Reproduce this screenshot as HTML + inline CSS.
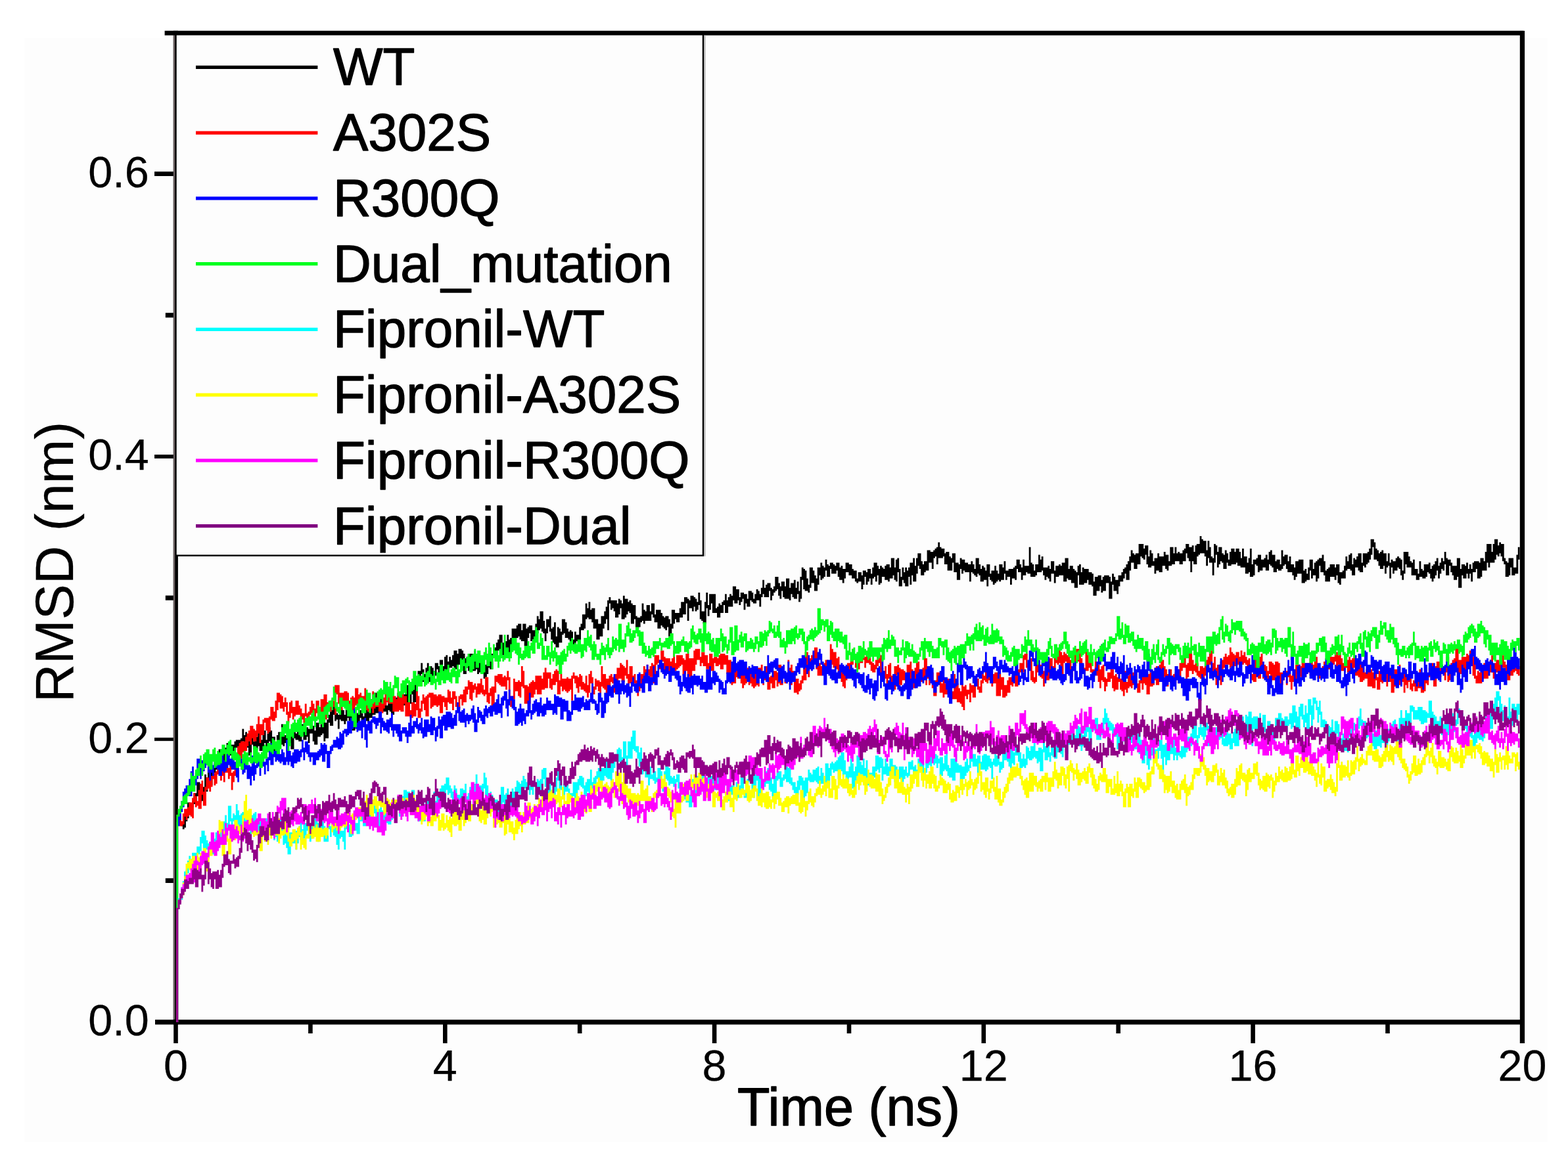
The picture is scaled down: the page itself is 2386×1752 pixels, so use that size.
<!DOCTYPE html>
<html lang="en"><head><meta charset="utf-8"><title>RMSD vs Time</title>
<style>
html,body{margin:0;padding:0;background:#fff;}
body{width:2386px;height:1752px;overflow:hidden;}
svg{display:block;}
text{font-family:"Liberation Sans","DejaVu Sans",sans-serif;fill:#000;stroke:#000;stroke-width:1.3px;stroke-linejoin:round;}
.tick text{font-size:66.5px;stroke-width:0.25px;}
text.ttl{font-size:81px;}
text.leg{font-size:80px;stroke-width:1.3px;}
.crv{fill:none;stroke-linejoin:miter;stroke-miterlimit:6;stroke-linecap:butt;}
</style></head>
<body>
<svg width="2386" height="1752" viewBox="0 0 2386 1752" role="img" aria-label="RMSD versus time line chart">
<rect x="0" y="0" width="2386" height="1752" fill="#ffffff"/>
<rect x="37" y="58" width="2318" height="1680" fill="#fdfdfd"/>
<rect x="271" y="54" width="2042" height="1498" fill="#fdfdfd"/>
<g fill="#000">
<rect x="263.8" y="46.8" width="7.1" height="1512.7"/>
<rect x="250.6" y="46.8" width="2067.7" height="7.0"/>
<rect x="236" y="1552.1" width="2084" height="7.4"/>
<rect x="235" y="1122.8" width="31" height="5.0"/>
<rect x="235" y="692.0" width="31" height="5.8"/>
<rect x="235" y="261.2" width="31" height="6.8"/>
<rect x="251.8" y="1336.8" width="14" height="7.2"/>
<rect x="251.8" y="906.5" width="14" height="7.2"/>
<rect x="251.8" y="476.2" width="14" height="7.2"/>
<rect x="264.2" y="1555" width="6.6" height="33"/>
<rect x="674.0" y="1555" width="6.6" height="33"/>
<rect x="1083.8" y="1555" width="6.6" height="33"/>
<rect x="1493.5" y="1555" width="6.6" height="33"/>
<rect x="1903.3" y="1555" width="6.6" height="33"/>
<rect x="469.1" y="1555" width="6.6" height="18"/>
<rect x="878.9" y="1555" width="6.6" height="18"/>
<rect x="1288.7" y="1555" width="6.6" height="18"/>
<rect x="1698.4" y="1555" width="6.6" height="18"/>
<rect x="2108.2" y="1555" width="6.6" height="18"/>
</g>
<g class="crv" stroke-width="2.8">
<path stroke="#000000" d="M269.7 1556.1V1251.1M272.0 1247.9V1255.0M274.4 1247.9V1255.0M276.8 1250.3V1257.4M279.2 1250.3V1262.2M281.5 1243.1V1259.8M283.9 1238.3V1250.3M286.3 1221.6V1245.5M288.7 1221.6V1238.3M291.1 1224.0V1240.7M293.5 1219.2V1228.8M295.8 1207.3V1224.0M298.2 1207.3V1221.6M300.6 1190.6V1212.1M303.0 1190.6V1207.3M305.4 1200.2V1221.6M307.8 1202.5V1219.2M310.2 1197.8V1219.2M312.5 1178.7V1202.5M314.9 1183.5V1204.9M317.3 1162.0V1188.2M319.7 1162.0V1195.4M322.1 1173.9V1195.4M324.5 1171.5V1183.5M326.9 1162.0V1176.3M329.2 1162.0V1171.5M331.6 1154.8V1169.1M334.0 1140.5V1166.8M336.4 1140.5V1162.0M338.8 1140.5V1162.0M341.2 1138.1V1159.6M343.5 1138.1V1157.2M345.9 1131.0V1145.3M348.3 1133.4V1152.4M350.7 1133.4V1150.1M353.1 1133.4V1150.1M355.5 1133.4V1147.7M357.9 1128.6V1140.5M360.2 1126.2V1138.1M362.6 1126.2V1152.4M365.0 1126.2V1147.7M367.4 1123.8V1147.7M369.8 1109.5V1128.6M372.2 1119.0V1131.0M374.6 1114.3V1135.7M376.9 1123.8V1138.1M379.3 1123.8V1150.1M381.7 1123.8V1147.7M384.1 1121.4V1133.4M386.5 1128.6V1140.5M388.9 1123.8V1142.9M391.2 1121.4V1140.5M393.6 1109.5V1135.7M396.0 1111.9V1142.9M398.4 1126.2V1142.9M400.8 1111.9V1140.5M403.2 1111.9V1131.0M405.6 1126.2V1138.1M407.9 1116.6V1133.4M410.3 1107.1V1128.6M412.7 1111.9V1133.4M415.1 1121.4V1133.4M417.5 1121.4V1142.9M419.9 1135.7V1145.3M422.3 1119.0V1145.3M424.6 1114.3V1145.3M427.0 1114.3V1133.4M429.4 1102.3V1133.4M431.8 1109.5V1135.7M434.2 1119.0V1131.0M436.6 1119.0V1133.4M438.9 1114.3V1131.0M441.3 1114.3V1131.0M443.7 1114.3V1140.5M446.1 1114.3V1140.5M448.5 1114.3V1123.8M450.9 1116.6V1126.2M453.3 1109.5V1126.2M455.6 1116.6V1128.6M458.0 1102.3V1128.6M460.4 1102.3V1119.0M462.8 1102.3V1126.2M465.2 1114.3V1126.2M467.6 1107.1V1121.4M470.0 1109.5V1131.0M472.3 1109.5V1116.6M474.7 1097.6V1116.6M477.1 1104.7V1128.6M479.5 1111.9V1133.4M481.9 1099.9V1133.4M484.3 1099.9V1121.4M486.6 1107.1V1121.4M489.0 1102.3V1119.0M491.4 1099.9V1116.6M493.8 1099.9V1128.6M496.2 1099.9V1123.8M498.6 1095.2V1123.8M501.0 1088.0V1099.9M503.3 1083.2V1104.7M505.7 1078.5V1104.7M508.1 1076.1V1088.0M510.5 1076.1V1097.6M512.9 1085.6V1095.2M515.3 1088.0V1109.5M517.7 1080.9V1095.2M520.0 1078.5V1097.6M522.4 1080.9V1097.6M524.8 1088.0V1102.3M527.2 1073.7V1097.6M529.6 1076.1V1092.8M532.0 1076.1V1097.6M534.3 1085.6V1099.9M536.7 1085.6V1111.9M539.1 1095.2V1111.9M541.5 1078.5V1099.9M543.9 1085.6V1099.9M546.3 1080.9V1099.9M548.7 1080.9V1092.8M551.0 1085.6V1104.7M553.4 1090.4V1107.1M555.8 1076.1V1097.6M558.2 1071.3V1097.6M560.6 1083.2V1099.9M563.0 1066.5V1092.8M565.4 1064.2V1092.8M567.7 1076.1V1088.0M570.1 1054.6V1088.0M572.5 1054.6V1085.6M574.9 1064.2V1085.6M577.3 1064.2V1085.6M579.7 1054.6V1080.9M582.0 1057.0V1078.5M584.4 1064.2V1083.2M586.8 1068.9V1083.2M589.2 1073.7V1088.0M591.6 1052.2V1080.9M594.0 1064.2V1083.2M596.4 1064.2V1088.0M598.7 1059.4V1088.0M601.1 1066.5V1073.7M603.5 1061.8V1080.9M605.9 1054.6V1073.7M608.3 1054.6V1080.9M610.7 1052.2V1064.2M613.1 1052.2V1073.7M615.4 1057.0V1073.7M617.8 1045.1V1066.5M620.2 1042.7V1073.7M622.6 1042.7V1071.3M625.0 1037.9V1071.3M627.4 1042.7V1057.0M629.7 1049.8V1068.9M632.1 1040.3V1068.9M634.5 1030.8V1054.6M636.9 1021.2V1035.5M639.3 1021.2V1040.3M641.7 1009.3V1026.0M644.1 1018.8V1037.9M646.4 1026.0V1035.5M648.8 1016.4V1035.5M651.2 1009.3V1040.3M653.6 1014.1V1037.9M656.0 1014.1V1030.8M658.4 1016.4V1030.8M660.8 1021.2V1035.5M663.1 1009.3V1028.4M665.5 1009.3V1018.8M667.9 1014.1V1035.5M670.3 1004.5V1030.8M672.7 1004.5V1028.4M675.1 1014.1V1030.8M677.4 999.7V1018.8M679.8 997.3V1023.6M682.2 1006.9V1030.8M684.6 999.7V1016.4M687.0 1004.5V1016.4M689.4 997.3V1014.1M691.8 990.2V1016.4M694.1 990.2V1018.8M696.5 995.0V1014.1M698.9 987.8V1011.7M701.3 987.8V1006.9M703.7 990.2V1004.5M706.1 995.0V1026.0M708.5 1002.1V1026.0M710.8 999.7V1016.4M713.2 995.0V1021.2M715.6 995.0V1021.2M718.0 995.0V1016.4M720.4 1004.5V1021.2M722.8 990.2V1021.2M725.1 1006.9V1018.8M727.5 1004.5V1026.0M729.9 999.7V1023.6M732.3 999.7V1023.6M734.7 999.7V1021.2M737.1 1011.7V1033.1M739.5 1011.7V1030.8M741.8 997.3V1026.0M744.2 990.2V1016.4M746.6 990.2V1018.8M749.0 995.0V1018.8M751.4 987.8V1002.1M753.8 985.4V999.7M756.2 978.3V999.7M758.5 973.5V990.2M760.9 966.3V990.2M763.3 966.3V997.3M765.7 978.3V997.3M768.1 987.8V999.7M770.5 975.9V999.7M772.8 966.3V992.6M775.2 973.5V999.7M777.6 971.1V983.0M780.0 956.8V983.0M782.4 956.8V983.0M784.8 956.8V983.0M787.2 952.0V971.1M789.5 949.6V968.7M791.9 949.6V973.5M794.3 959.2V975.9M796.7 949.6V975.9M799.1 949.6V983.0M801.5 956.8V983.0M803.9 954.4V971.1M806.2 952.0V963.9M808.6 952.0V975.9M811.0 959.2V973.5M813.4 959.2V978.3M815.8 949.6V963.9M818.2 937.7V963.9M820.5 942.5V959.2M822.9 930.5V956.8M825.3 930.5V961.6M827.7 944.9V963.9M830.1 956.8V975.9M832.5 942.5V963.9M834.9 942.5V954.4M837.2 937.7V961.6M839.6 956.8V973.5M842.0 954.4V978.3M844.4 947.2V980.6M846.8 968.7V985.4M849.2 954.4V985.4M851.6 956.8V978.3M853.9 961.6V978.3M856.3 942.5V966.3M858.7 942.5V963.9M861.1 947.2V971.1M863.5 956.8V971.1M865.9 961.6V973.5M868.2 959.2V975.9M870.6 961.6V985.4M873.0 973.5V990.2M875.4 961.6V990.2M877.8 966.3V975.9M880.2 966.3V985.4M882.6 954.4V985.4M884.9 949.6V959.2M887.3 935.3V959.2M889.7 935.3V956.8M892.1 918.6V942.5M894.5 925.8V940.1M896.9 916.2V942.5M899.3 928.2V942.5M901.6 925.8V947.2M904.0 925.8V956.8M906.4 942.5V956.8M908.8 942.5V973.5M911.2 949.6V973.5M913.6 949.6V968.7M915.9 937.7V968.7M918.3 937.7V956.8M920.7 930.5V949.6M923.1 923.4V942.5M925.5 913.8V959.2M927.9 909.1V918.6M930.3 913.8V928.2M932.6 913.8V925.8M935.0 913.8V930.5M937.4 913.8V940.1M939.8 918.6V940.1M942.2 911.5V935.3M944.6 913.8V925.8M947.0 918.6V942.5M949.3 906.7V942.5M951.7 911.5V940.1M954.1 911.5V935.3M956.5 916.2V930.5M958.9 913.8V932.9M961.3 918.6V949.6M963.6 921.0V949.6M966.0 921.0V942.5M968.4 937.7V956.8M970.8 940.1V956.8M973.2 940.1V954.4M975.6 937.7V947.2M978.0 918.6V944.9M980.3 928.2V949.6M982.7 930.5V944.9M985.1 921.0V944.9M987.5 921.0V944.9M989.9 930.5V944.9M992.3 918.6V935.3M994.7 918.6V940.1M997.0 935.3V947.2M999.4 928.2V947.2M1001.8 928.2V956.8M1004.2 928.2V956.8M1006.6 932.9V952.0M1009.0 937.7V954.4M1011.3 940.1V956.8M1013.7 937.7V959.2M1016.1 937.7V954.4M1018.5 942.5V968.7M1020.9 949.6V968.7M1023.3 928.2V956.8M1025.7 928.2V949.6M1028.0 932.9V942.5M1030.4 932.9V947.2M1032.8 932.9V947.2M1035.2 925.8V940.1M1037.6 916.2V940.1M1040.0 916.2V935.3M1042.4 909.1V935.3M1044.7 909.1V918.6M1047.1 911.5V944.9M1049.5 913.8V925.8M1051.9 906.7V925.8M1054.3 906.7V930.5M1056.7 909.1V923.4M1059.0 911.5V930.5M1061.4 916.2V928.2M1063.8 901.9V921.0M1066.2 913.8V942.5M1068.6 930.5V944.9M1071.0 930.5V949.6M1073.4 916.2V949.6M1075.7 901.9V925.8M1078.1 921.0V937.7M1080.5 904.3V928.2M1082.9 904.3V918.6M1085.3 904.3V932.9M1087.7 904.3V932.9M1090.1 925.8V932.9M1092.4 923.4V940.1M1094.8 918.6V940.1M1097.2 921.0V932.9M1099.6 916.2V932.9M1102.0 913.8V921.0M1104.4 904.3V932.9M1106.7 913.8V932.9M1109.1 909.1V923.4M1111.5 904.3V923.4M1113.9 906.7V923.4M1116.3 892.4V913.8M1118.7 892.4V918.6M1121.1 897.1V918.6M1123.4 897.1V913.8M1125.8 909.1V921.0M1128.2 901.9V916.2M1130.6 901.9V911.5M1133.0 904.3V928.2M1135.4 904.3V918.6M1137.8 911.5V923.4M1140.1 899.5V923.4M1142.5 899.5V913.8M1144.9 901.9V916.2M1147.3 911.5V918.6M1149.7 904.3V918.6M1152.1 897.1V913.8M1154.4 899.5V913.8M1156.8 904.3V923.4M1159.2 894.8V909.1M1161.6 882.8V904.3M1164.0 894.8V909.1M1166.4 890.0V909.1M1168.8 887.6V909.1M1171.1 887.6V899.5M1173.5 894.8V913.8M1175.9 897.1V906.7M1178.3 892.4V901.9M1180.7 878.0V899.5M1183.1 878.0V897.1M1185.5 887.6V906.7M1187.8 892.4V911.5M1190.2 885.2V899.5M1192.6 885.2V909.1M1195.0 892.4V911.5M1197.4 880.4V911.5M1199.8 880.4V911.5M1202.1 894.8V913.8M1204.5 887.6V904.3M1206.9 887.6V909.1M1209.3 882.8V911.5M1211.7 894.8V911.5M1214.1 885.2V904.3M1216.5 899.5V916.2M1218.8 878.0V911.5M1221.2 863.7V882.8M1223.6 866.1V897.1M1226.0 868.5V899.5M1228.4 880.4V899.5M1230.8 890.0V901.9M1233.2 863.7V894.8M1235.5 863.7V887.6M1237.9 868.5V887.6M1240.3 875.7V899.5M1242.7 880.4V899.5M1245.1 863.7V890.0M1247.5 863.7V875.7M1249.8 856.6V882.8M1252.2 861.3V880.4M1254.6 863.7V878.0M1257.0 851.8V868.5M1259.4 859.0V878.0M1261.8 861.3V878.0M1264.2 856.6V866.1M1266.5 856.6V873.3M1268.9 859.0V873.3M1271.3 861.3V873.3M1273.7 856.6V868.5M1276.1 856.6V878.0M1278.5 863.7V882.8M1280.9 861.3V882.8M1283.2 866.1V887.6M1285.6 866.1V880.4M1288.0 856.6V870.9M1290.4 856.6V870.9M1292.8 859.0V875.7M1295.2 859.0V875.7M1297.5 866.1V880.4M1299.9 868.5V880.4M1302.3 868.5V885.2M1304.7 880.4V887.6M1307.1 870.9V885.2M1309.5 870.9V885.2M1311.9 875.7V897.1M1314.2 868.5V890.0M1316.6 868.5V878.0M1319.0 870.9V890.0M1321.4 866.1V885.2M1323.8 866.1V880.4M1326.2 873.3V890.0M1328.6 863.7V880.4M1330.9 856.6V878.0M1333.3 856.6V885.2M1335.7 861.3V875.7M1338.1 866.1V890.0M1340.5 861.3V887.6M1342.9 863.7V878.0M1345.2 866.1V878.0M1347.6 861.3V882.8M1350.0 859.0V882.8M1352.4 859.0V885.2M1354.8 863.7V880.4M1357.2 849.4V880.4M1359.6 849.4V875.7M1361.9 863.7V882.8M1364.3 851.8V885.2M1366.7 849.4V870.9M1369.1 866.1V892.4M1371.5 878.0V892.4M1373.9 863.7V882.8M1376.3 870.9V887.6M1378.6 863.7V892.4M1381.0 868.5V892.4M1383.4 863.7V878.0M1385.8 856.6V890.0M1388.2 856.6V875.7M1390.6 849.4V885.2M1392.9 861.3V885.2M1395.3 849.4V873.3M1397.7 842.3V861.3M1400.1 842.3V866.1M1402.5 854.2V875.7M1404.9 859.0V875.7M1407.3 854.2V870.9M1409.6 854.2V868.5M1412.0 837.5V868.5M1414.4 837.5V856.6M1416.8 839.9V856.6M1419.2 839.9V866.1M1421.6 837.5V849.4M1424.0 835.1V847.0M1426.3 832.7V859.0M1428.7 825.6V849.4M1431.1 832.7V849.4M1433.5 835.1V849.4M1435.9 835.1V847.0M1438.3 842.3V859.0M1440.6 839.9V859.0M1443.0 839.9V868.5M1445.4 847.0V868.5M1447.8 849.4V868.5M1450.2 842.3V856.6M1452.6 842.3V870.9M1455.0 856.6V870.9M1457.3 856.6V882.8M1459.7 859.0V882.8M1462.1 849.4V866.1M1464.5 851.8V873.3M1466.9 851.8V868.5M1469.3 856.6V870.9M1471.7 856.6V870.9M1474.0 859.0V870.9M1476.4 859.0V885.2M1478.8 854.2V870.9M1481.2 859.0V873.3M1483.6 866.1V875.7M1486.0 849.4V878.0M1488.3 849.4V873.3M1490.7 859.0V875.7M1493.1 866.1V885.2M1495.5 861.3V885.2M1497.9 863.7V882.8M1500.3 868.5V882.8M1502.7 859.0V892.4M1505.0 859.0V878.0M1507.4 873.3V882.8M1509.8 868.5V885.2M1512.2 868.5V890.0M1514.6 861.3V887.6M1517.0 868.5V885.2M1519.4 873.3V882.8M1521.7 859.0V885.2M1524.1 859.0V882.8M1526.5 863.7V882.8M1528.9 854.2V873.3M1531.3 868.5V882.8M1533.7 868.5V878.0M1536.0 866.1V878.0M1538.4 866.1V890.0M1540.8 866.1V880.4M1543.2 863.7V880.4M1545.6 861.3V882.8M1548.0 851.8V866.1M1550.4 851.8V870.9M1552.7 859.0V870.9M1555.1 863.7V882.8M1557.5 851.8V875.7M1559.9 861.3V875.7M1562.3 861.3V870.9M1564.7 861.3V873.3M1567.1 832.7V873.3M1569.4 856.6V878.0M1571.8 859.0V878.0M1574.2 868.5V878.0M1576.6 859.0V875.7M1579.0 859.0V870.9M1581.4 844.6V870.9M1583.7 851.8V870.9M1586.1 847.0V868.5M1588.5 863.7V875.7M1590.9 863.7V882.8M1593.3 863.7V878.0M1595.7 861.3V880.4M1598.1 866.1V885.2M1600.4 854.2V873.3M1602.8 854.2V873.3M1605.2 868.5V887.6M1607.6 861.3V878.0M1610.0 861.3V878.0M1612.4 859.0V875.7M1614.8 861.3V875.7M1617.1 856.6V875.7M1619.5 856.6V885.2M1621.9 849.4V885.2M1624.3 849.4V880.4M1626.7 866.1V882.8M1629.1 861.3V882.8M1631.4 861.3V887.6M1633.8 866.1V887.6M1636.2 868.5V894.8M1638.6 870.9V894.8M1641.0 861.3V875.7M1643.4 859.0V890.0M1645.8 870.9V890.0M1648.1 863.7V890.0M1650.5 866.1V887.6M1652.9 866.1V887.6M1655.3 866.1V882.8M1657.7 870.9V890.0M1660.1 870.9V890.0M1662.5 873.3V892.4M1664.8 885.2V906.7M1667.2 878.0V906.7M1669.6 878.0V899.5M1672.0 875.7V899.5M1674.4 875.7V892.4M1676.8 882.8V901.9M1679.1 878.0V899.5M1681.5 875.7V899.5M1683.9 875.7V887.6M1686.3 875.7V887.6M1688.7 878.0V911.5M1691.1 885.2V911.5M1693.5 873.3V890.0M1695.8 878.0V899.5M1698.2 882.8V899.5M1700.6 882.8V904.3M1703.0 875.7V892.4M1705.4 875.7V885.2M1707.8 870.9V885.2M1710.2 866.1V880.4M1712.5 863.7V873.3M1714.9 859.0V882.8M1717.3 854.2V882.8M1719.7 847.0V868.5M1722.1 837.5V856.6M1724.5 842.3V856.6M1726.8 844.6V866.1M1729.2 842.3V866.1M1731.6 842.3V859.0M1734.0 827.9V859.0M1736.4 827.9V847.0M1738.8 827.9V849.4M1741.2 835.1V851.8M1743.5 830.3V844.6M1745.9 830.3V859.0M1748.3 847.0V863.7M1750.7 837.5V863.7M1753.1 842.3V861.3M1755.5 854.2V861.3M1757.9 849.4V873.3M1760.2 849.4V868.5M1762.6 842.3V868.5M1765.0 847.0V870.9M1767.4 847.0V870.9M1769.8 847.0V861.3M1772.2 839.9V861.3M1774.5 844.6V866.1M1776.9 844.6V868.5M1779.3 854.2V861.3M1781.7 832.7V861.3M1784.1 832.7V859.0M1786.5 842.3V859.0M1788.9 832.7V854.2M1791.2 842.3V854.2M1793.6 839.9V854.2M1796.0 842.3V859.0M1798.4 842.3V859.0M1800.8 837.5V854.2M1803.2 835.1V854.2M1805.6 827.9V842.3M1807.9 827.9V849.4M1810.3 832.7V854.2M1812.7 832.7V870.9M1815.1 830.3V854.2M1817.5 839.9V859.0M1819.9 830.3V859.0M1822.2 827.9V847.0M1824.6 827.9V844.6M1827.0 816.0V842.3M1829.4 820.8V842.3M1831.8 823.2V842.3M1834.2 823.2V847.0M1836.6 837.5V861.3M1838.9 823.2V849.4M1841.3 832.7V856.6M1843.7 847.0V856.6M1846.1 849.4V875.7M1848.5 827.9V856.6M1850.9 830.3V844.6M1853.3 839.9V863.7M1855.6 832.7V859.0M1858.0 832.7V854.2M1860.4 842.3V856.6M1862.8 844.6V866.1M1865.2 837.5V866.1M1867.6 842.3V856.6M1869.9 851.8V861.3M1872.3 839.9V861.3M1874.7 835.1V859.0M1877.1 835.1V859.0M1879.5 839.9V859.0M1881.9 835.1V856.6M1884.3 835.1V861.3M1886.6 839.9V861.3M1889.0 849.4V863.7M1891.4 835.1V863.7M1893.8 847.0V863.7M1896.2 847.0V873.3M1898.6 856.6V873.3M1901.0 849.4V870.9M1903.3 835.1V878.0M1905.7 859.0V878.0M1908.1 851.8V875.7M1910.5 851.8V859.0M1912.9 849.4V861.3M1915.3 844.6V870.9M1917.6 844.6V868.5M1920.0 851.8V868.5M1922.4 851.8V863.7M1924.8 849.4V863.7M1927.2 844.6V868.5M1929.6 851.8V868.5M1932.0 839.9V859.0M1934.3 837.5V861.3M1936.7 844.6V863.7M1939.1 844.6V870.9M1941.5 854.2V870.9M1943.9 851.8V866.1M1946.3 851.8V868.5M1948.7 859.0V868.5M1951.0 837.5V866.1M1953.4 847.0V861.3M1955.8 844.6V859.0M1958.2 844.6V866.1M1960.6 854.2V870.9M1963.0 847.0V870.9M1965.3 859.0V870.9M1967.7 859.0V875.7M1970.1 863.7V882.8M1972.5 854.2V878.0M1974.9 854.2V873.3M1977.3 851.8V873.3M1979.7 851.8V873.3M1982.0 851.8V887.6M1984.4 868.5V887.6M1986.8 866.1V885.2M1989.2 873.3V882.8M1991.6 863.7V882.8M1994.0 851.8V868.5M1996.4 851.8V880.4M1998.7 866.1V875.7M2001.1 856.6V875.7M2003.5 854.2V885.2M2005.9 851.8V880.4M2008.3 849.4V861.3M2010.7 849.4V870.9M2013.0 844.6V870.9M2015.4 854.2V875.7M2017.8 868.5V885.2M2020.2 866.1V885.2M2022.6 863.7V885.2M2025.0 859.0V878.0M2027.4 859.0V878.0M2029.7 859.0V878.0M2032.1 863.7V882.8M2034.5 859.0V875.7M2036.9 859.0V887.6M2039.3 870.9V890.0M2041.7 870.9V880.4M2044.1 868.5V880.4M2046.4 861.3V880.4M2048.8 847.0V868.5M2051.2 854.2V866.1M2053.6 844.6V866.1M2056.0 842.3V868.5M2058.4 859.0V875.7M2060.7 849.4V875.7M2063.1 851.8V863.7M2065.5 847.0V863.7M2067.9 842.3V868.5M2070.3 842.3V870.9M2072.7 856.6V870.9M2075.1 842.3V861.3M2077.4 842.3V863.7M2079.8 842.3V859.0M2082.2 839.9V856.6M2084.6 835.1V851.8M2087.0 820.8V844.6M2089.4 820.8V832.7M2091.8 825.6V851.8M2094.1 835.1V851.8M2096.5 837.5V854.2M2098.9 842.3V861.3M2101.3 839.9V866.1M2103.7 837.5V866.1M2106.1 842.3V861.3M2108.4 842.3V873.3M2110.8 854.2V863.7M2113.2 842.3V861.3M2115.6 856.6V880.4M2118.0 851.8V863.7M2120.4 854.2V873.3M2122.8 854.2V868.5M2125.1 849.4V868.5M2127.5 847.0V863.7M2129.9 849.4V866.1M2132.3 851.8V875.7M2134.7 868.5V882.8M2137.1 839.9V873.3M2139.5 839.9V859.0M2141.8 839.9V863.7M2144.2 847.0V863.7M2146.6 854.2V863.7M2149.0 856.6V875.7M2151.4 851.8V875.7M2153.8 866.1V875.7M2156.1 866.1V882.8M2158.5 873.3V882.8M2160.9 854.2V878.0M2163.3 866.1V878.0M2165.7 868.5V880.4M2168.1 859.0V880.4M2170.5 859.0V878.0M2172.8 859.0V870.9M2175.2 856.6V873.3M2177.6 866.1V880.4M2180.0 861.3V885.2M2182.4 859.0V880.4M2184.8 854.2V875.7M2187.2 849.4V868.5M2189.5 861.3V880.4M2191.9 856.6V873.3M2194.3 849.4V866.1M2196.7 854.2V868.5M2199.1 839.9V859.0M2201.5 849.4V875.7M2203.8 851.8V875.7M2206.2 851.8V861.3M2208.6 856.6V870.9M2211.0 861.3V875.7M2213.4 861.3V882.8M2215.8 861.3V882.8M2218.2 849.4V878.0M2220.5 849.4V894.8M2222.9 866.1V894.8M2225.3 859.0V875.7M2227.7 859.0V880.4M2230.1 861.3V880.4M2232.5 856.6V873.3M2234.9 866.1V880.4M2237.2 859.0V873.3M2239.6 866.1V885.2M2242.0 856.6V870.9M2244.4 854.2V870.9M2246.8 854.2V866.1M2249.2 854.2V880.4M2251.5 856.6V880.4M2253.9 849.4V878.0M2256.3 849.4V868.5M2258.7 854.2V868.5M2261.1 839.9V868.5M2263.5 827.9V856.6M2265.9 827.9V863.7M2268.2 827.9V856.6M2270.6 839.9V856.6M2273.0 827.9V856.6M2275.4 820.8V851.8M2277.8 820.8V844.6M2280.2 830.3V847.0M2282.6 825.6V842.3M2284.9 827.9V847.0M2287.3 827.9V854.2M2289.7 849.4V859.0M2292.1 854.2V878.0M2294.5 856.6V878.0M2296.9 849.4V875.7M2299.2 849.4V863.7M2301.6 849.4V875.7M2304.0 863.7V875.7M2306.4 863.7V873.3M2308.8 844.6V873.3M2311.2 832.7V851.8"/>
<path stroke="#ff0000" d="M269.7 1556.1V1251.1M272.0 1243.1V1255.0M274.4 1247.9V1257.4M276.8 1250.3V1257.4M279.2 1238.3V1255.0M281.5 1231.2V1243.1M283.9 1231.2V1247.9M286.3 1228.8V1243.1M288.7 1221.6V1240.7M291.1 1221.6V1243.1M293.5 1214.5V1245.5M295.8 1207.3V1221.6M298.2 1212.1V1228.8M300.6 1219.2V1226.4M303.0 1202.5V1231.2M305.4 1193.0V1231.2M307.8 1188.2V1209.7M310.2 1204.9V1226.4M312.5 1197.8V1226.4M314.9 1183.5V1202.5M317.3 1183.5V1200.2M319.7 1183.5V1204.9M322.1 1181.1V1197.8M324.5 1176.3V1185.8M326.9 1176.3V1195.4M329.2 1173.9V1193.0M331.6 1150.1V1178.7M334.0 1164.4V1181.1M336.4 1173.9V1188.2M338.8 1147.7V1181.1M341.2 1169.1V1190.6M343.5 1157.2V1176.3M345.9 1157.2V1176.3M348.3 1169.1V1185.8M350.7 1164.4V1181.1M353.1 1176.3V1202.5M355.5 1173.9V1190.6M357.9 1162.0V1181.1M360.2 1157.2V1178.7M362.6 1135.7V1166.8M365.0 1131.0V1152.4M367.4 1128.6V1154.8M369.8 1128.6V1145.3M372.2 1128.6V1150.1M374.6 1121.4V1142.9M376.9 1116.6V1135.7M379.3 1111.9V1128.6M381.7 1104.7V1133.4M384.1 1104.7V1123.8M386.5 1109.5V1128.6M388.9 1111.9V1128.6M391.2 1102.3V1121.4M393.6 1090.4V1116.6M396.0 1102.3V1131.0M398.4 1102.3V1119.0M400.8 1095.2V1119.0M403.2 1092.8V1099.9M405.6 1092.8V1111.9M407.9 1092.8V1116.6M410.3 1090.4V1114.3M412.7 1076.1V1095.2M415.1 1076.1V1097.6M417.5 1083.2V1097.6M419.9 1066.5V1092.8M422.3 1054.6V1080.9M424.6 1054.6V1068.9M427.0 1057.0V1078.5M429.4 1059.4V1078.5M431.8 1068.9V1083.2M434.2 1061.8V1076.1M436.6 1068.9V1088.0M438.9 1083.2V1099.9M441.3 1068.9V1092.8M443.7 1066.5V1085.6M446.1 1076.1V1095.2M448.5 1076.1V1090.4M450.9 1066.5V1088.0M453.3 1066.5V1088.0M455.6 1073.7V1088.0M458.0 1078.5V1099.9M460.4 1085.6V1095.2M462.8 1085.6V1099.9M465.2 1071.3V1090.4M467.6 1085.6V1099.9M470.0 1083.2V1097.6M472.3 1076.1V1088.0M474.7 1066.5V1085.6M477.1 1071.3V1083.2M479.5 1078.5V1095.2M481.9 1066.5V1085.6M484.3 1066.5V1090.4M486.6 1083.2V1095.2M489.0 1064.2V1088.0M491.4 1064.2V1085.6M493.8 1057.0V1083.2M496.2 1057.0V1095.2M498.6 1068.9V1092.8M501.0 1071.3V1083.2M503.3 1066.5V1083.2M505.7 1064.2V1078.5M508.1 1066.5V1076.1M510.5 1042.7V1088.0M512.9 1042.7V1057.0M515.3 1042.7V1071.3M517.7 1054.6V1073.7M520.0 1054.6V1080.9M522.4 1054.6V1073.7M524.8 1052.2V1073.7M527.2 1052.2V1071.3M529.6 1054.6V1073.7M532.0 1066.5V1083.2M534.3 1061.8V1073.7M536.7 1059.4V1080.9M539.1 1061.8V1080.9M541.5 1047.5V1073.7M543.9 1047.5V1073.7M546.3 1057.0V1071.3M548.7 1054.6V1076.1M551.0 1059.4V1078.5M553.4 1059.4V1071.3M555.8 1047.5V1080.9M558.2 1068.9V1080.9M560.6 1064.2V1083.2M563.0 1064.2V1078.5M565.4 1064.2V1078.5M567.7 1052.2V1085.6M570.1 1061.8V1078.5M572.5 1061.8V1076.1M574.9 1054.6V1076.1M577.3 1059.4V1083.2M579.7 1068.9V1083.2M582.0 1068.9V1085.6M584.4 1061.8V1078.5M586.8 1057.0V1073.7M589.2 1049.8V1068.9M591.6 1049.8V1071.3M594.0 1049.8V1071.3M596.4 1052.2V1071.3M598.7 1059.4V1083.2M601.1 1059.4V1083.2M603.5 1064.2V1083.2M605.9 1054.6V1083.2M608.3 1061.8V1080.9M610.7 1061.8V1083.2M613.1 1057.0V1083.2M615.4 1059.4V1071.3M617.8 1059.4V1090.4M620.2 1068.9V1090.4M622.6 1061.8V1090.4M625.0 1080.9V1092.8M627.4 1068.9V1092.8M629.7 1068.9V1090.4M632.1 1071.3V1090.4M634.5 1052.2V1080.9M636.9 1059.4V1092.8M639.3 1078.5V1092.8M641.7 1066.5V1083.2M644.1 1057.0V1071.3M646.4 1061.8V1080.9M648.8 1059.4V1090.4M651.2 1057.0V1090.4M653.6 1054.6V1061.8M656.0 1054.6V1078.5M658.4 1054.6V1076.1M660.8 1057.0V1073.7M663.1 1057.0V1073.7M665.5 1059.4V1076.1M667.9 1057.0V1073.7M670.3 1057.0V1085.6M672.7 1059.4V1085.6M675.1 1059.4V1068.9M677.4 1061.8V1076.1M679.8 1061.8V1080.9M682.2 1049.8V1068.9M684.6 1052.2V1071.3M687.0 1061.8V1071.3M689.4 1052.2V1080.9M691.8 1052.2V1064.2M694.1 1059.4V1076.1M696.5 1068.9V1080.9M698.9 1059.4V1078.5M701.3 1057.0V1064.2M703.7 1057.0V1073.7M706.1 1049.8V1068.9M708.5 1045.1V1068.9M710.8 1045.1V1057.0M713.2 1035.5V1049.8M715.6 1037.9V1064.2M718.0 1037.9V1066.5M720.4 1042.7V1054.6M722.8 1040.3V1049.8M725.1 1045.1V1061.8M727.5 1040.3V1057.0M729.9 1040.3V1057.0M732.3 1033.1V1054.6M734.7 1042.7V1057.0M737.1 1049.8V1059.4M739.5 1030.8V1057.0M741.8 1030.8V1068.9M744.2 1054.6V1071.3M746.6 1047.5V1059.4M749.0 1045.1V1076.1M751.4 1045.1V1076.1M753.8 1028.4V1054.6M756.2 1028.4V1037.9M758.5 1026.0V1040.3M760.9 1026.0V1042.7M763.3 1026.0V1045.1M765.7 1030.8V1045.1M768.1 1028.4V1045.1M770.5 1030.8V1049.8M772.8 1021.2V1035.5M775.2 1030.8V1064.2M777.6 1059.4V1076.1M780.0 1059.4V1076.1M782.4 1033.1V1064.2M784.8 1037.9V1052.2M787.2 1037.9V1052.2M789.5 1035.5V1059.4M791.9 1037.9V1061.8M794.3 1014.1V1045.1M796.7 1021.2V1047.5M799.1 1042.7V1071.3M801.5 1042.7V1071.3M803.9 1045.1V1071.3M806.2 1040.3V1071.3M808.6 1037.9V1061.8M811.0 1035.5V1061.8M813.4 1037.9V1057.0M815.8 1028.4V1049.8M818.2 1028.4V1057.0M820.5 1028.4V1057.0M822.9 1028.4V1057.0M825.3 1033.1V1049.8M827.7 1023.6V1049.8M830.1 1016.4V1047.5M832.5 1023.6V1047.5M834.9 1023.6V1033.1M837.2 1023.6V1047.5M839.6 1033.1V1049.8M842.0 1026.0V1042.7M844.4 1021.2V1042.7M846.8 1018.8V1037.9M849.2 1021.2V1057.0M851.6 1035.5V1057.0M853.9 1026.0V1045.1M856.3 1033.1V1052.2M858.7 1033.1V1049.8M861.1 1033.1V1052.2M863.5 1030.8V1054.6M865.9 1033.1V1052.2M868.2 1033.1V1049.8M870.6 1028.4V1066.5M873.0 1023.6V1033.1M875.4 1028.4V1040.3M877.8 1028.4V1047.5M880.2 1030.8V1054.6M882.6 1026.0V1045.1M884.9 1028.4V1049.8M887.3 1037.9V1049.8M889.7 1040.3V1052.2M892.1 1028.4V1054.6M894.5 1042.7V1061.8M896.9 1026.0V1054.6M899.3 1021.2V1040.3M901.6 1030.8V1057.0M904.0 1045.1V1057.0M906.4 1033.1V1049.8M908.8 1035.5V1045.1M911.2 1035.5V1052.2M913.6 1037.9V1059.4M915.9 1014.1V1045.1M918.3 1026.0V1047.5M920.7 1026.0V1049.8M923.1 1033.1V1064.2M925.5 1033.1V1054.6M927.9 1028.4V1047.5M930.3 1026.0V1037.9M932.6 1030.8V1040.3M935.0 1028.4V1054.6M937.4 1026.0V1037.9M939.8 1016.4V1040.3M942.2 1016.4V1033.1M944.6 1009.3V1033.1M947.0 1011.7V1037.9M949.3 1014.1V1037.9M951.7 1016.4V1028.4M954.1 1004.5V1033.1M956.5 1026.0V1045.1M958.9 1014.1V1040.3M961.3 1014.1V1045.1M963.6 1028.4V1045.1M966.0 1026.0V1040.3M968.4 1035.5V1047.5M970.8 1035.5V1059.4M973.2 1033.1V1052.2M975.6 1026.0V1047.5M978.0 1026.0V1052.2M980.3 1014.1V1037.9M982.7 1018.8V1037.9M985.1 1011.7V1023.6M987.5 1018.8V1028.4M989.9 1014.1V1030.8M992.3 1009.3V1030.8M994.7 1011.7V1040.3M997.0 997.3V1037.9M999.4 997.3V1011.7M1001.8 997.3V1009.3M1004.2 1004.5V1018.8M1006.6 990.2V1018.8M1009.0 990.2V1006.9M1011.3 999.7V1023.6M1013.7 1002.1V1023.6M1016.1 1002.1V1021.2M1018.5 1002.1V1028.4M1020.9 1006.9V1023.6M1023.3 1002.1V1026.0M1025.7 990.2V1018.8M1028.0 1009.3V1021.2M1030.4 997.3V1018.8M1032.8 997.3V1016.4M1035.2 997.3V1014.1M1037.6 997.3V1011.7M1040.0 1002.1V1028.4M1042.4 1004.5V1026.0M1044.7 995.0V1021.2M1047.1 995.0V1030.8M1049.5 1002.1V1030.8M1051.9 1002.1V1030.8M1054.3 1002.1V1021.2M1056.7 990.2V1021.2M1059.0 987.8V1011.7M1061.4 987.8V1004.5M1063.8 987.8V1004.5M1066.2 999.7V1014.1M1068.6 992.6V1009.3M1071.0 992.6V1014.1M1073.4 997.3V1014.1M1075.7 997.3V1018.8M1078.1 1009.3V1018.8M1080.5 995.0V1018.8M1082.9 995.0V1021.2M1085.3 1002.1V1021.2M1087.7 999.7V1009.3M1090.1 999.7V1014.1M1092.4 1002.1V1014.1M1094.8 997.3V1011.7M1097.2 995.0V1018.8M1099.6 995.0V1018.8M1102.0 995.0V1011.7M1104.4 997.3V1011.7M1106.7 997.3V1026.0M1109.1 1004.5V1030.8M1111.5 1004.5V1040.3M1113.9 1016.4V1042.7M1116.3 1016.4V1040.3M1118.7 1018.8V1040.3M1121.1 1011.7V1030.8M1123.4 1021.2V1033.1M1125.8 1021.2V1033.1M1128.2 1026.0V1040.3M1130.6 1026.0V1047.5M1133.0 1021.2V1042.7M1135.4 1021.2V1040.3M1137.8 1016.4V1037.9M1140.1 1030.8V1042.7M1142.5 1026.0V1040.3M1144.9 1026.0V1045.1M1147.3 1026.0V1047.5M1149.7 1026.0V1045.1M1152.1 1028.4V1042.7M1154.4 1016.4V1045.1M1156.8 1016.4V1026.0M1159.2 1011.7V1030.8M1161.6 1026.0V1042.7M1164.0 1021.2V1035.5M1166.4 1014.1V1028.4M1168.8 1014.1V1049.8M1171.1 1030.8V1049.8M1173.5 1028.4V1040.3M1175.9 1028.4V1047.5M1178.3 1021.2V1047.5M1180.7 1021.2V1035.5M1183.1 1023.6V1045.1M1185.5 1011.7V1040.3M1187.8 1011.7V1042.7M1190.2 1023.6V1042.7M1192.6 1014.1V1033.1M1195.0 1028.4V1040.3M1197.4 1028.4V1040.3M1199.8 1004.5V1033.1M1202.1 1016.4V1042.7M1204.5 1011.7V1042.7M1206.9 1021.2V1033.1M1209.3 1026.0V1054.6M1211.7 1033.1V1054.6M1214.1 1033.1V1057.0M1216.5 1040.3V1052.2M1218.8 1035.5V1049.8M1221.2 1028.4V1040.3M1223.6 1011.7V1035.5M1226.0 992.6V1035.5M1228.4 992.6V1023.6M1230.8 1002.1V1030.8M1233.2 1002.1V1016.4M1235.5 997.3V1016.4M1237.9 992.6V1009.3M1240.3 985.4V1009.3M1242.7 985.4V1018.8M1245.1 1011.7V1028.4M1247.5 1009.3V1028.4M1249.8 1014.1V1028.4M1252.2 1014.1V1026.0M1254.6 1009.3V1023.6M1257.0 1004.5V1026.0M1259.4 1004.5V1021.2M1261.8 1011.7V1021.2M1264.2 980.6V1016.4M1266.5 987.8V1011.7M1268.9 992.6V1016.4M1271.3 992.6V1018.8M1273.7 1002.1V1018.8M1276.1 999.7V1030.8M1278.5 1011.7V1030.8M1280.9 1014.1V1037.9M1283.2 1026.0V1045.1M1285.6 1014.1V1047.5M1288.0 1014.1V1035.5M1290.4 1009.3V1028.4M1292.8 1009.3V1026.0M1295.2 995.0V1021.2M1297.5 987.8V1011.7M1299.9 997.3V1004.5M1302.3 995.0V1016.4M1304.7 995.0V1018.8M1307.1 1002.1V1018.8M1309.5 987.8V1009.3M1311.9 995.0V1009.3M1314.2 995.0V1004.5M1316.6 999.7V1016.4M1319.0 997.3V1009.3M1321.4 997.3V1009.3M1323.8 999.7V1011.7M1326.2 1006.9V1021.2M1328.6 1009.3V1023.6M1330.9 1011.7V1023.6M1333.3 1004.5V1018.8M1335.7 995.0V1014.1M1338.1 995.0V1009.3M1340.5 997.3V1030.8M1342.9 1016.4V1030.8M1345.2 1021.2V1035.5M1347.6 1014.1V1033.1M1350.0 1026.0V1042.7M1352.4 1011.7V1033.1M1354.8 1009.3V1033.1M1357.2 1028.4V1047.5M1359.6 1026.0V1047.5M1361.9 1014.1V1049.8M1364.3 1014.1V1028.4M1366.7 1011.7V1026.0M1369.1 1016.4V1042.7M1371.5 1018.8V1042.7M1373.9 1018.8V1035.5M1376.3 1021.2V1035.5M1378.6 1026.0V1042.7M1381.0 1011.7V1037.9M1383.4 1011.7V1049.8M1385.8 1006.9V1037.9M1388.2 1018.8V1030.8M1390.6 1026.0V1047.5M1392.9 1016.4V1047.5M1395.3 1006.9V1033.1M1397.7 1006.9V1035.5M1400.1 1018.8V1035.5M1402.5 1018.8V1037.9M1404.9 1016.4V1037.9M1407.3 1002.1V1030.8M1409.6 1002.1V1042.7M1412.0 1026.0V1033.1M1414.4 1028.4V1042.7M1416.8 1028.4V1037.9M1419.2 1023.6V1047.5M1421.6 1040.3V1059.4M1424.0 1035.5V1059.4M1426.3 1023.6V1042.7M1428.7 1023.6V1040.3M1431.1 1033.1V1054.6M1433.5 1040.3V1054.6M1435.9 1033.1V1061.8M1438.3 1040.3V1057.0M1440.6 1040.3V1057.0M1443.0 1033.1V1057.0M1445.4 1040.3V1064.2M1447.8 1052.2V1059.4M1450.2 1052.2V1064.2M1452.6 1026.0V1064.2M1455.0 1037.9V1064.2M1457.3 1040.3V1068.9M1459.7 1047.5V1068.9M1462.1 1052.2V1071.3M1464.5 1040.3V1076.1M1466.9 1045.1V1080.9M1469.3 1042.7V1059.4M1471.7 1049.8V1064.2M1474.0 1049.8V1057.0M1476.4 1040.3V1068.9M1478.8 1042.7V1054.6M1481.2 1042.7V1061.8M1483.6 1033.1V1061.8M1486.0 1030.8V1042.7M1488.3 1033.1V1049.8M1490.7 1045.1V1054.6M1493.1 1035.5V1054.6M1495.5 1026.0V1040.3M1497.9 1028.4V1035.5M1500.3 1021.2V1037.9M1502.7 1021.2V1040.3M1505.0 1021.2V1035.5M1507.4 1026.0V1037.9M1509.8 1030.8V1045.1M1512.2 1026.0V1040.3M1514.6 1023.6V1040.3M1517.0 1023.6V1059.4M1519.4 1033.1V1059.4M1521.7 1026.0V1059.4M1524.1 1030.8V1049.8M1526.5 1030.8V1061.8M1528.9 1042.7V1061.8M1531.3 1042.7V1059.4M1533.7 1035.5V1054.6M1536.0 1030.8V1054.6M1538.4 1030.8V1042.7M1540.8 1028.4V1045.1M1543.2 1026.0V1037.9M1545.6 1026.0V1045.1M1548.0 1021.2V1045.1M1550.4 1018.8V1030.8M1552.7 1009.3V1023.6M1555.1 1009.3V1023.6M1557.5 997.3V1023.6M1559.9 995.0V1004.5M1562.3 995.0V1016.4M1564.7 1009.3V1018.8M1567.1 1002.1V1018.8M1569.4 1002.1V1035.5M1571.8 1021.2V1037.9M1574.2 1030.8V1040.3M1576.6 1002.1V1037.9M1579.0 1002.1V1023.6M1581.4 1011.7V1023.6M1583.7 1011.7V1030.8M1586.1 1021.2V1033.1M1588.5 1021.2V1045.1M1590.9 1016.4V1028.4M1593.3 1016.4V1035.5M1595.7 1014.1V1035.5M1598.1 1002.1V1030.8M1600.4 1002.1V1023.6M1602.8 1014.1V1023.6M1605.2 999.7V1023.6M1607.6 995.0V1009.3M1610.0 987.8V1011.7M1612.4 987.8V1009.3M1614.8 992.6V1026.0M1617.1 997.3V1026.0M1619.5 992.6V1009.3M1621.9 995.0V1006.9M1624.3 997.3V1014.1M1626.7 995.0V1014.1M1629.1 1004.5V1030.8M1631.4 1014.1V1030.8M1633.8 1006.9V1021.2M1636.2 992.6V1014.1M1638.6 987.8V1009.3M1641.0 987.8V1006.9M1643.4 995.0V1014.1M1645.8 1002.1V1021.2M1648.1 1011.7V1026.0M1650.5 1016.4V1030.8M1652.9 990.2V1021.2M1655.3 995.0V1021.2M1657.7 1006.9V1016.4M1660.1 1002.1V1023.6M1662.5 1018.8V1035.5M1664.8 1018.8V1030.8M1667.2 999.7V1026.0M1669.6 1006.9V1028.4M1672.0 1011.7V1037.9M1674.4 1018.8V1047.5M1676.8 1014.1V1035.5M1679.1 1011.7V1037.9M1681.5 1030.8V1052.2M1683.9 1033.1V1045.1M1686.3 1023.6V1037.9M1688.7 1023.6V1037.9M1691.1 1014.1V1033.1M1693.5 1018.8V1047.5M1695.8 1028.4V1052.2M1698.2 1026.0V1049.8M1700.6 1030.8V1049.8M1703.0 1026.0V1037.9M1705.4 1033.1V1049.8M1707.8 1033.1V1052.2M1710.2 1021.2V1059.4M1712.5 1021.2V1049.8M1714.9 1037.9V1054.6M1717.3 1028.4V1047.5M1719.7 1023.6V1045.1M1722.1 1026.0V1047.5M1724.5 1023.6V1042.7M1726.8 1030.8V1042.7M1729.2 1021.2V1045.1M1731.6 1040.3V1054.6M1734.0 1035.5V1054.6M1736.4 1028.4V1040.3M1738.8 1023.6V1049.8M1741.2 1023.6V1040.3M1743.5 1023.6V1042.7M1745.9 1023.6V1057.0M1748.3 1026.0V1057.0M1750.7 1023.6V1045.1M1753.1 1023.6V1045.1M1755.5 1026.0V1042.7M1757.9 1016.4V1035.5M1760.2 1014.1V1042.7M1762.6 1028.4V1042.7M1765.0 1011.7V1035.5M1767.4 1004.5V1030.8M1769.8 1004.5V1023.6M1772.2 1014.1V1030.8M1774.5 1018.8V1035.5M1776.9 1026.0V1045.1M1779.3 1018.8V1033.1M1781.7 1018.8V1040.3M1784.1 1028.4V1045.1M1786.5 1026.0V1045.1M1788.9 1023.6V1040.3M1791.2 1018.8V1030.8M1793.6 1018.8V1040.3M1796.0 1009.3V1037.9M1798.4 1006.9V1021.2M1800.8 1004.5V1016.4M1803.2 999.7V1016.4M1805.6 1011.7V1035.5M1807.9 1009.3V1030.8M1810.3 995.0V1021.2M1812.7 995.0V1021.2M1815.1 1004.5V1026.0M1817.5 1011.7V1021.2M1819.9 1009.3V1023.6M1822.2 1009.3V1028.4M1824.6 1021.2V1030.8M1827.0 1014.1V1033.1M1829.4 1014.1V1035.5M1831.8 1016.4V1035.5M1834.2 1014.1V1028.4M1836.6 1004.5V1021.2M1838.9 999.7V1018.8M1841.3 990.2V1011.7M1843.7 990.2V1014.1M1846.1 1009.3V1028.4M1848.5 999.7V1023.6M1850.9 1016.4V1042.7M1853.3 1011.7V1042.7M1855.6 1011.7V1028.4M1858.0 1006.9V1042.7M1860.4 1004.5V1021.2M1862.8 999.7V1016.4M1865.2 995.0V1011.7M1867.6 999.7V1011.7M1869.9 997.3V1011.7M1872.3 985.4V1016.4M1874.7 992.6V1014.1M1877.1 995.0V1014.1M1879.5 997.3V1014.1M1881.9 992.6V1014.1M1884.3 992.6V1011.7M1886.6 999.7V1026.0M1889.0 990.2V1011.7M1891.4 997.3V1011.7M1893.8 992.6V1009.3M1896.2 999.7V1011.7M1898.6 1004.5V1018.8M1901.0 1002.1V1023.6M1903.3 1018.8V1033.1M1905.7 1026.0V1035.5M1908.1 1023.6V1037.9M1910.5 999.7V1037.9M1912.9 999.7V1021.2M1915.3 1016.4V1033.1M1917.6 999.7V1033.1M1920.0 995.0V1018.8M1922.4 1011.7V1033.1M1924.8 1011.7V1028.4M1927.2 1014.1V1030.8M1929.6 1021.2V1042.7M1932.0 1006.9V1026.0M1934.3 1006.9V1037.9M1936.7 1009.3V1035.5M1939.1 1011.7V1035.5M1941.5 1006.9V1030.8M1943.9 1006.9V1030.8M1946.3 1009.3V1033.1M1948.7 1023.6V1042.7M1951.0 1023.6V1042.7M1953.4 1021.2V1035.5M1955.8 1021.2V1030.8M1958.2 1021.2V1042.7M1960.6 1011.7V1030.8M1963.0 1026.0V1037.9M1965.3 1028.4V1049.8M1967.7 1026.0V1037.9M1970.1 1018.8V1033.1M1972.5 1011.7V1035.5M1974.9 1011.7V1026.0M1977.3 1011.7V1028.4M1979.7 1014.1V1030.8M1982.0 1002.1V1023.6M1984.4 1009.3V1023.6M1986.8 1009.3V1030.8M1989.2 1009.3V1026.0M1991.6 1009.3V1023.6M1994.0 1002.1V1028.4M1996.4 1002.1V1030.8M1998.7 1011.7V1030.8M2001.1 999.7V1018.8M2003.5 999.7V1018.8M2005.9 1014.1V1033.1M2008.3 1021.2V1033.1M2010.7 1018.8V1026.0M2013.0 1014.1V1028.4M2015.4 1006.9V1028.4M2017.8 1014.1V1033.1M2020.2 1004.5V1018.8M2022.6 1004.5V1018.8M2025.0 999.7V1016.4M2027.4 999.7V1011.7M2029.7 999.7V1011.7M2032.1 992.6V1006.9M2034.5 992.6V1014.1M2036.9 997.3V1011.7M2039.3 990.2V1016.4M2041.7 1002.1V1021.2M2044.1 1009.3V1021.2M2046.4 1006.9V1023.6M2048.8 997.3V1016.4M2051.2 1004.5V1023.6M2053.6 999.7V1023.6M2056.0 1004.5V1018.8M2058.4 1002.1V1018.8M2060.7 997.3V1016.4M2063.1 1011.7V1028.4M2065.5 1014.1V1028.4M2067.9 1009.3V1030.8M2070.3 1009.3V1037.9M2072.7 1011.7V1037.9M2075.1 1021.2V1035.5M2077.4 1023.6V1033.1M2079.8 1018.8V1033.1M2082.2 1021.2V1045.1M2084.6 1021.2V1045.1M2087.0 1018.8V1045.1M2089.4 1023.6V1047.5M2091.8 1021.2V1047.5M2094.1 1021.2V1035.5M2096.5 1030.8V1049.8M2098.9 1021.2V1049.8M2101.3 1021.2V1037.9M2103.7 1021.2V1040.3M2106.1 1016.4V1026.0M2108.4 1011.7V1033.1M2110.8 1011.7V1045.1M2113.2 1021.2V1033.1M2115.6 1018.8V1037.9M2118.0 1023.6V1054.6M2120.4 1033.1V1054.6M2122.8 1018.8V1045.1M2125.1 1018.8V1045.1M2127.5 1028.4V1045.1M2129.9 1011.7V1042.7M2132.3 1026.0V1042.7M2134.7 1026.0V1037.9M2137.1 1026.0V1054.6M2139.5 1021.2V1042.7M2141.8 1028.4V1047.5M2144.2 1028.4V1037.9M2146.6 1028.4V1049.8M2149.0 1040.3V1052.2M2151.4 1035.5V1045.1M2153.8 1037.9V1052.2M2156.1 1037.9V1052.2M2158.5 1030.8V1047.5M2160.9 1018.8V1047.5M2163.3 1035.5V1054.6M2165.7 1033.1V1054.6M2168.1 1030.8V1052.2M2170.5 1030.8V1040.3M2172.8 1026.0V1042.7M2175.2 1016.4V1030.8M2177.6 1011.7V1028.4M2180.0 1009.3V1028.4M2182.4 1021.2V1045.1M2184.8 1014.1V1045.1M2187.2 1006.9V1033.1M2189.5 1006.9V1030.8M2191.9 1016.4V1030.8M2194.3 1011.7V1026.0M2196.7 1014.1V1026.0M2199.1 1018.8V1035.5M2201.5 999.7V1023.6M2203.8 999.7V1037.9M2206.2 1016.4V1035.5M2208.6 1009.3V1023.6M2211.0 1004.5V1021.2M2213.4 1002.1V1016.4M2215.8 985.4V1016.4M2218.2 985.4V1030.8M2220.5 1004.5V1030.8M2222.9 1004.5V1026.0M2225.3 999.7V1021.2M2227.7 999.7V1023.6M2230.1 999.7V1023.6M2232.5 995.0V1023.6M2234.9 997.3V1006.9M2237.2 990.2V1002.1M2239.6 990.2V1009.3M2242.0 999.7V1028.4M2244.4 1009.3V1033.1M2246.8 1028.4V1040.3M2249.2 1021.2V1040.3M2251.5 1023.6V1040.3M2253.9 1018.8V1040.3M2256.3 1018.8V1035.5M2258.7 1009.3V1033.1M2261.1 1009.3V1033.1M2263.5 1011.7V1033.1M2265.9 1011.7V1028.4M2268.2 1004.5V1023.6M2270.6 997.3V1023.6M2273.0 1011.7V1033.1M2275.4 1009.3V1023.6M2277.8 1004.5V1023.6M2280.2 1004.5V1023.6M2282.6 1006.9V1023.6M2284.9 997.3V1011.7M2287.3 997.3V1016.4M2289.7 1006.9V1016.4M2292.1 1011.7V1026.0M2294.5 1002.1V1035.5M2296.9 1014.1V1035.5M2299.2 1002.1V1028.4M2301.6 1002.1V1028.4M2304.0 1004.5V1023.6M2306.4 1004.5V1021.2M2308.8 1006.9V1026.0M2311.2 1014.1V1028.4"/>
<path stroke="#0000ff" d="M269.7 1556.1V1251.1M272.0 1243.1V1257.4M274.4 1231.2V1247.9M276.8 1219.2V1235.9M279.2 1204.9V1228.8M281.5 1200.2V1209.7M283.9 1195.4V1209.7M286.3 1195.4V1209.7M288.7 1185.8V1212.1M291.1 1173.9V1212.1M293.5 1166.8V1188.2M295.8 1183.5V1204.9M298.2 1176.3V1195.4M300.6 1154.8V1185.8M303.0 1154.8V1178.7M305.4 1157.2V1185.8M307.8 1157.2V1178.7M310.2 1159.6V1173.9M312.5 1154.8V1169.1M314.9 1152.4V1164.4M317.3 1152.4V1176.3M319.7 1171.5V1188.2M322.1 1159.6V1176.3M324.5 1164.4V1181.1M326.9 1147.7V1169.1M329.2 1152.4V1169.1M331.6 1152.4V1171.5M334.0 1152.4V1181.1M336.4 1157.2V1181.1M338.8 1150.1V1173.9M341.2 1157.2V1176.3M343.5 1157.2V1173.9M345.9 1145.3V1169.1M348.3 1145.3V1164.4M350.7 1154.8V1166.8M353.1 1152.4V1171.5M355.5 1150.1V1171.5M357.9 1159.6V1171.5M360.2 1162.0V1183.5M362.6 1159.6V1190.6M365.0 1152.4V1164.4M367.4 1154.8V1171.5M369.8 1159.6V1178.7M372.2 1162.0V1176.3M374.6 1162.0V1171.5M376.9 1164.4V1185.8M379.3 1164.4V1185.8M381.7 1166.8V1195.4M384.1 1150.1V1181.1M386.5 1150.1V1188.2M388.9 1164.4V1178.7M391.2 1152.4V1169.1M393.6 1152.4V1166.8M396.0 1157.2V1181.1M398.4 1145.3V1166.8M400.8 1145.3V1166.8M403.2 1159.6V1178.7M405.6 1154.8V1164.4M407.9 1152.4V1173.9M410.3 1131.0V1157.2M412.7 1131.0V1164.4M415.1 1142.9V1164.4M417.5 1142.9V1152.4M419.9 1142.9V1159.6M422.3 1133.4V1157.2M424.6 1145.3V1159.6M427.0 1147.7V1162.0M429.4 1140.5V1159.6M431.8 1145.3V1164.4M434.2 1152.4V1164.4M436.6 1126.2V1159.6M438.9 1128.6V1164.4M441.3 1142.9V1159.6M443.7 1150.1V1166.8M446.1 1145.3V1169.1M448.5 1140.5V1162.0M450.9 1140.5V1162.0M453.3 1140.5V1159.6M455.6 1142.9V1159.6M458.0 1140.5V1152.4M460.4 1126.2V1145.3M462.8 1138.1V1157.2M465.2 1128.6V1145.3M467.6 1128.6V1147.7M470.0 1133.4V1152.4M472.3 1145.3V1159.6M474.7 1145.3V1152.4M477.1 1145.3V1164.4M479.5 1145.3V1164.4M481.9 1145.3V1157.2M484.3 1142.9V1157.2M486.6 1140.5V1152.4M489.0 1131.0V1150.1M491.4 1133.4V1159.6M493.8 1131.0V1159.6M496.2 1133.4V1147.7M498.6 1142.9V1169.1M501.0 1142.9V1169.1M503.3 1135.7V1147.7M505.7 1133.4V1142.9M508.1 1126.2V1138.1M510.5 1126.2V1138.1M512.9 1121.4V1138.1M515.3 1123.8V1140.5M517.7 1114.3V1140.5M520.0 1116.6V1138.1M522.4 1111.9V1133.4M524.8 1109.5V1116.6M527.2 1109.5V1121.4M529.6 1097.6V1119.0M532.0 1097.6V1116.6M534.3 1092.8V1116.6M536.7 1092.8V1109.5M539.1 1078.5V1097.6M541.5 1078.5V1109.5M543.9 1099.9V1114.3M546.3 1097.6V1111.9M548.7 1097.6V1111.9M551.0 1095.2V1123.8M553.4 1095.2V1107.1M555.8 1092.8V1126.2M558.2 1102.3V1138.1M560.6 1097.6V1111.9M563.0 1097.6V1116.6M565.4 1095.2V1116.6M567.7 1090.4V1099.9M570.1 1090.4V1102.3M572.5 1092.8V1109.5M574.9 1092.8V1104.7M577.3 1083.2V1099.9M579.7 1083.2V1116.6M582.0 1092.8V1107.1M584.4 1097.6V1111.9M586.8 1099.9V1111.9M589.2 1095.2V1114.3M591.6 1095.2V1116.6M594.0 1092.8V1107.1M596.4 1085.6V1111.9M598.7 1102.3V1121.4M601.1 1102.3V1111.9M603.5 1102.3V1116.6M605.9 1102.3V1121.4M608.3 1102.3V1128.6M610.7 1111.9V1128.6M613.1 1107.1V1116.6M615.4 1107.1V1116.6M617.8 1107.1V1121.4M620.2 1111.9V1131.0M622.6 1099.9V1121.4M625.0 1088.0V1121.4M627.4 1104.7V1116.6M629.7 1097.6V1116.6M632.1 1097.6V1107.1M634.5 1092.8V1109.5M636.9 1102.3V1116.6M639.3 1099.9V1111.9M641.7 1092.8V1116.6M644.1 1107.1V1123.8M646.4 1095.2V1121.4M648.8 1095.2V1121.4M651.2 1095.2V1114.3M653.6 1102.3V1114.3M656.0 1090.4V1119.0M658.4 1092.8V1119.0M660.8 1092.8V1111.9M663.1 1107.1V1128.6M665.5 1104.7V1121.4M667.9 1090.4V1109.5M670.3 1095.2V1123.8M672.7 1090.4V1123.8M675.1 1088.0V1104.7M677.4 1088.0V1111.9M679.8 1083.2V1111.9M682.2 1083.2V1107.1M684.6 1083.2V1107.1M687.0 1085.6V1109.5M689.4 1092.8V1109.5M691.8 1088.0V1104.7M694.1 1080.9V1104.7M696.5 1068.9V1085.6M698.9 1076.1V1097.6M701.3 1083.2V1099.9M703.7 1080.9V1099.9M706.1 1078.5V1099.9M708.5 1088.0V1107.1M710.8 1085.6V1097.6M713.2 1088.0V1102.3M715.6 1088.0V1097.6M718.0 1078.5V1095.2M720.4 1073.7V1099.9M722.8 1085.6V1114.3M725.1 1095.2V1114.3M727.5 1076.1V1099.9M729.9 1080.9V1092.8M732.3 1083.2V1097.6M734.7 1088.0V1102.3M737.1 1078.5V1102.3M739.5 1073.7V1090.4M741.8 1078.5V1092.8M744.2 1076.1V1085.6M746.6 1073.7V1090.4M749.0 1073.7V1090.4M751.4 1071.3V1083.2M753.8 1068.9V1088.0M756.2 1064.2V1088.0M758.5 1057.0V1085.6M760.9 1071.3V1085.6M763.3 1061.8V1092.8M765.7 1059.4V1073.7M768.1 1052.2V1066.5M770.5 1052.2V1078.5M772.8 1064.2V1090.4M775.2 1049.8V1073.7M777.6 1059.4V1066.5M780.0 1059.4V1078.5M782.4 1064.2V1080.9M784.8 1076.1V1104.7M787.2 1083.2V1104.7M789.5 1078.5V1102.3M791.9 1071.3V1099.9M794.3 1078.5V1104.7M796.7 1078.5V1097.6M799.1 1085.6V1102.3M801.5 1080.9V1090.4M803.9 1066.5V1090.4M806.2 1054.6V1085.6M808.6 1080.9V1095.2M811.0 1071.3V1088.0M813.4 1066.5V1085.6M815.8 1064.2V1083.2M818.2 1068.9V1090.4M820.5 1068.9V1090.4M822.9 1061.8V1085.6M825.3 1073.7V1090.4M827.7 1071.3V1090.4M830.1 1071.3V1088.0M832.5 1061.8V1080.9M834.9 1066.5V1080.9M837.2 1066.5V1080.9M839.6 1071.3V1080.9M842.0 1071.3V1088.0M844.4 1057.0V1085.6M846.8 1059.4V1088.0M849.2 1059.4V1076.1M851.6 1061.8V1076.1M853.9 1061.8V1095.2M856.3 1064.2V1095.2M858.7 1064.2V1083.2M861.1 1066.5V1083.2M863.5 1066.5V1097.6M865.9 1080.9V1097.6M868.2 1083.2V1097.6M870.6 1066.5V1088.0M873.0 1066.5V1080.9M875.4 1057.0V1080.9M877.8 1061.8V1080.9M880.2 1061.8V1083.2M882.6 1061.8V1083.2M884.9 1061.8V1078.5M887.3 1059.4V1076.1M889.7 1068.9V1080.9M892.1 1064.2V1080.9M894.5 1066.5V1080.9M896.9 1064.2V1080.9M899.3 1054.6V1068.9M901.6 1040.3V1071.3M904.0 1064.2V1071.3M906.4 1066.5V1080.9M908.8 1071.3V1088.0M911.2 1054.6V1085.6M913.6 1054.6V1068.9M915.9 1061.8V1092.8M918.3 1066.5V1092.8M920.7 1054.6V1085.6M923.1 1054.6V1071.3M925.5 1042.7V1068.9M927.9 1042.7V1059.4M930.3 1045.1V1061.8M932.6 1042.7V1061.8M935.0 1026.0V1047.5M937.4 1033.1V1057.0M939.8 1035.5V1057.0M942.2 1035.5V1071.3M944.6 1040.3V1057.0M947.0 1035.5V1052.2M949.3 1035.5V1057.0M951.7 1042.7V1054.6M954.1 1040.3V1061.8M956.5 1040.3V1059.4M958.9 1045.1V1076.1M961.3 1037.9V1054.6M963.6 1030.8V1045.1M966.0 1040.3V1052.2M968.4 1040.3V1054.6M970.8 1026.0V1054.6M973.2 1023.6V1045.1M975.6 1040.3V1047.5M978.0 1033.1V1054.6M980.3 1028.4V1054.6M982.7 1023.6V1040.3M985.1 1011.7V1040.3M987.5 1028.4V1052.2M989.9 1030.8V1052.2M992.3 1030.8V1042.7M994.7 1014.1V1037.9M997.0 1026.0V1042.7M999.4 1021.2V1042.7M1001.8 1011.7V1030.8M1004.2 1004.5V1016.4M1006.6 1004.5V1023.6M1009.0 1009.3V1026.0M1011.3 1018.8V1033.1M1013.7 1014.1V1028.4M1016.1 1014.1V1026.0M1018.5 1021.2V1037.9M1020.9 1014.1V1037.9M1023.3 1016.4V1028.4M1025.7 1016.4V1028.4M1028.0 1021.2V1033.1M1030.4 1021.2V1035.5M1032.8 1021.2V1045.1M1035.2 1028.4V1057.0M1037.6 1037.9V1052.2M1040.0 1026.0V1045.1M1042.4 1021.2V1047.5M1044.7 1030.8V1052.2M1047.1 1026.0V1054.6M1049.5 1030.8V1054.6M1051.9 1028.4V1047.5M1054.3 1028.4V1057.0M1056.7 1026.0V1042.7M1059.0 1028.4V1042.7M1061.4 1028.4V1045.1M1063.8 1028.4V1042.7M1066.2 1033.1V1049.8M1068.6 1028.4V1049.8M1071.0 1037.9V1049.8M1073.4 1037.9V1054.6M1075.7 1018.8V1054.6M1078.1 1018.8V1049.8M1080.5 1014.1V1049.8M1082.9 1030.8V1049.8M1085.3 1021.2V1040.3M1087.7 1021.2V1042.7M1090.1 1023.6V1037.9M1092.4 1028.4V1037.9M1094.8 1033.1V1054.6M1097.2 1035.5V1049.8M1099.6 1037.9V1057.0M1102.0 1047.5V1057.0M1104.4 1035.5V1057.0M1106.7 1023.6V1040.3M1109.1 1023.6V1037.9M1111.5 1023.6V1040.3M1113.9 1006.9V1037.9M1116.3 999.7V1037.9M1118.7 999.7V1023.6M1121.1 1009.3V1021.2M1123.4 1006.9V1030.8M1125.8 1004.5V1033.1M1128.2 1004.5V1028.4M1130.6 1004.5V1028.4M1133.0 1006.9V1028.4M1135.4 1006.9V1033.1M1137.8 1018.8V1037.9M1140.1 1014.1V1037.9M1142.5 1016.4V1026.0M1144.9 1011.7V1030.8M1147.3 1014.1V1033.1M1149.7 1014.1V1026.0M1152.1 1014.1V1040.3M1154.4 1018.8V1040.3M1156.8 1018.8V1033.1M1159.2 1021.2V1040.3M1161.6 1021.2V1040.3M1164.0 1014.1V1033.1M1166.4 1023.6V1037.9M1168.8 997.3V1037.9M1171.1 1009.3V1026.0M1173.5 1006.9V1023.6M1175.9 1006.9V1030.8M1178.3 1004.5V1016.4M1180.7 1002.1V1018.8M1183.1 1002.1V1021.2M1185.5 1016.4V1037.9M1187.8 1016.4V1035.5M1190.2 1014.1V1040.3M1192.6 1011.7V1033.1M1195.0 1021.2V1037.9M1197.4 1023.6V1040.3M1199.8 1006.9V1037.9M1202.1 1021.2V1049.8M1204.5 1023.6V1040.3M1206.9 1023.6V1037.9M1209.3 1021.2V1037.9M1211.7 1014.1V1028.4M1214.1 1009.3V1023.6M1216.5 1002.1V1026.0M1218.8 1002.1V1016.4M1221.2 997.3V1016.4M1223.6 997.3V1018.8M1226.0 1002.1V1016.4M1228.4 1011.7V1026.0M1230.8 997.3V1021.2M1233.2 1006.9V1018.8M1235.5 1004.5V1021.2M1237.9 990.2V1018.8M1240.3 1002.1V1011.7M1242.7 1002.1V1016.4M1245.1 992.6V1014.1M1247.5 987.8V1004.5M1249.8 995.0V1011.7M1252.2 1006.9V1028.4M1254.6 1011.7V1042.7M1257.0 1014.1V1042.7M1259.4 1004.5V1026.0M1261.8 1004.5V1028.4M1264.2 1004.5V1033.1M1266.5 1018.8V1035.5M1268.9 1018.8V1035.5M1271.3 1014.1V1040.3M1273.7 1023.6V1040.3M1276.1 1021.2V1033.1M1278.5 1011.7V1033.1M1280.9 1009.3V1023.6M1283.2 1011.7V1026.0M1285.6 1014.1V1028.4M1288.0 1011.7V1033.1M1290.4 1014.1V1033.1M1292.8 1018.8V1033.1M1295.2 1011.7V1033.1M1297.5 1016.4V1035.5M1299.9 1018.8V1045.1M1302.3 1018.8V1047.5M1304.7 1023.6V1033.1M1307.1 1023.6V1040.3M1309.5 1026.0V1042.7M1311.9 1026.0V1047.5M1314.2 1023.6V1052.2M1316.6 1042.7V1054.6M1319.0 1028.4V1054.6M1321.4 1026.0V1049.8M1323.8 1033.1V1057.0M1326.2 1033.1V1047.5M1328.6 1040.3V1064.2M1330.9 1035.5V1066.5M1333.3 1035.5V1059.4M1335.7 1016.4V1052.2M1338.1 1014.1V1028.4M1340.5 1023.6V1047.5M1342.9 997.3V1037.9M1345.2 1021.2V1045.1M1347.6 1040.3V1064.2M1350.0 1040.3V1066.5M1352.4 1035.5V1049.8M1354.8 1030.8V1049.8M1357.2 1037.9V1057.0M1359.6 1026.0V1052.2M1361.9 1026.0V1042.7M1364.3 1028.4V1045.1M1366.7 1023.6V1049.8M1369.1 1042.7V1052.2M1371.5 1045.1V1059.4M1373.9 1042.7V1059.4M1376.3 1040.3V1052.2M1378.6 1023.6V1049.8M1381.0 1023.6V1064.2M1383.4 1023.6V1064.2M1385.8 1033.1V1059.4M1388.2 1021.2V1049.8M1390.6 1021.2V1040.3M1392.9 1033.1V1047.5M1395.3 1026.0V1047.5M1397.7 1023.6V1045.1M1400.1 1018.8V1045.1M1402.5 1018.8V1035.5M1404.9 1030.8V1040.3M1407.3 1028.4V1035.5M1409.6 1018.8V1035.5M1412.0 1014.1V1030.8M1414.4 1014.1V1035.5M1416.8 1011.7V1040.3M1419.2 1016.4V1042.7M1421.6 1035.5V1054.6M1424.0 1037.9V1054.6M1426.3 1037.9V1045.1M1428.7 1028.4V1042.7M1431.1 1021.2V1037.9M1433.5 1014.1V1037.9M1435.9 1014.1V1035.5M1438.3 1030.8V1040.3M1440.6 1030.8V1049.8M1443.0 1035.5V1061.8M1445.4 1033.1V1071.3M1447.8 1026.0V1071.3M1450.2 1021.2V1047.5M1452.6 1040.3V1047.5M1455.0 1033.1V1045.1M1457.3 1009.3V1042.7M1459.7 1004.5V1023.6M1462.1 1006.9V1042.7M1464.5 1011.7V1042.7M1466.9 1002.1V1016.4M1469.3 1006.9V1018.8M1471.7 1011.7V1035.5M1474.0 1014.1V1033.1M1476.4 1014.1V1033.1M1478.8 1014.1V1030.8M1481.2 1021.2V1040.3M1483.6 1028.4V1045.1M1486.0 1026.0V1045.1M1488.3 1018.8V1030.8M1490.7 1016.4V1033.1M1493.1 1021.2V1033.1M1495.5 1014.1V1026.0M1497.9 1006.9V1023.6M1500.3 992.6V1023.6M1502.7 1009.3V1033.1M1505.0 1014.1V1030.8M1507.4 1014.1V1040.3M1509.8 1014.1V1040.3M1512.2 999.7V1018.8M1514.6 999.7V1016.4M1517.0 1006.9V1021.2M1519.4 1014.1V1033.1M1521.7 1004.5V1026.0M1524.1 1004.5V1018.8M1526.5 1011.7V1023.6M1528.9 1004.5V1023.6M1531.3 1009.3V1023.6M1533.7 1014.1V1023.6M1536.0 1016.4V1028.4M1538.4 1016.4V1026.0M1540.8 1014.1V1037.9M1543.2 1021.2V1040.3M1545.6 1009.3V1028.4M1548.0 1009.3V1028.4M1550.4 1023.6V1042.7M1552.7 1028.4V1037.9M1555.1 1018.8V1033.1M1557.5 1023.6V1042.7M1559.9 1018.8V1035.5M1562.3 1030.8V1037.9M1564.7 1004.5V1037.9M1567.1 990.2V1021.2M1569.4 990.2V999.7M1571.8 992.6V1006.9M1574.2 1002.1V1014.1M1576.6 990.2V1014.1M1579.0 1002.1V1009.3M1581.4 1004.5V1028.4M1583.7 1014.1V1028.4M1586.1 1006.9V1026.0M1588.5 1004.5V1014.1M1590.9 1004.5V1040.3M1593.3 999.7V1028.4M1595.7 999.7V1023.6M1598.1 1018.8V1033.1M1600.4 1014.1V1033.1M1602.8 1016.4V1035.5M1605.2 1016.4V1035.5M1607.6 1021.2V1035.5M1610.0 1018.8V1033.1M1612.4 1011.7V1035.5M1614.8 1014.1V1040.3M1617.1 1026.0V1042.7M1619.5 1026.0V1037.9M1621.9 1009.3V1035.5M1624.3 1009.3V1026.0M1626.7 1009.3V1028.4M1629.1 1018.8V1040.3M1631.4 1014.1V1040.3M1633.8 1004.5V1021.2M1636.2 1006.9V1035.5M1638.6 1021.2V1040.3M1641.0 1030.8V1040.3M1643.4 1009.3V1035.5M1645.8 1009.3V1033.1M1648.1 1009.3V1026.0M1650.5 1018.8V1045.1M1652.9 1028.4V1045.1M1655.3 1028.4V1049.8M1657.7 1030.8V1047.5M1660.1 1026.0V1035.5M1662.5 1023.6V1047.5M1664.8 1021.2V1037.9M1667.2 1016.4V1028.4M1669.6 1006.9V1021.2M1672.0 992.6V1011.7M1674.4 992.6V1011.7M1676.8 980.6V999.7M1679.1 980.6V1006.9M1681.5 995.0V1014.1M1683.9 1006.9V1021.2M1686.3 1006.9V1018.8M1688.7 1006.9V1018.8M1691.1 999.7V1018.8M1693.5 992.6V1018.8M1695.8 992.6V1018.8M1698.2 1009.3V1023.6M1700.6 999.7V1026.0M1703.0 1014.1V1033.1M1705.4 1006.9V1026.0M1707.8 1009.3V1035.5M1710.2 997.3V1037.9M1712.5 1023.6V1037.9M1714.9 1011.7V1033.1M1717.3 1016.4V1028.4M1719.7 1009.3V1026.0M1722.1 1016.4V1035.5M1724.5 1028.4V1040.3M1726.8 1014.1V1049.8M1729.2 1018.8V1047.5M1731.6 1011.7V1023.6M1734.0 1014.1V1033.1M1736.4 1018.8V1035.5M1738.8 1011.7V1030.8M1741.2 1006.9V1030.8M1743.5 1018.8V1030.8M1745.9 995.0V1030.8M1748.3 995.0V1021.2M1750.7 1006.9V1023.6M1753.1 1018.8V1040.3M1755.5 1021.2V1040.3M1757.9 1016.4V1033.1M1760.2 1016.4V1033.1M1762.6 1014.1V1033.1M1765.0 1016.4V1037.9M1767.4 1018.8V1037.9M1769.8 1016.4V1052.2M1772.2 1030.8V1052.2M1774.5 1028.4V1045.1M1776.9 1028.4V1042.7M1779.3 1018.8V1037.9M1781.7 1028.4V1049.8M1784.1 1028.4V1052.2M1786.5 1030.8V1045.1M1788.9 1014.1V1049.8M1791.2 1014.1V1035.5M1793.6 1018.8V1040.3M1796.0 1028.4V1040.3M1798.4 1030.8V1047.5M1800.8 1030.8V1059.4M1803.2 1033.1V1059.4M1805.6 1033.1V1066.5M1807.9 1033.1V1066.5M1810.3 1033.1V1052.2M1812.7 1033.1V1042.7M1815.1 1030.8V1047.5M1817.5 1030.8V1047.5M1819.9 1033.1V1047.5M1822.2 1037.9V1061.8M1824.6 1054.6V1066.5M1827.0 1037.9V1066.5M1829.4 1026.0V1042.7M1831.8 1030.8V1045.1M1834.2 1033.1V1057.0M1836.6 1011.7V1042.7M1838.9 1011.7V1023.6M1841.3 1016.4V1033.1M1843.7 1006.9V1033.1M1846.1 1021.2V1035.5M1848.5 1018.8V1030.8M1850.9 1021.2V1033.1M1853.3 1028.4V1047.5M1855.6 1011.7V1035.5M1858.0 1002.1V1028.4M1860.4 1018.8V1037.9M1862.8 1018.8V1030.8M1865.2 1011.7V1026.0M1867.6 1011.7V1028.4M1869.9 1018.8V1030.8M1872.3 1016.4V1035.5M1874.7 1014.1V1035.5M1877.1 1006.9V1028.4M1879.5 1021.2V1037.9M1881.9 1002.1V1028.4M1884.3 1016.4V1030.8M1886.6 1006.9V1030.8M1889.0 1006.9V1028.4M1891.4 1023.6V1045.1M1893.8 1026.0V1040.3M1896.2 1014.1V1033.1M1898.6 1014.1V1033.1M1901.0 1011.7V1026.0M1903.3 1011.7V1040.3M1905.7 997.3V1023.6M1908.1 997.3V1026.0M1910.5 1016.4V1026.0M1912.9 1016.4V1030.8M1915.3 1016.4V1028.4M1917.6 1014.1V1026.0M1920.0 1011.7V1026.0M1922.4 1006.9V1030.8M1924.8 1021.2V1035.5M1927.2 1028.4V1037.9M1929.6 1033.1V1057.0M1932.0 1028.4V1057.0M1934.3 1028.4V1047.5M1936.7 1042.7V1059.4M1939.1 1047.5V1059.4M1941.5 1030.8V1054.6M1943.9 1028.4V1057.0M1946.3 1028.4V1057.0M1948.7 1040.3V1057.0M1951.0 1026.0V1057.0M1953.4 1021.2V1035.5M1955.8 1016.4V1030.8M1958.2 1023.6V1040.3M1960.6 1004.5V1028.4M1963.0 1014.1V1026.0M1965.3 995.0V1021.2M1967.7 999.7V1028.4M1970.1 1018.8V1045.1M1972.5 1033.1V1057.0M1974.9 1014.1V1040.3M1977.3 1011.7V1045.1M1979.7 1030.8V1045.1M1982.0 1016.4V1035.5M1984.4 1016.4V1037.9M1986.8 1009.3V1030.8M1989.2 1009.3V1026.0M1991.6 1009.3V1023.6M1994.0 1009.3V1033.1M1996.4 1011.7V1033.1M1998.7 1018.8V1035.5M2001.1 1016.4V1035.5M2003.5 1016.4V1028.4M2005.9 1009.3V1037.9M2008.3 1009.3V1028.4M2010.7 1016.4V1035.5M2013.0 1016.4V1033.1M2015.4 1011.7V1037.9M2017.8 1002.1V1033.1M2020.2 1002.1V1033.1M2022.6 995.0V1016.4M2025.0 1006.9V1030.8M2027.4 1009.3V1033.1M2029.7 1018.8V1033.1M2032.1 1011.7V1026.0M2034.5 1014.1V1037.9M2036.9 1011.7V1037.9M2039.3 1011.7V1040.3M2041.7 1035.5V1047.5M2044.1 1030.8V1047.5M2046.4 1016.4V1045.1M2048.8 1026.0V1059.4M2051.2 1023.6V1042.7M2053.6 1021.2V1037.9M2056.0 1009.3V1026.0M2058.4 1016.4V1033.1M2060.7 1018.8V1040.3M2063.1 997.3V1023.6M2065.5 1002.1V1021.2M2067.9 995.0V1018.8M2070.3 995.0V1011.7M2072.7 1006.9V1016.4M2075.1 1004.5V1023.6M2077.4 990.2V1014.1M2079.8 992.6V1026.0M2082.2 1011.7V1023.6M2084.6 1011.7V1023.6M2087.0 997.3V1016.4M2089.4 999.7V1021.2M2091.8 1004.5V1033.1M2094.1 1004.5V1026.0M2096.5 1006.9V1026.0M2098.9 1004.5V1018.8M2101.3 1004.5V1026.0M2103.7 1014.1V1035.5M2106.1 1011.7V1037.9M2108.4 1006.9V1037.9M2110.8 1006.9V1026.0M2113.2 1006.9V1037.9M2115.6 1016.4V1028.4M2118.0 1011.7V1033.1M2120.4 1011.7V1033.1M2122.8 1026.0V1042.7M2125.1 1026.0V1047.5M2127.5 1014.1V1047.5M2129.9 1014.1V1035.5M2132.3 1023.6V1045.1M2134.7 1016.4V1033.1M2137.1 1016.4V1026.0M2139.5 1018.8V1030.8M2141.8 1026.0V1035.5M2144.2 1006.9V1035.5M2146.6 1006.9V1033.1M2149.0 1021.2V1033.1M2151.4 1009.3V1026.0M2153.8 1009.3V1040.3M2156.1 1021.2V1045.1M2158.5 1023.6V1037.9M2160.9 1023.6V1045.1M2163.3 1016.4V1045.1M2165.7 1023.6V1049.8M2168.1 1002.1V1035.5M2170.5 1011.7V1035.5M2172.8 1023.6V1035.5M2175.2 1009.3V1028.4M2177.6 1009.3V1035.5M2180.0 1014.1V1035.5M2182.4 1009.3V1035.5M2184.8 1016.4V1033.1M2187.2 1016.4V1033.1M2189.5 1016.4V1035.5M2191.9 1021.2V1037.9M2194.3 1011.7V1026.0M2196.7 1014.1V1028.4M2199.1 1011.7V1023.6M2201.5 1006.9V1016.4M2203.8 1009.3V1028.4M2206.2 1011.7V1026.0M2208.6 1011.7V1037.9M2211.0 1009.3V1037.9M2213.4 1009.3V1028.4M2215.8 1006.9V1023.6M2218.2 1016.4V1042.7M2220.5 1023.6V1042.7M2222.9 1033.1V1054.6M2225.3 1011.7V1049.8M2227.7 1016.4V1030.8M2230.1 1018.8V1037.9M2232.5 1006.9V1037.9M2234.9 1006.9V1018.8M2237.2 995.0V1026.0M2239.6 987.8V1014.1M2242.0 987.8V999.7M2244.4 983.0V1011.7M2246.8 999.7V1018.8M2249.2 1002.1V1018.8M2251.5 1004.5V1021.2M2253.9 1009.3V1023.6M2256.3 1011.7V1037.9M2258.7 1011.7V1021.2M2261.1 1004.5V1021.2M2263.5 1002.1V1021.2M2265.9 1006.9V1028.4M2268.2 1004.5V1011.7M2270.6 1006.9V1023.6M2273.0 1009.3V1023.6M2275.4 1018.8V1042.7M2277.8 1026.0V1042.7M2280.2 1021.2V1042.7M2282.6 1021.2V1049.8M2284.9 1009.3V1037.9M2287.3 1016.4V1037.9M2289.7 1016.4V1042.7M2292.1 1021.2V1042.7M2294.5 995.0V1026.0M2296.9 995.0V1028.4M2299.2 999.7V1021.2M2301.6 999.7V1018.8M2304.0 985.4V1018.8M2306.4 992.6V1016.4M2308.8 999.7V1018.8M2311.2 1002.1V1018.8"/>
<path stroke="#00ff1e" d="M269.7 1556.1V1240.0M272.0 1231.2V1243.1M274.4 1226.4V1238.3M276.8 1219.2V1231.2M279.2 1212.1V1226.4M281.5 1209.7V1224.0M283.9 1207.3V1224.0M286.3 1195.4V1212.1M288.7 1195.4V1209.7M291.1 1176.3V1204.9M293.5 1181.1V1204.9M295.8 1181.1V1204.9M298.2 1171.5V1185.8M300.6 1169.1V1181.1M303.0 1162.0V1181.1M305.4 1150.1V1169.1M307.8 1162.0V1181.1M310.2 1147.7V1171.5M312.5 1145.3V1162.0M314.9 1140.5V1164.4M317.3 1140.5V1166.8M319.7 1147.7V1171.5M322.1 1147.7V1171.5M324.5 1140.5V1159.6M326.9 1138.1V1169.1M329.2 1147.7V1166.8M331.6 1142.9V1164.4M334.0 1145.3V1164.4M336.4 1140.5V1162.0M338.8 1133.4V1150.1M341.2 1133.4V1147.7M343.5 1140.5V1159.6M345.9 1133.4V1147.7M348.3 1128.6V1150.1M350.7 1126.2V1147.7M353.1 1135.7V1154.8M355.5 1142.9V1157.2M357.9 1138.1V1157.2M360.2 1145.3V1169.1M362.6 1147.7V1169.1M365.0 1150.1V1166.8M367.4 1162.0V1171.5M369.8 1147.7V1171.5M372.2 1142.9V1162.0M374.6 1145.3V1164.4M376.9 1145.3V1164.4M379.3 1152.4V1159.6M381.7 1145.3V1162.0M384.1 1152.4V1162.0M386.5 1135.7V1159.6M388.9 1135.7V1162.0M391.2 1138.1V1162.0M393.6 1145.3V1159.6M396.0 1147.7V1169.1M398.4 1145.3V1169.1M400.8 1135.7V1159.6M403.2 1133.4V1154.8M405.6 1135.7V1154.8M407.9 1131.0V1145.3M410.3 1131.0V1142.9M412.7 1133.4V1145.3M415.1 1123.8V1147.7M417.5 1126.2V1140.5M419.9 1128.6V1142.9M422.3 1126.2V1147.7M424.6 1126.2V1147.7M427.0 1114.3V1140.5M429.4 1107.1V1121.4M431.8 1102.3V1121.4M434.2 1102.3V1116.6M436.6 1097.6V1123.8M438.9 1097.6V1142.9M441.3 1109.5V1135.7M443.7 1102.3V1121.4M446.1 1099.9V1123.8M448.5 1095.2V1114.3M450.9 1099.9V1114.3M453.3 1095.2V1114.3M455.6 1092.8V1119.0M458.0 1090.4V1121.4M460.4 1104.7V1121.4M462.8 1099.9V1114.3M465.2 1092.8V1119.0M467.6 1092.8V1104.7M470.0 1090.4V1104.7M472.3 1090.4V1109.5M474.7 1085.6V1109.5M477.1 1080.9V1097.6M479.5 1090.4V1107.1M481.9 1090.4V1097.6M484.3 1073.7V1095.2M486.6 1076.1V1102.3M489.0 1083.2V1102.3M491.4 1083.2V1107.1M493.8 1076.1V1099.9M496.2 1073.7V1088.0M498.6 1071.3V1092.8M501.0 1066.5V1083.2M503.3 1066.5V1076.1M505.7 1061.8V1080.9M508.1 1045.1V1066.5M510.5 1054.6V1078.5M512.9 1068.9V1083.2M515.3 1076.1V1085.6M517.7 1061.8V1088.0M520.0 1061.8V1076.1M522.4 1066.5V1076.1M524.8 1066.5V1078.5M527.2 1066.5V1080.9M529.6 1066.5V1090.4M532.0 1071.3V1090.4M534.3 1064.2V1090.4M536.7 1080.9V1097.6M539.1 1085.6V1107.1M541.5 1076.1V1107.1M543.9 1071.3V1080.9M546.3 1064.2V1088.0M548.7 1061.8V1078.5M551.0 1061.8V1085.6M553.4 1064.2V1085.6M555.8 1066.5V1085.6M558.2 1049.8V1073.7M560.6 1054.6V1078.5M563.0 1054.6V1085.6M565.4 1064.2V1076.1M567.7 1057.0V1071.3M570.1 1054.6V1068.9M572.5 1061.8V1073.7M574.9 1052.2V1073.7M577.3 1049.8V1068.9M579.7 1047.5V1064.2M582.0 1049.8V1071.3M584.4 1035.5V1057.0M586.8 1037.9V1057.0M589.2 1037.9V1066.5M591.6 1045.1V1061.8M594.0 1037.9V1068.9M596.4 1047.5V1068.9M598.7 1042.7V1059.4M601.1 1028.4V1047.5M603.5 1030.8V1047.5M605.9 1030.8V1059.4M608.3 1052.2V1061.8M610.7 1040.3V1061.8M613.1 1035.5V1057.0M615.4 1035.5V1054.6M617.8 1033.1V1057.0M620.2 1030.8V1040.3M622.6 1035.5V1068.9M625.0 1037.9V1057.0M627.4 1033.1V1052.2M629.7 1021.2V1049.8M632.1 1021.2V1042.7M634.5 1028.4V1052.2M636.9 1026.0V1045.1M639.3 1028.4V1045.1M641.7 1028.4V1045.1M644.1 1023.6V1035.5M646.4 1030.8V1045.1M648.8 1023.6V1042.7M651.2 1021.2V1040.3M653.6 1014.1V1030.8M656.0 1026.0V1042.7M658.4 1028.4V1042.7M660.8 1021.2V1040.3M663.1 1033.1V1049.8M665.5 1023.6V1037.9M667.9 1023.6V1042.7M670.3 1011.7V1042.7M672.7 1011.7V1035.5M675.1 1021.2V1040.3M677.4 1018.8V1040.3M679.8 1018.8V1035.5M682.2 1011.7V1035.5M684.6 1023.6V1037.9M687.0 1018.8V1040.3M689.4 1016.4V1030.8M691.8 1016.4V1030.8M694.1 1021.2V1040.3M696.5 1011.7V1040.3M698.9 1018.8V1030.8M701.3 1002.1V1023.6M703.7 1004.5V1021.2M706.1 1002.1V1014.1M708.5 1009.3V1021.2M710.8 999.7V1016.4M713.2 995.0V1014.1M715.6 999.7V1023.6M718.0 997.3V1023.6M720.4 995.0V1018.8M722.8 987.8V1006.9M725.1 995.0V1016.4M727.5 990.2V1016.4M729.9 990.2V1009.3M732.3 997.3V1026.0M734.7 997.3V1026.0M737.1 992.6V1023.6M739.5 985.4V1004.5M741.8 995.0V1014.1M744.2 978.3V1014.1M746.6 985.4V1006.9M749.0 997.3V1018.8M751.4 980.6V1002.1M753.8 990.2V1006.9M756.2 990.2V1006.9M758.5 997.3V1016.4M760.9 987.8V1006.9M763.3 978.3V1002.1M765.7 997.3V1006.9M768.1 966.3V1004.5M770.5 985.4V1002.1M772.8 985.4V1002.1M775.2 992.6V1006.9M777.6 980.6V1002.1M780.0 971.1V992.6M782.4 971.1V990.2M784.8 971.1V995.0M787.2 978.3V997.3M789.5 978.3V1011.7M791.9 985.4V1002.1M794.3 995.0V1004.5M796.7 990.2V1004.5M799.1 983.0V1002.1M801.5 983.0V999.7M803.9 975.9V1002.1M806.2 983.0V1002.1M808.6 978.3V990.2M811.0 973.5V995.0M813.4 968.7V995.0M815.8 954.4V978.3M818.2 959.2V987.8M820.5 978.3V987.8M822.9 963.9V983.0M825.3 971.1V1004.5M827.7 983.0V1004.5M830.1 997.3V1004.5M832.5 983.0V1004.5M834.9 983.0V999.7M837.2 992.6V1011.7M839.6 975.9V1002.1M842.0 990.2V1006.9M844.4 985.4V1002.1M846.8 992.6V1014.1M849.2 997.3V1011.7M851.6 997.3V1026.0M853.9 992.6V1026.0M856.3 990.2V1011.7M858.7 987.8V1006.9M861.1 995.0V1006.9M863.5 983.0V999.7M865.9 978.3V990.2M868.2 975.9V995.0M870.6 971.1V990.2M873.0 980.6V992.6M875.4 978.3V995.0M877.8 980.6V995.0M880.2 973.5V992.6M882.6 973.5V992.6M884.9 980.6V1002.1M887.3 980.6V999.7M889.7 971.1V990.2M892.1 971.1V992.6M894.5 959.2V983.0M896.9 968.7V985.4M899.3 966.3V990.2M901.6 980.6V1004.5M904.0 975.9V1004.5M906.4 980.6V999.7M908.8 995.0V1004.5M911.2 995.0V1004.5M913.6 987.8V1011.7M915.9 978.3V997.3M918.3 983.0V997.3M920.7 985.4V1004.5M923.1 980.6V992.6M925.5 971.1V997.3M927.9 985.4V1002.1M930.3 985.4V997.3M932.6 968.7V992.6M935.0 973.5V987.8M937.4 971.1V990.2M939.8 973.5V983.0M942.2 949.6V992.6M944.6 949.6V987.8M947.0 973.5V987.8M949.3 973.5V992.6M951.7 963.9V985.4M954.1 952.0V968.7M956.5 947.2V968.7M958.9 956.8V978.3M961.3 963.9V978.3M963.6 959.2V975.9M966.0 959.2V971.1M968.4 954.4V963.9M970.8 954.4V968.7M973.2 959.2V983.0M975.6 961.6V983.0M978.0 961.6V995.0M980.3 978.3V995.0M982.7 983.0V999.7M985.1 990.2V997.3M987.5 983.0V1002.1M989.9 987.8V1002.1M992.3 985.4V997.3M994.7 975.9V999.7M997.0 975.9V995.0M999.4 975.9V987.8M1001.8 975.9V987.8M1004.2 971.1V983.0M1006.6 978.3V990.2M1009.0 978.3V985.4M1011.3 975.9V985.4M1013.7 971.1V985.4M1016.1 971.1V987.8M1018.5 968.7V987.8M1020.9 963.9V983.0M1023.3 963.9V980.6M1025.7 975.9V999.7M1028.0 983.0V995.0M1030.4 975.9V995.0M1032.8 975.9V995.0M1035.2 975.9V992.6M1037.6 973.5V983.0M1040.0 968.7V983.0M1042.4 975.9V992.6M1044.7 975.9V992.6M1047.1 978.3V995.0M1049.5 975.9V987.8M1051.9 956.8V985.4M1054.3 952.0V973.5M1056.7 961.6V978.3M1059.0 966.3V980.6M1061.4 963.9V980.6M1063.8 956.8V973.5M1066.2 956.8V978.3M1068.6 963.9V992.6M1071.0 947.2V992.6M1073.4 947.2V975.9M1075.7 963.9V980.6M1078.1 961.6V980.6M1080.5 963.9V990.2M1082.9 973.5V992.6M1085.3 971.1V992.6M1087.7 980.6V999.7M1090.1 971.1V999.7M1092.4 971.1V999.7M1094.8 971.1V995.0M1097.2 956.8V975.9M1099.6 963.9V992.6M1102.0 968.7V990.2M1104.4 968.7V985.4M1106.7 980.6V995.0M1109.1 973.5V990.2M1111.5 954.4V978.3M1113.9 954.4V997.3M1116.3 975.9V997.3M1118.7 952.0V992.6M1121.1 952.0V990.2M1123.4 973.5V990.2M1125.8 966.3V978.3M1128.2 961.6V985.4M1130.6 968.7V985.4M1133.0 963.9V975.9M1135.4 963.9V992.6M1137.8 975.9V990.2M1140.1 975.9V987.8M1142.5 971.1V987.8M1144.9 973.5V987.8M1147.3 978.3V992.6M1149.7 968.7V987.8M1152.1 968.7V980.6M1154.4 975.9V992.6M1156.8 961.6V985.4M1159.2 961.6V985.4M1161.6 963.9V983.0M1164.0 959.2V975.9M1166.4 961.6V983.0M1168.8 959.2V968.7M1171.1 944.9V963.9M1173.5 947.2V961.6M1175.9 956.8V963.9M1178.3 952.0V971.1M1180.7 961.6V971.1M1183.1 952.0V968.7M1185.5 944.9V971.1M1187.8 961.6V985.4M1190.2 973.5V985.4M1192.6 971.1V985.4M1195.0 975.9V995.0M1197.4 959.2V985.4M1199.8 959.2V980.6M1202.1 959.2V980.6M1204.5 956.8V980.6M1206.9 956.8V975.9M1209.3 954.4V980.6M1211.7 952.0V971.1M1214.1 963.9V973.5M1216.5 956.8V971.1M1218.8 956.8V966.3M1221.2 956.8V975.9M1223.6 961.6V980.6M1226.0 975.9V999.7M1228.4 968.7V990.2M1230.8 966.3V975.9M1233.2 959.2V973.5M1235.5 956.8V973.5M1237.9 959.2V975.9M1240.3 954.4V971.1M1242.7 959.2V968.7M1245.1 925.8V966.3M1247.5 925.8V963.9M1249.8 942.5V959.2M1252.2 942.5V952.0M1254.6 944.9V961.6M1257.0 942.5V954.4M1259.4 942.5V975.9M1261.8 952.0V975.9M1264.2 944.9V966.3M1266.5 947.2V971.1M1268.9 961.6V975.9M1271.3 956.8V975.9M1273.7 956.8V985.4M1276.1 956.8V975.9M1278.5 961.6V978.3M1280.9 961.6V978.3M1283.2 968.7V980.6M1285.6 966.3V987.8M1288.0 966.3V1004.5M1290.4 990.2V1004.5M1292.8 978.3V997.3M1295.2 992.6V1006.9M1297.5 987.8V1006.9M1299.9 985.4V1004.5M1302.3 995.0V1009.3M1304.7 992.6V1023.6M1307.1 983.0V1009.3M1309.5 983.0V1006.9M1311.9 985.4V1006.9M1314.2 975.9V1002.1M1316.6 987.8V997.3M1319.0 990.2V999.7M1321.4 985.4V1004.5M1323.8 975.9V1002.1M1326.2 975.9V999.7M1328.6 985.4V1006.9M1330.9 985.4V999.7M1333.3 985.4V999.7M1335.7 985.4V1004.5M1338.1 985.4V1002.1M1340.5 985.4V992.6M1342.9 980.6V1006.9M1345.2 971.1V1004.5M1347.6 973.5V987.8M1350.0 971.1V992.6M1352.4 959.2V987.8M1354.8 973.5V987.8M1357.2 966.3V983.0M1359.6 968.7V983.0M1361.9 973.5V999.7M1364.3 985.4V999.7M1366.7 985.4V1009.3M1369.1 990.2V997.3M1371.5 985.4V997.3M1373.9 973.5V990.2M1376.3 985.4V1009.3M1378.6 975.9V1002.1M1381.0 975.9V997.3M1383.4 978.3V999.7M1385.8 987.8V999.7M1388.2 980.6V999.7M1390.6 990.2V1009.3M1392.9 992.6V1009.3M1395.3 995.0V1009.3M1397.7 995.0V1004.5M1400.1 985.4V999.7M1402.5 975.9V990.2M1404.9 975.9V1004.5M1407.3 971.1V1002.1M1409.6 975.9V987.8M1412.0 975.9V992.6M1414.4 975.9V999.7M1416.8 975.9V992.6M1419.2 983.0V1002.1M1421.6 987.8V1002.1M1424.0 987.8V1002.1M1426.3 985.4V1002.1M1428.7 971.1V1002.1M1431.1 971.1V983.0M1433.5 975.9V985.4M1435.9 975.9V997.3M1438.3 973.5V985.4M1440.6 973.5V1004.5M1443.0 985.4V1006.9M1445.4 992.6V1009.3M1447.8 990.2V1021.2M1450.2 987.8V1002.1M1452.6 983.0V1009.3M1455.0 985.4V1011.7M1457.3 983.0V997.3M1459.7 983.0V1011.7M1462.1 980.6V1011.7M1464.5 980.6V1002.1M1466.9 980.6V1002.1M1469.3 975.9V995.0M1471.7 963.9V983.0M1474.0 968.7V983.0M1476.4 968.7V990.2M1478.8 966.3V980.6M1481.2 963.9V990.2M1483.6 954.4V973.5M1486.0 949.6V975.9M1488.3 959.2V975.9M1490.7 947.2V975.9M1493.1 954.4V975.9M1495.5 952.0V973.5M1497.9 966.3V983.0M1500.3 956.8V983.0M1502.7 954.4V978.3M1505.0 968.7V980.6M1507.4 966.3V980.6M1509.8 949.6V980.6M1512.2 959.2V980.6M1514.6 959.2V978.3M1517.0 956.8V978.3M1519.4 959.2V975.9M1521.7 968.7V980.6M1524.1 968.7V980.6M1526.5 973.5V999.7M1528.9 983.0V997.3M1531.3 985.4V1004.5M1533.7 990.2V1006.9M1536.0 997.3V1006.9M1538.4 992.6V1006.9M1540.8 985.4V999.7M1543.2 983.0V1014.1M1545.6 987.8V1014.1M1548.0 987.8V1011.7M1550.4 987.8V1004.5M1552.7 995.0V1002.1M1555.1 980.6V1002.1M1557.5 983.0V992.6M1559.9 968.7V992.6M1562.3 973.5V995.0M1564.7 959.2V983.0M1567.1 973.5V983.0M1569.4 973.5V990.2M1571.8 980.6V992.6M1574.2 985.4V992.6M1576.6 973.5V990.2M1579.0 985.4V1011.7M1581.4 987.8V1004.5M1583.7 992.6V1004.5M1586.1 992.6V1009.3M1588.5 992.6V1009.3M1590.9 992.6V1006.9M1593.3 987.8V1006.9M1595.7 975.9V997.3M1598.1 971.1V987.8M1600.4 983.0V999.7M1602.8 995.0V1002.1M1605.2 980.6V1002.1M1607.6 980.6V1004.5M1610.0 985.4V999.7M1612.4 980.6V990.2M1614.8 978.3V990.2M1617.1 975.9V987.8M1619.5 961.6V980.6M1621.9 961.6V987.8M1624.3 975.9V995.0M1626.7 980.6V999.7M1629.1 990.2V1002.1M1631.4 990.2V1009.3M1633.8 985.4V1009.3M1636.2 983.0V997.3M1638.6 992.6V1009.3M1641.0 990.2V1004.5M1643.4 975.9V995.0M1645.8 983.0V999.7M1648.1 978.3V997.3M1650.5 975.9V995.0M1652.9 973.5V992.6M1655.3 987.8V997.3M1657.7 992.6V1009.3M1660.1 980.6V1009.3M1662.5 992.6V1014.1M1664.8 987.8V997.3M1667.2 992.6V1006.9M1669.6 990.2V1002.1M1672.0 987.8V999.7M1674.4 983.0V1006.9M1676.8 980.6V1006.9M1679.1 978.3V999.7M1681.5 973.5V990.2M1683.9 985.4V992.6M1686.3 975.9V992.6M1688.7 968.7V987.8M1691.1 968.7V980.6M1693.5 971.1V980.6M1695.8 971.1V980.6M1698.2 963.9V975.9M1700.6 937.7V968.7M1703.0 937.7V973.5M1705.4 956.8V973.5M1707.8 947.2V971.1M1710.2 966.3V980.6M1712.5 949.6V980.6M1714.9 952.0V971.1M1717.3 952.0V978.3M1719.7 963.9V978.3M1722.1 961.6V975.9M1724.5 961.6V983.0M1726.8 973.5V987.8M1729.2 973.5V992.6M1731.6 966.3V987.8M1734.0 971.1V987.8M1736.4 971.1V987.8M1738.8 971.1V990.2M1741.2 983.0V1004.5M1743.5 975.9V1004.5M1745.9 975.9V1006.9M1748.3 987.8V1006.9M1750.7 999.7V1018.8M1753.1 987.8V1011.7M1755.5 980.6V1004.5M1757.9 992.6V1009.3M1760.2 980.6V997.3M1762.6 973.5V1004.5M1765.0 999.7V1009.3M1767.4 992.6V1006.9M1769.8 980.6V997.3M1772.2 987.8V999.7M1774.5 983.0V995.0M1776.9 971.1V987.8M1779.3 971.1V1011.7M1781.7 978.3V997.3M1784.1 980.6V995.0M1786.5 983.0V997.3M1788.9 980.6V997.3M1791.2 980.6V987.8M1793.6 980.6V992.6M1796.0 985.4V1004.5M1798.4 997.3V1009.3M1800.8 983.0V1009.3M1803.2 978.3V1002.1M1805.6 983.0V1002.1M1807.9 978.3V1002.1M1810.3 985.4V995.0M1812.7 968.7V995.0M1815.1 983.0V990.2M1817.5 980.6V997.3M1819.9 980.6V1009.3M1822.2 992.6V1014.1M1824.6 978.3V999.7M1827.0 983.0V1006.9M1829.4 983.0V1006.9M1831.8 983.0V1006.9M1834.2 987.8V1014.1M1836.6 968.7V992.6M1838.9 968.7V992.6M1841.3 968.7V995.0M1843.7 968.7V990.2M1846.1 961.6V995.0M1848.5 961.6V980.6M1850.9 966.3V983.0M1853.3 963.9V980.6M1855.6 954.4V980.6M1858.0 942.5V959.2M1860.4 937.7V973.5M1862.8 961.6V978.3M1865.2 949.6V968.7M1867.6 952.0V968.7M1869.9 961.6V975.9M1872.3 959.2V978.3M1874.7 942.5V963.9M1877.1 947.2V959.2M1879.5 947.2V966.3M1881.9 944.9V959.2M1884.3 944.9V959.2M1886.6 944.9V961.6M1889.0 944.9V968.7M1891.4 956.8V968.7M1893.8 961.6V973.5M1896.2 963.9V975.9M1898.6 971.1V997.3M1901.0 987.8V997.3M1903.3 980.6V997.3M1905.7 978.3V995.0M1908.1 980.6V1004.5M1910.5 983.0V1004.5M1912.9 983.0V1016.4M1915.3 978.3V1016.4M1917.6 978.3V992.6M1920.0 968.7V992.6M1922.4 968.7V995.0M1924.8 980.6V995.0M1927.2 975.9V997.3M1929.6 973.5V995.0M1932.0 973.5V992.6M1934.3 978.3V997.3M1936.7 956.8V985.4M1939.1 956.8V971.1M1941.5 959.2V995.0M1943.9 971.1V990.2M1946.3 975.9V985.4M1948.7 971.1V985.4M1951.0 971.1V992.6M1953.4 973.5V987.8M1955.8 971.1V995.0M1958.2 971.1V999.7M1960.6 954.4V985.4M1963.0 954.4V985.4M1965.3 980.6V999.7M1967.7 961.6V999.7M1970.1 983.0V999.7M1972.5 995.0V1011.7M1974.9 990.2V1011.7M1977.3 983.0V999.7M1979.7 983.0V999.7M1982.0 983.0V1009.3M1984.4 978.3V1009.3M1986.8 980.6V1002.1M1989.2 980.6V1002.1M1991.6 978.3V997.3M1994.0 992.6V1009.3M1996.4 990.2V1009.3M1998.7 990.2V1006.9M2001.1 990.2V1006.9M2003.5 978.3V995.0M2005.9 978.3V992.6M2008.3 971.1V983.0M2010.7 971.1V992.6M2013.0 968.7V992.6M2015.4 968.7V992.6M2017.8 978.3V1004.5M2020.2 990.2V1011.7M2022.6 990.2V1009.3M2025.0 985.4V999.7M2027.4 980.6V997.3M2029.7 983.0V995.0M2032.1 968.7V997.3M2034.5 968.7V990.2M2036.9 966.3V997.3M2039.3 980.6V997.3M2041.7 966.3V992.6M2044.1 983.0V997.3M2046.4 992.6V1014.1M2048.8 995.0V1014.1M2051.2 985.4V999.7M2053.6 978.3V995.0M2056.0 990.2V999.7M2058.4 978.3V997.3M2060.7 978.3V1002.1M2063.1 978.3V987.8M2065.5 975.9V992.6M2067.9 968.7V980.6M2070.3 963.9V987.8M2072.7 978.3V999.7M2075.1 961.6V999.7M2077.4 959.2V973.5M2079.8 968.7V985.4M2082.2 961.6V985.4M2084.6 963.9V992.6M2087.0 959.2V975.9M2089.4 954.4V968.7M2091.8 954.4V971.1M2094.1 954.4V987.8M2096.5 966.3V987.8M2098.9 959.2V978.3M2101.3 944.9V966.3M2103.7 952.0V966.3M2106.1 947.2V956.8M2108.4 947.2V968.7M2110.8 959.2V973.5M2113.2 959.2V978.3M2115.6 949.6V978.3M2118.0 954.4V973.5M2120.4 954.4V980.6M2122.8 971.1V985.4M2125.1 971.1V997.3M2127.5 978.3V1011.7M2129.9 987.8V997.3M2132.3 987.8V999.7M2134.7 983.0V999.7M2137.1 983.0V997.3M2139.5 990.2V1002.1M2141.8 985.4V997.3M2144.2 983.0V1002.1M2146.6 980.6V997.3M2149.0 978.3V997.3M2151.4 961.6V983.0M2153.8 978.3V1004.5M2156.1 983.0V1002.1M2158.5 983.0V1002.1M2160.9 987.8V1006.9M2163.3 983.0V1006.9M2165.7 985.4V1006.9M2168.1 983.0V999.7M2170.5 983.0V1006.9M2172.8 985.4V1006.9M2175.2 978.3V990.2M2177.6 975.9V999.7M2180.0 983.0V999.7M2182.4 973.5V987.8M2184.8 978.3V992.6M2187.2 975.9V990.2M2189.5 983.0V997.3M2191.9 990.2V1016.4M2194.3 990.2V1016.4M2196.7 978.3V995.0M2199.1 980.6V995.0M2201.5 987.8V1006.9M2203.8 980.6V1014.1M2206.2 980.6V995.0M2208.6 978.3V992.6M2211.0 980.6V995.0M2213.4 975.9V990.2M2215.8 980.6V987.8M2218.2 973.5V987.8M2220.5 973.5V995.0M2222.9 980.6V992.6M2225.3 983.0V999.7M2227.7 966.3V997.3M2230.1 961.6V978.3M2232.5 963.9V978.3M2234.9 954.4V973.5M2237.2 952.0V971.1M2239.6 949.6V963.9M2242.0 952.0V968.7M2244.4 956.8V978.3M2246.8 961.6V978.3M2249.2 949.6V971.1M2251.5 949.6V968.7M2253.9 944.9V963.9M2256.3 952.0V963.9M2258.7 954.4V980.6M2261.1 959.2V985.4M2263.5 959.2V973.5M2265.9 966.3V990.2M2268.2 966.3V997.3M2270.6 978.3V997.3M2273.0 978.3V1004.5M2275.4 978.3V1006.9M2277.8 978.3V997.3M2280.2 985.4V997.3M2282.6 980.6V1011.7M2284.9 973.5V1011.7M2287.3 973.5V997.3M2289.7 975.9V1004.5M2292.1 975.9V1004.5M2294.5 983.0V1004.5M2296.9 987.8V1004.5M2299.2 978.3V999.7M2301.6 973.5V990.2M2304.0 975.9V985.4M2306.4 975.9V992.6M2308.8 971.1V983.0M2311.2 971.1V990.2"/>
<path stroke="#00ffff" d="M269.7 1556.1V1382.0M272.0 1367.2V1383.9M274.4 1362.4V1372.0M276.8 1350.5V1369.6M279.2 1340.9V1357.6M281.5 1326.6V1345.7M283.9 1324.2V1338.5M286.3 1309.9V1329.0M288.7 1302.8V1319.5M291.1 1307.5V1324.2M293.5 1298.0V1324.2M295.8 1298.0V1319.5M298.2 1298.0V1309.9M300.6 1288.4V1314.7M303.0 1288.4V1300.4M305.4 1274.1V1295.6M307.8 1264.6V1283.7M310.2 1264.6V1302.8M312.5 1271.7V1302.8M314.9 1278.9V1293.2M317.3 1283.7V1307.5M319.7 1281.3V1300.4M322.1 1281.3V1300.4M324.5 1276.5V1300.4M326.9 1276.5V1300.4M329.2 1267.0V1288.4M331.6 1274.1V1288.4M334.0 1276.5V1288.4M336.4 1252.7V1283.7M338.8 1252.7V1269.4M341.2 1250.3V1269.4M343.5 1240.7V1259.8M345.9 1252.7V1262.2M348.3 1226.4V1257.4M350.7 1226.4V1250.3M353.1 1245.5V1255.0M355.5 1238.3V1250.3M357.9 1240.7V1257.4M360.2 1224.0V1250.3M362.6 1233.6V1259.8M365.0 1240.7V1259.8M367.4 1238.3V1259.8M369.8 1235.9V1252.7M372.2 1240.7V1255.0M374.6 1247.9V1264.6M376.9 1240.7V1267.0M379.3 1250.3V1259.8M381.7 1252.7V1269.4M384.1 1240.7V1259.8M386.5 1238.3V1257.4M388.9 1235.9V1257.4M391.2 1247.9V1257.4M393.6 1250.3V1269.4M396.0 1250.3V1276.5M398.4 1257.4V1269.4M400.8 1257.4V1271.7M403.2 1255.0V1274.1M405.6 1245.5V1259.8M407.9 1252.7V1262.2M410.3 1245.5V1264.6M412.7 1245.5V1257.4M415.1 1250.3V1264.6M417.5 1259.8V1278.9M419.9 1250.3V1274.1M422.3 1245.5V1281.3M424.6 1247.9V1281.3M427.0 1247.9V1267.0M429.4 1257.4V1267.0M431.8 1257.4V1286.1M434.2 1262.2V1283.7M436.6 1264.6V1290.8M438.9 1274.1V1300.4M441.3 1267.0V1300.4M443.7 1267.0V1278.9M446.1 1267.0V1283.7M448.5 1269.4V1283.7M450.9 1264.6V1293.2M453.3 1267.0V1283.7M455.6 1257.4V1274.1M458.0 1245.5V1278.9M460.4 1262.2V1278.9M462.8 1252.7V1276.5M465.2 1252.7V1271.7M467.6 1252.7V1264.6M470.0 1259.8V1274.1M472.3 1259.8V1281.3M474.7 1257.4V1276.5M477.1 1247.9V1269.4M479.5 1245.5V1269.4M481.9 1245.5V1274.1M484.3 1252.7V1281.3M486.6 1233.6V1262.2M489.0 1245.5V1271.7M491.4 1250.3V1269.4M493.8 1257.4V1281.3M496.2 1264.6V1281.3M498.6 1252.7V1281.3M501.0 1240.7V1262.2M503.3 1257.4V1274.1M505.7 1255.0V1264.6M508.1 1255.0V1271.7M510.5 1257.4V1274.1M512.9 1257.4V1286.1M515.3 1267.0V1293.2M517.7 1264.6V1276.5M520.0 1264.6V1274.1M522.4 1264.6V1281.3M524.8 1257.4V1293.2M527.2 1247.9V1262.2M529.6 1255.0V1264.6M532.0 1255.0V1274.1M534.3 1247.9V1274.1M536.7 1259.8V1271.7M539.1 1243.1V1264.6M541.5 1252.7V1264.6M543.9 1252.7V1269.4M546.3 1231.2V1269.4M548.7 1231.2V1250.3M551.0 1238.3V1250.3M553.4 1238.3V1257.4M555.8 1235.9V1257.4M558.2 1235.9V1255.0M560.6 1238.3V1252.7M563.0 1238.3V1259.8M565.4 1224.0V1243.1M567.7 1224.0V1257.4M570.1 1224.0V1238.3M572.5 1228.8V1252.7M574.9 1231.2V1252.7M577.3 1231.2V1259.8M579.7 1228.8V1243.1M582.0 1233.6V1247.9M584.4 1233.6V1267.0M586.8 1235.9V1245.5M589.2 1231.2V1252.7M591.6 1231.2V1255.0M594.0 1224.0V1255.0M596.4 1235.9V1247.9M598.7 1224.0V1245.5M601.1 1224.0V1240.7M603.5 1224.0V1247.9M605.9 1216.9V1233.6M608.3 1219.2V1243.1M610.7 1212.1V1233.6M613.1 1212.1V1224.0M615.4 1202.5V1221.6M617.8 1202.5V1216.9M620.2 1204.9V1228.8M622.6 1204.9V1224.0M625.0 1212.1V1233.6M627.4 1202.5V1226.4M629.7 1202.5V1226.4M632.1 1221.6V1240.7M634.5 1219.2V1238.3M636.9 1226.4V1250.3M639.3 1228.8V1250.3M641.7 1219.2V1233.6M644.1 1219.2V1250.3M646.4 1228.8V1250.3M648.8 1219.2V1240.7M651.2 1214.5V1226.4M653.6 1219.2V1235.9M656.0 1214.5V1231.2M658.4 1214.5V1226.4M660.8 1204.9V1226.4M663.1 1219.2V1235.9M665.5 1204.9V1226.4M667.9 1214.5V1224.0M670.3 1200.2V1219.2M672.7 1195.4V1228.8M675.1 1195.4V1216.9M677.4 1193.0V1221.6M679.8 1183.5V1202.5M682.2 1183.5V1209.7M684.6 1195.4V1207.3M687.0 1200.2V1214.5M689.4 1204.9V1224.0M691.8 1195.4V1221.6M694.1 1200.2V1214.5M696.5 1209.7V1221.6M698.9 1209.7V1224.0M701.3 1200.2V1219.2M703.7 1200.2V1226.4M706.1 1202.5V1221.6M708.5 1193.0V1216.9M710.8 1212.1V1233.6M713.2 1207.3V1221.6M715.6 1197.8V1214.5M718.0 1197.8V1212.1M720.4 1193.0V1221.6M722.8 1193.0V1221.6M725.1 1178.7V1207.3M727.5 1197.8V1204.9M729.9 1195.4V1219.2M732.3 1195.4V1219.2M734.7 1193.0V1216.9M737.1 1176.3V1200.2M739.5 1183.5V1214.5M741.8 1195.4V1212.1M744.2 1207.3V1224.0M746.6 1204.9V1224.0M749.0 1209.7V1233.6M751.4 1216.9V1231.2M753.8 1216.9V1231.2M756.2 1216.9V1235.9M758.5 1221.6V1235.9M760.9 1224.0V1247.9M763.3 1197.8V1250.3M765.7 1197.8V1221.6M768.1 1209.7V1228.8M770.5 1207.3V1224.0M772.8 1200.2V1221.6M775.2 1216.9V1233.6M777.6 1212.1V1228.8M780.0 1200.2V1216.9M782.4 1204.9V1231.2M784.8 1197.8V1231.2M787.2 1188.2V1207.3M789.5 1190.6V1207.3M791.9 1193.0V1209.7M794.3 1188.2V1202.5M796.7 1181.1V1197.8M799.1 1185.8V1200.2M801.5 1190.6V1202.5M803.9 1188.2V1200.2M806.2 1195.4V1209.7M808.6 1188.2V1202.5M811.0 1188.2V1209.7M813.4 1188.2V1195.4M815.8 1190.6V1216.9M818.2 1185.8V1209.7M820.5 1188.2V1204.9M822.9 1185.8V1212.1M825.3 1171.5V1212.1M827.7 1169.1V1185.8M830.1 1169.1V1197.8M832.5 1193.0V1212.1M834.9 1193.0V1214.5M837.2 1193.0V1214.5M839.6 1202.5V1221.6M842.0 1193.0V1221.6M844.4 1195.4V1209.7M846.8 1183.5V1204.9M849.2 1171.5V1188.2M851.6 1183.5V1204.9M853.9 1185.8V1202.5M856.3 1197.8V1216.9M858.7 1193.0V1216.9M861.1 1188.2V1204.9M863.5 1190.6V1204.9M865.9 1200.2V1216.9M868.2 1207.3V1216.9M870.6 1207.3V1228.8M873.0 1190.6V1212.1M875.4 1190.6V1226.4M877.8 1190.6V1226.4M880.2 1185.8V1202.5M882.6 1181.1V1195.4M884.9 1181.1V1197.8M887.3 1183.5V1200.2M889.7 1195.4V1209.7M892.1 1190.6V1212.1M894.5 1185.8V1204.9M896.9 1185.8V1214.5M899.3 1171.5V1207.3M901.6 1190.6V1214.5M904.0 1183.5V1197.8M906.4 1181.1V1200.2M908.8 1173.9V1185.8M911.2 1169.1V1193.0M913.6 1169.1V1188.2M915.9 1169.1V1195.4M918.3 1169.1V1188.2M920.7 1169.1V1181.1M923.1 1157.2V1183.5M925.5 1157.2V1185.8M927.9 1159.6V1185.8M930.3 1159.6V1188.2M932.6 1162.0V1176.3M935.0 1147.7V1169.1M937.4 1147.7V1154.8M939.8 1140.5V1164.4M942.2 1138.1V1159.6M944.6 1140.5V1166.8M947.0 1152.4V1164.4M949.3 1128.6V1159.6M951.7 1128.6V1154.8M954.1 1150.1V1166.8M956.5 1128.6V1154.8M958.9 1128.6V1154.8M961.3 1121.4V1154.8M963.6 1111.9V1140.5M966.0 1111.9V1142.9M968.4 1135.7V1145.3M970.8 1135.7V1154.8M973.2 1145.3V1166.8M975.6 1138.1V1166.8M978.0 1159.6V1178.7M980.3 1157.2V1171.5M982.7 1166.8V1183.5M985.1 1169.1V1183.5M987.5 1166.8V1195.4M989.9 1166.8V1185.8M992.3 1178.7V1185.8M994.7 1169.1V1188.2M997.0 1173.9V1193.0M999.4 1183.5V1190.6M1001.8 1169.1V1188.2M1004.2 1169.1V1193.0M1006.6 1173.9V1193.0M1009.0 1185.8V1204.9M1011.3 1173.9V1190.6M1013.7 1159.6V1185.8M1016.1 1166.8V1188.2M1018.5 1169.1V1195.4M1020.9 1181.1V1193.0M1023.3 1183.5V1193.0M1025.7 1181.1V1197.8M1028.0 1185.8V1197.8M1030.4 1178.7V1190.6M1032.8 1178.7V1200.2M1035.2 1195.4V1214.5M1037.6 1195.4V1207.3M1040.0 1195.4V1216.9M1042.4 1200.2V1216.9M1044.7 1202.5V1221.6M1047.1 1190.6V1221.6M1049.5 1209.7V1228.8M1051.9 1193.0V1228.8M1054.3 1185.8V1197.8M1056.7 1185.8V1207.3M1059.0 1190.6V1207.3M1061.4 1181.1V1195.4M1063.8 1181.1V1207.3M1066.2 1188.2V1207.3M1068.6 1181.1V1204.9M1071.0 1178.7V1207.3M1073.4 1185.8V1207.3M1075.7 1185.8V1207.3M1078.1 1181.1V1193.0M1080.5 1181.1V1188.2M1082.9 1181.1V1200.2M1085.3 1176.3V1195.4M1087.7 1188.2V1202.5M1090.1 1178.7V1202.5M1092.4 1178.7V1202.5M1094.8 1176.3V1202.5M1097.2 1188.2V1200.2M1099.6 1183.5V1195.4M1102.0 1171.5V1197.8M1104.4 1171.5V1195.4M1106.7 1188.2V1195.4M1109.1 1188.2V1219.2M1111.5 1178.7V1209.7M1113.9 1195.4V1209.7M1116.3 1195.4V1204.9M1118.7 1200.2V1216.9M1121.1 1190.6V1216.9M1123.4 1190.6V1214.5M1125.8 1195.4V1214.5M1128.2 1178.7V1200.2M1130.6 1178.7V1207.3M1133.0 1202.5V1214.5M1135.4 1200.2V1214.5M1137.8 1185.8V1207.3M1140.1 1178.7V1190.6M1142.5 1178.7V1185.8M1144.9 1178.7V1209.7M1147.3 1178.7V1214.5M1149.7 1178.7V1204.9M1152.1 1181.1V1188.2M1154.4 1181.1V1212.1M1156.8 1183.5V1214.5M1159.2 1183.5V1200.2M1161.6 1185.8V1197.8M1164.0 1185.8V1197.8M1166.4 1173.9V1193.0M1168.8 1169.1V1193.0M1171.1 1176.3V1202.5M1173.5 1183.5V1204.9M1175.9 1193.0V1212.1M1178.3 1183.5V1207.3M1180.7 1181.1V1207.3M1183.1 1176.3V1188.2M1185.5 1173.9V1185.8M1187.8 1173.9V1197.8M1190.2 1183.5V1197.8M1192.6 1178.7V1188.2M1195.0 1164.4V1185.8M1197.4 1166.8V1190.6M1199.8 1169.1V1190.6M1202.1 1164.4V1193.0M1204.5 1183.5V1195.4M1206.9 1190.6V1202.5M1209.3 1190.6V1207.3M1211.7 1197.8V1209.7M1214.1 1188.2V1209.7M1216.5 1181.1V1202.5M1218.8 1181.1V1195.4M1221.2 1183.5V1204.9M1223.6 1188.2V1214.5M1226.0 1183.5V1212.1M1228.4 1183.5V1207.3M1230.8 1171.5V1188.2M1233.2 1176.3V1190.6M1235.5 1178.7V1190.6M1237.9 1171.5V1190.6M1240.3 1171.5V1188.2M1242.7 1169.1V1190.6M1245.1 1166.8V1193.0M1247.5 1181.1V1195.4M1249.8 1169.1V1193.0M1252.2 1176.3V1193.0M1254.6 1185.8V1193.0M1257.0 1162.0V1193.0M1259.4 1162.0V1190.6M1261.8 1169.1V1195.4M1264.2 1162.0V1181.1M1266.5 1159.6V1171.5M1268.9 1162.0V1176.3M1271.3 1159.6V1173.9M1273.7 1157.2V1173.9M1276.1 1152.4V1185.8M1278.5 1150.1V1171.5M1280.9 1145.3V1173.9M1283.2 1145.3V1181.1M1285.6 1157.2V1178.7M1288.0 1173.9V1190.6M1290.4 1173.9V1190.6M1292.8 1166.8V1183.5M1295.2 1154.8V1183.5M1297.5 1162.0V1200.2M1299.9 1173.9V1200.2M1302.3 1166.8V1188.2M1304.7 1150.1V1183.5M1307.1 1150.1V1178.7M1309.5 1159.6V1178.7M1311.9 1164.4V1178.7M1314.2 1154.8V1190.6M1316.6 1169.1V1190.6M1319.0 1157.2V1188.2M1321.4 1176.3V1195.4M1323.8 1176.3V1185.8M1326.2 1176.3V1185.8M1328.6 1166.8V1183.5M1330.9 1166.8V1183.5M1333.3 1150.1V1173.9M1335.7 1150.1V1171.5M1338.1 1152.4V1176.3M1340.5 1152.4V1169.1M1342.9 1154.8V1188.2M1345.2 1166.8V1178.7M1347.6 1154.8V1178.7M1350.0 1162.0V1181.1M1352.4 1166.8V1181.1M1354.8 1154.8V1176.3M1357.2 1154.8V1176.3M1359.6 1164.4V1181.1M1361.9 1164.4V1190.6M1364.3 1166.8V1185.8M1366.7 1171.5V1181.1M1369.1 1166.8V1185.8M1371.5 1166.8V1185.8M1373.9 1166.8V1190.6M1376.3 1171.5V1185.8M1378.6 1166.8V1181.1M1381.0 1176.3V1183.5M1383.4 1159.6V1181.1M1385.8 1159.6V1171.5M1388.2 1157.2V1171.5M1390.6 1166.8V1185.8M1392.9 1164.4V1178.7M1395.3 1171.5V1183.5M1397.7 1154.8V1178.7M1400.1 1154.8V1169.1M1402.5 1150.1V1169.1M1404.9 1150.1V1178.7M1407.3 1169.1V1181.1M1409.6 1157.2V1176.3M1412.0 1152.4V1169.1M1414.4 1142.9V1164.4M1416.8 1142.9V1166.8M1419.2 1145.3V1154.8M1421.6 1147.7V1164.4M1424.0 1147.7V1162.0M1426.3 1150.1V1169.1M1428.7 1154.8V1162.0M1431.1 1152.4V1181.1M1433.5 1152.4V1181.1M1435.9 1162.0V1173.9M1438.3 1150.1V1171.5M1440.6 1142.9V1173.9M1443.0 1164.4V1181.1M1445.4 1169.1V1183.5M1447.8 1154.8V1183.5M1450.2 1154.8V1188.2M1452.6 1154.8V1188.2M1455.0 1147.7V1176.3M1457.3 1162.0V1176.3M1459.7 1164.4V1176.3M1462.1 1164.4V1202.5M1464.5 1166.8V1202.5M1466.9 1166.8V1185.8M1469.3 1159.6V1181.1M1471.7 1154.8V1176.3M1474.0 1164.4V1173.9M1476.4 1147.7V1169.1M1478.8 1138.1V1159.6M1481.2 1147.7V1166.8M1483.6 1147.7V1166.8M1486.0 1154.8V1166.8M1488.3 1150.1V1181.1M1490.7 1150.1V1164.4M1493.1 1159.6V1171.5M1495.5 1150.1V1171.5M1497.9 1147.7V1171.5M1500.3 1147.7V1173.9M1502.7 1150.1V1171.5M1505.0 1150.1V1166.8M1507.4 1154.8V1169.1M1509.8 1159.6V1185.8M1512.2 1154.8V1164.4M1514.6 1147.7V1166.8M1517.0 1150.1V1166.8M1519.4 1150.1V1164.4M1521.7 1159.6V1176.3M1524.1 1159.6V1171.5M1526.5 1147.7V1169.1M1528.9 1142.9V1157.2M1531.3 1140.5V1157.2M1533.7 1140.5V1159.6M1536.0 1152.4V1166.8M1538.4 1140.5V1169.1M1540.8 1135.7V1162.0M1543.2 1145.3V1164.4M1545.6 1128.6V1150.1M1548.0 1133.4V1150.1M1550.4 1145.3V1159.6M1552.7 1145.3V1171.5M1555.1 1154.8V1169.1M1557.5 1147.7V1166.8M1559.9 1154.8V1169.1M1562.3 1135.7V1164.4M1564.7 1138.1V1154.8M1567.1 1142.9V1157.2M1569.4 1135.7V1157.2M1571.8 1135.7V1154.8M1574.2 1128.6V1152.4M1576.6 1142.9V1154.8M1579.0 1142.9V1162.0M1581.4 1138.1V1159.6M1583.7 1138.1V1173.9M1586.1 1140.5V1173.9M1588.5 1131.0V1145.3M1590.9 1135.7V1157.2M1593.3 1128.6V1157.2M1595.7 1131.0V1152.4M1598.1 1145.3V1159.6M1600.4 1126.2V1150.1M1602.8 1138.1V1152.4M1605.2 1138.1V1154.8M1607.6 1128.6V1154.8M1610.0 1133.4V1145.3M1612.4 1126.2V1145.3M1614.8 1119.0V1147.7M1617.1 1121.4V1152.4M1619.5 1116.6V1133.4M1621.9 1116.6V1145.3M1624.3 1119.0V1147.7M1626.7 1111.9V1133.4M1629.1 1111.9V1131.0M1631.4 1111.9V1128.6M1633.8 1119.0V1133.4M1636.2 1119.0V1131.0M1638.6 1104.7V1131.0M1641.0 1104.7V1133.4M1643.4 1107.1V1135.7M1645.8 1107.1V1142.9M1648.1 1119.0V1135.7M1650.5 1099.9V1131.0M1652.9 1099.9V1121.4M1655.3 1097.6V1114.3M1657.7 1107.1V1138.1M1660.1 1104.7V1133.4M1662.5 1097.6V1111.9M1664.8 1102.3V1111.9M1667.2 1092.8V1109.5M1669.6 1092.8V1126.2M1672.0 1116.6V1126.2M1674.4 1109.5V1126.2M1676.8 1099.9V1119.0M1679.1 1092.8V1114.3M1681.5 1078.5V1102.3M1683.9 1085.6V1102.3M1686.3 1092.8V1111.9M1688.7 1097.6V1111.9M1691.1 1099.9V1111.9M1693.5 1102.3V1123.8M1695.8 1107.1V1119.0M1698.2 1107.1V1121.4M1700.6 1116.6V1140.5M1703.0 1114.3V1140.5M1705.4 1114.3V1135.7M1707.8 1114.3V1133.4M1710.2 1111.9V1128.6M1712.5 1111.9V1131.0M1714.9 1111.9V1121.4M1717.3 1111.9V1140.5M1719.7 1111.9V1131.0M1722.1 1109.5V1131.0M1724.5 1116.6V1138.1M1726.8 1116.6V1140.5M1729.2 1119.0V1140.5M1731.6 1116.6V1131.0M1734.0 1114.3V1147.7M1736.4 1126.2V1147.7M1738.8 1135.7V1162.0M1741.2 1142.9V1162.0M1743.5 1133.4V1150.1M1745.9 1142.9V1164.4M1748.3 1142.9V1171.5M1750.7 1138.1V1157.2M1753.1 1135.7V1150.1M1755.5 1123.8V1150.1M1757.9 1140.5V1162.0M1760.2 1140.5V1157.2M1762.6 1138.1V1154.8M1765.0 1126.2V1142.9M1767.4 1126.2V1154.8M1769.8 1133.4V1178.7M1772.2 1133.4V1152.4M1774.5 1131.0V1164.4M1776.9 1135.7V1157.2M1779.3 1138.1V1157.2M1781.7 1133.4V1147.7M1784.1 1126.2V1147.7M1786.5 1126.2V1157.2M1788.9 1138.1V1150.1M1791.2 1135.7V1157.2M1793.6 1135.7V1150.1M1796.0 1142.9V1152.4M1798.4 1135.7V1154.8M1800.8 1135.7V1152.4M1803.2 1126.2V1152.4M1805.6 1121.4V1145.3M1807.9 1121.4V1140.5M1810.3 1121.4V1131.0M1812.7 1116.6V1135.7M1815.1 1107.1V1131.0M1817.5 1099.9V1123.8M1819.9 1099.9V1123.8M1822.2 1119.0V1135.7M1824.6 1107.1V1123.8M1827.0 1102.3V1119.0M1829.4 1107.1V1121.4M1831.8 1099.9V1126.2M1834.2 1102.3V1121.4M1836.6 1099.9V1111.9M1838.9 1104.7V1135.7M1841.3 1099.9V1111.9M1843.7 1099.9V1121.4M1846.1 1107.1V1131.0M1848.5 1116.6V1133.4M1850.9 1107.1V1121.4M1853.3 1109.5V1126.2M1855.6 1114.3V1126.2M1858.0 1109.5V1123.8M1860.4 1104.7V1133.4M1862.8 1123.8V1135.7M1865.2 1114.3V1135.7M1867.6 1114.3V1135.7M1869.9 1116.6V1133.4M1872.3 1116.6V1140.5M1874.7 1123.8V1140.5M1877.1 1114.3V1131.0M1879.5 1109.5V1135.7M1881.9 1107.1V1135.7M1884.3 1109.5V1135.7M1886.6 1104.7V1123.8M1889.0 1092.8V1123.8M1891.4 1090.4V1107.1M1893.8 1102.3V1111.9M1896.2 1088.0V1107.1M1898.6 1090.4V1114.3M1901.0 1083.2V1104.7M1903.3 1083.2V1116.6M1905.7 1092.8V1135.7M1908.1 1090.4V1109.5M1910.5 1090.4V1114.3M1912.9 1090.4V1114.3M1915.3 1092.8V1104.7M1917.6 1085.6V1114.3M1920.0 1109.5V1116.6M1922.4 1088.0V1116.6M1924.8 1088.0V1114.3M1927.2 1109.5V1119.0M1929.6 1097.6V1114.3M1932.0 1097.6V1114.3M1934.3 1102.3V1123.8M1936.7 1107.1V1126.2M1939.1 1114.3V1133.4M1941.5 1092.8V1123.8M1943.9 1092.8V1114.3M1946.3 1085.6V1109.5M1948.7 1085.6V1111.9M1951.0 1092.8V1114.3M1953.4 1095.2V1107.1M1955.8 1090.4V1109.5M1958.2 1090.4V1114.3M1960.6 1095.2V1104.7M1963.0 1085.6V1102.3M1965.3 1085.6V1109.5M1967.7 1073.7V1107.1M1970.1 1073.7V1099.9M1972.5 1083.2V1109.5M1974.9 1090.4V1109.5M1977.3 1076.1V1109.5M1979.7 1071.3V1090.4M1982.0 1071.3V1095.2M1984.4 1088.0V1107.1M1986.8 1073.7V1099.9M1989.2 1085.6V1109.5M1991.6 1064.2V1109.5M1994.0 1064.2V1088.0M1996.4 1073.7V1104.7M1998.7 1061.8V1095.2M2001.1 1061.8V1071.3M2003.5 1066.5V1080.9M2005.9 1076.1V1099.9M2008.3 1066.5V1088.0M2010.7 1083.2V1107.1M2013.0 1095.2V1107.1M2015.4 1095.2V1114.3M2017.8 1097.6V1114.3M2020.2 1102.3V1116.6M2022.6 1104.7V1121.4M2025.0 1107.1V1128.6M2027.4 1095.2V1123.8M2029.7 1111.9V1133.4M2032.1 1097.6V1133.4M2034.5 1097.6V1116.6M2036.9 1102.3V1121.4M2039.3 1116.6V1138.1M2041.7 1123.8V1140.5M2044.1 1116.6V1140.5M2046.4 1116.6V1142.9M2048.8 1114.3V1142.9M2051.2 1114.3V1145.3M2053.6 1111.9V1121.4M2056.0 1109.5V1121.4M2058.4 1104.7V1116.6M2060.7 1099.9V1111.9M2063.1 1102.3V1119.0M2065.5 1099.9V1111.9M2067.9 1090.4V1109.5M2070.3 1078.5V1104.7M2072.7 1095.2V1107.1M2075.1 1097.6V1114.3M2077.4 1097.6V1126.2M2079.8 1104.7V1123.8M2082.2 1104.7V1121.4M2084.6 1114.3V1128.6M2087.0 1111.9V1128.6M2089.4 1116.6V1135.7M2091.8 1116.6V1140.5M2094.1 1111.9V1140.5M2096.5 1121.4V1135.7M2098.9 1119.0V1135.7M2101.3 1119.0V1138.1M2103.7 1116.6V1131.0M2106.1 1116.6V1131.0M2108.4 1126.2V1140.5M2110.8 1104.7V1135.7M2113.2 1109.5V1128.6M2115.6 1109.5V1121.4M2118.0 1102.3V1116.6M2120.4 1097.6V1111.9M2122.8 1095.2V1111.9M2125.1 1107.1V1116.6M2127.5 1111.9V1128.6M2129.9 1092.8V1119.0M2132.3 1080.9V1102.3M2134.7 1092.8V1102.3M2137.1 1092.8V1104.7M2139.5 1080.9V1104.7M2141.8 1085.6V1107.1M2144.2 1085.6V1104.7M2146.6 1073.7V1104.7M2149.0 1073.7V1083.2M2151.4 1076.1V1095.2M2153.8 1080.9V1095.2M2156.1 1080.9V1095.2M2158.5 1076.1V1095.2M2160.9 1076.1V1097.6M2163.3 1076.1V1102.3M2165.7 1080.9V1102.3M2168.1 1080.9V1099.9M2170.5 1083.2V1099.9M2172.8 1085.6V1092.8M2175.2 1066.5V1092.8M2177.6 1066.5V1102.3M2180.0 1083.2V1107.1M2182.4 1088.0V1111.9M2184.8 1090.4V1111.9M2187.2 1097.6V1123.8M2189.5 1097.6V1123.8M2191.9 1090.4V1116.6M2194.3 1097.6V1119.0M2196.7 1102.3V1123.8M2199.1 1102.3V1116.6M2201.5 1099.9V1114.3M2203.8 1102.3V1119.0M2206.2 1097.6V1116.6M2208.6 1085.6V1111.9M2211.0 1085.6V1107.1M2213.4 1095.2V1114.3M2215.8 1095.2V1104.7M2218.2 1083.2V1102.3M2220.5 1078.5V1090.4M2222.9 1085.6V1099.9M2225.3 1085.6V1102.3M2227.7 1097.6V1109.5M2230.1 1097.6V1109.5M2232.5 1099.9V1123.8M2234.9 1111.9V1121.4M2237.2 1109.5V1121.4M2239.6 1114.3V1123.8M2242.0 1119.0V1135.7M2244.4 1111.9V1135.7M2246.8 1104.7V1131.0M2249.2 1104.7V1123.8M2251.5 1111.9V1126.2M2253.9 1119.0V1126.2M2256.3 1119.0V1128.6M2258.7 1102.3V1123.8M2261.1 1090.4V1111.9M2263.5 1088.0V1109.5M2265.9 1083.2V1109.5M2268.2 1085.6V1109.5M2270.6 1076.1V1109.5M2273.0 1071.3V1090.4M2275.4 1061.8V1090.4M2277.8 1052.2V1078.5M2280.2 1052.2V1066.5M2282.6 1059.4V1085.6M2284.9 1071.3V1085.6M2287.3 1080.9V1097.6M2289.7 1073.7V1085.6M2292.1 1076.1V1099.9M2294.5 1090.4V1099.9M2296.9 1061.8V1095.2M2299.2 1083.2V1092.8M2301.6 1071.3V1104.7M2304.0 1071.3V1088.0M2306.4 1076.1V1095.2M2308.8 1071.3V1097.6M2311.2 1071.3V1088.0"/>
<path stroke="#ffff00" d="M269.7 1556.1V1382.0M272.0 1369.6V1383.9M274.4 1362.4V1374.3M276.8 1357.6V1367.2M279.2 1343.3V1362.4M281.5 1333.8V1350.5M283.9 1314.7V1338.5M286.3 1312.3V1321.8M288.7 1307.5V1324.2M291.1 1307.5V1326.6M293.5 1302.8V1321.8M295.8 1302.8V1319.5M298.2 1307.5V1324.2M300.6 1298.0V1324.2M303.0 1305.1V1321.8M305.4 1298.0V1324.2M307.8 1298.0V1312.3M310.2 1290.8V1302.8M312.5 1290.8V1326.6M314.9 1302.8V1326.6M317.3 1288.4V1312.3M319.7 1288.4V1302.8M322.1 1286.1V1302.8M324.5 1281.3V1295.6M326.9 1281.3V1298.0M329.2 1281.3V1293.2M331.6 1269.4V1286.1M334.0 1247.9V1274.1M336.4 1250.3V1267.0M338.8 1250.3V1302.8M341.2 1264.6V1302.8M343.5 1259.8V1283.7M345.9 1259.8V1281.3M348.3 1276.5V1300.4M350.7 1267.0V1300.4M353.1 1267.0V1281.3M355.5 1267.0V1278.9M357.9 1247.9V1278.9M360.2 1247.9V1262.2M362.6 1255.0V1271.7M365.0 1257.4V1269.4M367.4 1257.4V1274.1M369.8 1240.7V1269.4M372.2 1219.2V1245.5M374.6 1209.7V1247.9M376.9 1233.6V1247.9M379.3 1231.2V1255.0M381.7 1231.2V1259.8M384.1 1250.3V1269.4M386.5 1252.7V1274.1M388.9 1262.2V1271.7M391.2 1262.2V1271.7M393.6 1264.6V1288.4M396.0 1264.6V1295.6M398.4 1262.2V1295.6M400.8 1252.7V1274.1M403.2 1259.8V1281.3M405.6 1264.6V1278.9M407.9 1264.6V1286.1M410.3 1250.3V1271.7M412.7 1257.4V1276.5M415.1 1250.3V1271.7M417.5 1250.3V1259.8M419.9 1252.7V1271.7M422.3 1245.5V1271.7M424.6 1245.5V1283.7M427.0 1255.0V1276.5M429.4 1264.6V1271.7M431.8 1240.7V1271.7M434.2 1250.3V1269.4M436.6 1255.0V1271.7M438.9 1252.7V1281.3M441.3 1276.5V1288.4M443.7 1269.4V1288.4M446.1 1262.2V1281.3M448.5 1262.2V1278.9M450.9 1267.0V1293.2M453.3 1259.8V1276.5M455.6 1257.4V1271.7M458.0 1267.0V1293.2M460.4 1264.6V1286.1M462.8 1276.5V1290.8M465.2 1271.7V1293.2M467.6 1269.4V1276.5M470.0 1252.7V1276.5M472.3 1252.7V1271.7M474.7 1262.2V1276.5M477.1 1247.9V1276.5M479.5 1259.8V1274.1M481.9 1255.0V1281.3M484.3 1259.8V1281.3M486.6 1259.8V1281.3M489.0 1259.8V1274.1M491.4 1262.2V1274.1M493.8 1259.8V1271.7M496.2 1259.8V1276.5M498.6 1247.9V1271.7M501.0 1235.9V1257.4M503.3 1235.9V1250.3M505.7 1245.5V1267.0M508.1 1247.9V1262.2M510.5 1247.9V1259.8M512.9 1247.9V1264.6M515.3 1250.3V1269.4M517.7 1250.3V1264.6M520.0 1243.1V1259.8M522.4 1243.1V1257.4M524.8 1245.5V1259.8M527.2 1243.1V1257.4M529.6 1235.9V1255.0M532.0 1226.4V1247.9M534.3 1240.7V1269.4M536.7 1238.3V1269.4M539.1 1235.9V1245.5M541.5 1235.9V1247.9M543.9 1231.2V1240.7M546.3 1228.8V1240.7M548.7 1228.8V1247.9M551.0 1228.8V1243.1M553.4 1221.6V1243.1M555.8 1219.2V1231.2M558.2 1209.7V1231.2M560.6 1221.6V1240.7M563.0 1214.5V1240.7M565.4 1214.5V1247.9M567.7 1216.9V1245.5M570.1 1212.1V1226.4M572.5 1212.1V1231.2M574.9 1219.2V1235.9M577.3 1207.3V1226.4M579.7 1209.7V1228.8M582.0 1212.1V1228.8M584.4 1221.6V1240.7M586.8 1219.2V1238.3M589.2 1214.5V1243.1M591.6 1216.9V1243.1M594.0 1221.6V1235.9M596.4 1216.9V1243.1M598.7 1219.2V1238.3M601.1 1216.9V1233.6M603.5 1216.9V1228.8M605.9 1219.2V1231.2M608.3 1219.2V1238.3M610.7 1221.6V1238.3M613.1 1214.5V1235.9M615.4 1219.2V1238.3M617.8 1214.5V1238.3M620.2 1214.5V1235.9M622.6 1221.6V1235.9M625.0 1214.5V1238.3M627.4 1209.7V1240.7M629.7 1209.7V1228.8M632.1 1216.9V1235.9M634.5 1221.6V1235.9M636.9 1224.0V1235.9M639.3 1226.4V1245.5M641.7 1226.4V1255.0M644.1 1224.0V1250.3M646.4 1226.4V1247.9M648.8 1224.0V1243.1M651.2 1238.3V1257.4M653.6 1238.3V1252.7M656.0 1243.1V1257.4M658.4 1219.2V1257.4M660.8 1221.6V1250.3M663.1 1233.6V1250.3M665.5 1235.9V1245.5M667.9 1240.7V1264.6M670.3 1247.9V1264.6M672.7 1238.3V1259.8M675.1 1238.3V1264.6M677.4 1252.7V1262.2M679.8 1240.7V1259.8M682.2 1247.9V1264.6M684.6 1243.1V1267.0M687.0 1245.5V1274.1M689.4 1238.3V1255.0M691.8 1235.9V1257.4M694.1 1235.9V1257.4M696.5 1235.9V1255.0M698.9 1243.1V1264.6M701.3 1240.7V1264.6M703.7 1228.8V1247.9M706.1 1228.8V1257.4M708.5 1235.9V1252.7M710.8 1221.6V1243.1M713.2 1233.6V1250.3M715.6 1228.8V1250.3M718.0 1224.0V1240.7M720.4 1216.9V1238.3M722.8 1209.7V1224.0M725.1 1216.9V1224.0M727.5 1216.9V1243.1M729.9 1221.6V1250.3M732.3 1233.6V1252.7M734.7 1226.4V1247.9M737.1 1231.2V1255.0M739.5 1231.2V1255.0M741.8 1216.9V1245.5M744.2 1216.9V1238.3M746.6 1224.0V1243.1M749.0 1219.2V1235.9M751.4 1231.2V1259.8M753.8 1243.1V1259.8M756.2 1240.7V1255.0M758.5 1240.7V1252.7M760.9 1247.9V1259.8M763.3 1240.7V1259.8M765.7 1240.7V1252.7M768.1 1240.7V1271.7M770.5 1245.5V1269.4M772.8 1245.5V1255.0M775.2 1245.5V1267.0M777.6 1250.3V1267.0M780.0 1250.3V1269.4M782.4 1259.8V1278.9M784.8 1247.9V1269.4M787.2 1240.7V1269.4M789.5 1240.7V1262.2M791.9 1235.9V1257.4M794.3 1245.5V1267.0M796.7 1235.9V1255.0M799.1 1235.9V1255.0M801.5 1235.9V1252.7M803.9 1221.6V1252.7M806.2 1221.6V1245.5M808.6 1231.2V1250.3M811.0 1228.8V1245.5M813.4 1224.0V1245.5M815.8 1228.8V1238.3M818.2 1224.0V1240.7M820.5 1214.5V1235.9M822.9 1216.9V1235.9M825.3 1209.7V1233.6M827.7 1209.7V1224.0M830.1 1214.5V1228.8M832.5 1219.2V1226.4M834.9 1207.3V1226.4M837.2 1204.9V1226.4M839.6 1202.5V1228.8M842.0 1202.5V1219.2M844.4 1209.7V1226.4M846.8 1209.7V1224.0M849.2 1200.2V1221.6M851.6 1200.2V1238.3M853.9 1212.1V1228.8M856.3 1197.8V1216.9M858.7 1209.7V1224.0M861.1 1219.2V1224.0M863.5 1207.3V1228.8M865.9 1207.3V1224.0M868.2 1209.7V1221.6M870.6 1212.1V1235.9M873.0 1216.9V1235.9M875.4 1214.5V1235.9M877.8 1207.3V1219.2M880.2 1212.1V1233.6M882.6 1214.5V1233.6M884.9 1204.9V1221.6M887.3 1212.1V1228.8M889.7 1212.1V1235.9M892.1 1224.0V1238.3M894.5 1219.2V1228.8M896.9 1216.9V1235.9M899.3 1195.4V1235.9M901.6 1200.2V1209.7M904.0 1193.0V1207.3M906.4 1193.0V1216.9M908.8 1190.6V1204.9M911.2 1183.5V1200.2M913.6 1188.2V1200.2M915.9 1188.2V1216.9M918.3 1195.4V1207.3M920.7 1193.0V1207.3M923.1 1190.6V1200.2M925.5 1195.4V1216.9M927.9 1197.8V1212.1M930.3 1188.2V1214.5M932.6 1185.8V1197.8M935.0 1193.0V1214.5M937.4 1173.9V1197.8M939.8 1178.7V1197.8M942.2 1176.3V1204.9M944.6 1173.9V1202.5M947.0 1190.6V1224.0M949.3 1176.3V1209.7M951.7 1185.8V1212.1M954.1 1195.4V1214.5M956.5 1200.2V1221.6M958.9 1200.2V1221.6M961.3 1207.3V1221.6M963.6 1207.3V1224.0M966.0 1207.3V1224.0M968.4 1209.7V1226.4M970.8 1207.3V1226.4M973.2 1209.7V1219.2M975.6 1188.2V1219.2M978.0 1188.2V1219.2M980.3 1202.5V1219.2M982.7 1200.2V1219.2M985.1 1195.4V1221.6M987.5 1212.1V1224.0M989.9 1212.1V1231.2M992.3 1221.6V1235.9M994.7 1207.3V1228.8M997.0 1204.9V1214.5M999.4 1202.5V1214.5M1001.8 1200.2V1214.5M1004.2 1185.8V1204.9M1006.6 1181.1V1200.2M1009.0 1185.8V1200.2M1011.3 1178.7V1197.8M1013.7 1190.6V1207.3M1016.1 1197.8V1212.1M1018.5 1200.2V1214.5M1020.9 1204.9V1221.6M1023.3 1216.9V1243.1M1025.7 1231.2V1245.5M1028.0 1214.5V1259.8M1030.4 1214.5V1238.3M1032.8 1219.2V1238.3M1035.2 1216.9V1238.3M1037.6 1212.1V1221.6M1040.0 1193.0V1219.2M1042.4 1193.0V1207.3M1044.7 1195.4V1219.2M1047.1 1190.6V1219.2M1049.5 1185.8V1202.5M1051.9 1178.7V1202.5M1054.3 1190.6V1200.2M1056.7 1178.7V1200.2M1059.0 1178.7V1202.5M1061.4 1183.5V1202.5M1063.8 1176.3V1197.8M1066.2 1176.3V1190.6M1068.6 1185.8V1202.5M1071.0 1183.5V1204.9M1073.4 1193.0V1214.5M1075.7 1195.4V1214.5M1078.1 1193.0V1207.3M1080.5 1193.0V1200.2M1082.9 1193.0V1207.3M1085.3 1193.0V1228.8M1087.7 1204.9V1228.8M1090.1 1207.3V1214.5M1092.4 1204.9V1219.2M1094.8 1193.0V1219.2M1097.2 1204.9V1224.0M1099.6 1216.9V1233.6M1102.0 1212.1V1233.6M1104.4 1204.9V1221.6M1106.7 1204.9V1221.6M1109.1 1202.5V1216.9M1111.5 1204.9V1228.8M1113.9 1214.5V1228.8M1116.3 1197.8V1235.9M1118.7 1197.8V1216.9M1121.1 1197.8V1219.2M1123.4 1193.0V1209.7M1125.8 1202.5V1214.5M1128.2 1200.2V1214.5M1130.6 1200.2V1209.7M1133.0 1202.5V1212.1M1135.4 1188.2V1207.3M1137.8 1188.2V1219.2M1140.1 1195.4V1221.6M1142.5 1202.5V1219.2M1144.9 1200.2V1214.5M1147.3 1195.4V1214.5M1149.7 1195.4V1204.9M1152.1 1200.2V1219.2M1154.4 1212.1V1226.4M1156.8 1207.3V1226.4M1159.2 1200.2V1228.8M1161.6 1207.3V1221.6M1164.0 1207.3V1228.8M1166.4 1204.9V1231.2M1168.8 1204.9V1231.2M1171.1 1212.1V1228.8M1173.5 1216.9V1231.2M1175.9 1212.1V1221.6M1178.3 1207.3V1231.2M1180.7 1207.3V1224.0M1183.1 1204.9V1216.9M1185.5 1204.9V1226.4M1187.8 1214.5V1226.4M1190.2 1221.6V1235.9M1192.6 1219.2V1235.9M1195.0 1214.5V1228.8M1197.4 1212.1V1228.8M1199.8 1212.1V1238.3M1202.1 1214.5V1226.4M1204.5 1212.1V1224.0M1206.9 1209.7V1224.0M1209.3 1209.7V1224.0M1211.7 1207.3V1226.4M1214.1 1207.3V1226.4M1216.5 1221.6V1235.9M1218.8 1202.5V1238.3M1221.2 1202.5V1235.9M1223.6 1214.5V1228.8M1226.0 1219.2V1243.1M1228.4 1219.2V1233.6M1230.8 1204.9V1224.0M1233.2 1200.2V1221.6M1235.5 1212.1V1226.4M1237.9 1212.1V1228.8M1240.3 1207.3V1221.6M1242.7 1200.2V1212.1M1245.1 1197.8V1209.7M1247.5 1188.2V1209.7M1249.8 1200.2V1214.5M1252.2 1195.4V1209.7M1254.6 1181.1V1204.9M1257.0 1190.6V1212.1M1259.4 1188.2V1200.2M1261.8 1188.2V1214.5M1264.2 1200.2V1214.5M1266.5 1181.1V1214.5M1268.9 1181.1V1202.5M1271.3 1185.8V1216.9M1273.7 1195.4V1216.9M1276.1 1171.5V1200.2M1278.5 1171.5V1195.4M1280.9 1185.8V1197.8M1283.2 1178.7V1200.2M1285.6 1185.8V1200.2M1288.0 1183.5V1200.2M1290.4 1185.8V1207.3M1292.8 1193.0V1212.1M1295.2 1193.0V1209.7M1297.5 1202.5V1214.5M1299.9 1197.8V1214.5M1302.3 1188.2V1209.7M1304.7 1181.1V1193.0M1307.1 1176.3V1202.5M1309.5 1178.7V1195.4M1311.9 1178.7V1190.6M1314.2 1181.1V1195.4M1316.6 1181.1V1209.7M1319.0 1183.5V1204.9M1321.4 1171.5V1193.0M1323.8 1178.7V1197.8M1326.2 1178.7V1200.2M1328.6 1181.1V1200.2M1330.9 1185.8V1200.2M1333.3 1176.3V1204.9M1335.7 1178.7V1204.9M1338.1 1178.7V1212.1M1340.5 1190.6V1212.1M1342.9 1200.2V1224.0M1345.2 1209.7V1219.2M1347.6 1197.8V1214.5M1350.0 1193.0V1207.3M1352.4 1183.5V1197.8M1354.8 1173.9V1195.4M1357.2 1166.8V1185.8M1359.6 1166.8V1185.8M1361.9 1181.1V1200.2M1364.3 1171.5V1200.2M1366.7 1171.5V1207.3M1369.1 1190.6V1207.3M1371.5 1183.5V1207.3M1373.9 1190.6V1209.7M1376.3 1197.8V1209.7M1378.6 1200.2V1221.6M1381.0 1193.0V1209.7M1383.4 1197.8V1224.0M1385.8 1178.7V1204.9M1388.2 1178.7V1200.2M1390.6 1173.9V1193.0M1392.9 1173.9V1185.8M1395.3 1173.9V1197.8M1397.7 1162.0V1197.8M1400.1 1166.8V1176.3M1402.5 1166.8V1188.2M1404.9 1176.3V1197.8M1407.3 1169.1V1188.2M1409.6 1178.7V1200.2M1412.0 1178.7V1193.0M1414.4 1173.9V1200.2M1416.8 1166.8V1200.2M1419.2 1166.8V1193.0M1421.6 1178.7V1200.2M1424.0 1181.1V1204.9M1426.3 1195.4V1204.9M1428.7 1188.2V1200.2M1431.1 1178.7V1195.4M1433.5 1183.5V1195.4M1435.9 1185.8V1207.3M1438.3 1188.2V1207.3M1440.6 1193.0V1207.3M1443.0 1190.6V1202.5M1445.4 1193.0V1216.9M1447.8 1207.3V1221.6M1450.2 1202.5V1221.6M1452.6 1204.9V1219.2M1455.0 1195.4V1219.2M1457.3 1195.4V1207.3M1459.7 1197.8V1214.5M1462.1 1185.8V1202.5M1464.5 1185.8V1209.7M1466.9 1193.0V1202.5M1469.3 1185.8V1197.8M1471.7 1190.6V1212.1M1474.0 1188.2V1202.5M1476.4 1173.9V1200.2M1478.8 1185.8V1195.4M1481.2 1190.6V1209.7M1483.6 1185.8V1202.5M1486.0 1183.5V1200.2M1488.3 1176.3V1193.0M1490.7 1162.0V1181.1M1493.1 1173.9V1204.9M1495.5 1190.6V1202.5M1497.9 1190.6V1209.7M1500.3 1183.5V1214.5M1502.7 1183.5V1204.9M1505.0 1200.2V1216.9M1507.4 1188.2V1207.3M1509.8 1188.2V1200.2M1512.2 1183.5V1204.9M1514.6 1197.8V1216.9M1517.0 1181.1V1216.9M1519.4 1200.2V1221.6M1521.7 1200.2V1226.4M1524.1 1216.9V1226.4M1526.5 1204.9V1221.6M1528.9 1197.8V1214.5M1531.3 1193.0V1207.3M1533.7 1183.5V1204.9M1536.0 1176.3V1193.0M1538.4 1169.1V1188.2M1540.8 1166.8V1188.2M1543.2 1166.8V1183.5M1545.6 1166.8V1183.5M1548.0 1162.0V1181.1M1550.4 1169.1V1181.1M1552.7 1169.1V1185.8M1555.1 1181.1V1195.4M1557.5 1188.2V1202.5M1559.9 1185.8V1209.7M1562.3 1183.5V1214.5M1564.7 1188.2V1214.5M1567.1 1176.3V1204.9M1569.4 1176.3V1204.9M1571.8 1176.3V1204.9M1574.2 1181.1V1195.4M1576.6 1181.1V1197.8M1579.0 1190.6V1204.9M1581.4 1188.2V1200.2M1583.7 1185.8V1204.9M1586.1 1181.1V1204.9M1588.5 1181.1V1190.6M1590.9 1176.3V1202.5M1593.3 1176.3V1190.6M1595.7 1183.5V1204.9M1598.1 1183.5V1204.9M1600.4 1183.5V1197.8M1602.8 1173.9V1197.8M1605.2 1159.6V1185.8M1607.6 1171.5V1188.2M1610.0 1176.3V1200.2M1612.4 1176.3V1195.4M1614.8 1166.8V1195.4M1617.1 1166.8V1181.1M1619.5 1169.1V1195.4M1621.9 1178.7V1200.2M1624.3 1166.8V1185.8M1626.7 1164.4V1204.9M1629.1 1157.2V1173.9M1631.4 1162.0V1176.3M1633.8 1169.1V1188.2M1636.2 1171.5V1178.7M1638.6 1162.0V1185.8M1641.0 1171.5V1195.4M1643.4 1176.3V1195.4M1645.8 1176.3V1190.6M1648.1 1173.9V1185.8M1650.5 1169.1V1188.2M1652.9 1173.9V1193.0M1655.3 1166.8V1193.0M1657.7 1162.0V1176.3M1660.1 1169.1V1183.5M1662.5 1169.1V1195.4M1664.8 1178.7V1200.2M1667.2 1185.8V1204.9M1669.6 1193.0V1204.9M1672.0 1181.1V1202.5M1674.4 1176.3V1188.2M1676.8 1178.7V1190.6M1679.1 1169.1V1190.6M1681.5 1169.1V1190.6M1683.9 1178.7V1207.3M1686.3 1185.8V1207.3M1688.7 1185.8V1197.8M1691.1 1185.8V1209.7M1693.5 1200.2V1209.7M1695.8 1181.1V1209.7M1698.2 1193.0V1207.3M1700.6 1173.9V1212.1M1703.0 1193.0V1212.1M1705.4 1188.2V1204.9M1707.8 1193.0V1212.1M1710.2 1204.9V1228.8M1712.5 1200.2V1228.8M1714.9 1193.0V1207.3M1717.3 1197.8V1228.8M1719.7 1193.0V1228.8M1722.1 1193.0V1212.1M1724.5 1200.2V1214.5M1726.8 1183.5V1204.9M1729.2 1190.6V1214.5M1731.6 1183.5V1214.5M1734.0 1183.5V1197.8M1736.4 1185.8V1200.2M1738.8 1190.6V1202.5M1741.2 1190.6V1207.3M1743.5 1195.4V1204.9M1745.9 1176.3V1202.5M1748.3 1176.3V1202.5M1750.7 1173.9V1197.8M1753.1 1166.8V1178.7M1755.5 1154.8V1178.7M1757.9 1147.7V1162.0M1760.2 1142.9V1166.8M1762.6 1162.0V1171.5M1765.0 1164.4V1185.8M1767.4 1164.4V1185.8M1769.8 1171.5V1190.6M1772.2 1178.7V1207.3M1774.5 1181.1V1202.5M1776.9 1181.1V1207.3M1779.3 1181.1V1204.9M1781.7 1173.9V1197.8M1784.1 1188.2V1207.3M1786.5 1188.2V1207.3M1788.9 1195.4V1214.5M1791.2 1193.0V1216.9M1793.6 1202.5V1216.9M1796.0 1193.0V1216.9M1798.4 1188.2V1202.5M1800.8 1185.8V1202.5M1803.2 1178.7V1207.3M1805.6 1193.0V1226.4M1807.9 1197.8V1212.1M1810.3 1195.4V1209.7M1812.7 1190.6V1202.5M1815.1 1178.7V1202.5M1817.5 1169.1V1185.8M1819.9 1169.1V1178.7M1822.2 1169.1V1181.1M1824.6 1169.1V1181.1M1827.0 1147.7V1176.3M1829.4 1147.7V1166.8M1831.8 1152.4V1171.5M1834.2 1164.4V1181.1M1836.6 1169.1V1195.4M1838.9 1169.1V1190.6M1841.3 1173.9V1188.2M1843.7 1173.9V1190.6M1846.1 1164.4V1190.6M1848.5 1164.4V1181.1M1850.9 1162.0V1176.3M1853.3 1171.5V1195.4M1855.6 1181.1V1195.4M1858.0 1169.1V1190.6M1860.4 1176.3V1195.4M1862.8 1171.5V1195.4M1865.2 1183.5V1200.2M1867.6 1188.2V1207.3M1869.9 1200.2V1212.1M1872.3 1197.8V1209.7M1874.7 1193.0V1214.5M1877.1 1193.0V1214.5M1879.5 1185.8V1209.7M1881.9 1169.1V1197.8M1884.3 1173.9V1195.4M1886.6 1164.4V1195.4M1889.0 1162.0V1185.8M1891.4 1176.3V1188.2M1893.8 1176.3V1190.6M1896.2 1178.7V1212.1M1898.6 1171.5V1202.5M1901.0 1169.1V1190.6M1903.3 1176.3V1190.6M1905.7 1176.3V1185.8M1908.1 1162.0V1185.8M1910.5 1162.0V1178.7M1912.9 1159.6V1181.1M1915.3 1176.3V1195.4M1917.6 1185.8V1202.5M1920.0 1188.2V1200.2M1922.4 1181.1V1202.5M1924.8 1181.1V1204.9M1927.2 1176.3V1204.9M1929.6 1178.7V1197.8M1932.0 1181.1V1200.2M1934.3 1178.7V1188.2M1936.7 1183.5V1214.5M1939.1 1188.2V1204.9M1941.5 1176.3V1195.4M1943.9 1181.1V1190.6M1946.3 1166.8V1190.6M1948.7 1173.9V1185.8M1951.0 1171.5V1188.2M1953.4 1176.3V1190.6M1955.8 1166.8V1190.6M1958.2 1169.1V1190.6M1960.6 1173.9V1188.2M1963.0 1166.8V1188.2M1965.3 1162.0V1185.8M1967.7 1162.0V1178.7M1970.1 1171.5V1183.5M1972.5 1150.1V1183.5M1974.9 1150.1V1173.9M1977.3 1162.0V1181.1M1979.7 1152.4V1169.1M1982.0 1138.1V1169.1M1984.4 1142.9V1176.3M1986.8 1152.4V1176.3M1989.2 1152.4V1173.9M1991.6 1159.6V1178.7M1994.0 1157.2V1178.7M1996.4 1157.2V1181.1M1998.7 1166.8V1181.1M2001.1 1171.5V1188.2M2003.5 1176.3V1197.8M2005.9 1159.6V1183.5M2008.3 1178.7V1193.0M2010.7 1162.0V1195.4M2013.0 1166.8V1183.5M2015.4 1166.8V1204.9M2017.8 1188.2V1204.9M2020.2 1185.8V1200.2M2022.6 1185.8V1197.8M2025.0 1178.7V1202.5M2027.4 1185.8V1207.3M2029.7 1190.6V1207.3M2032.1 1197.8V1212.1M2034.5 1162.0V1204.9M2036.9 1145.3V1169.1M2039.3 1164.4V1188.2M2041.7 1159.6V1188.2M2044.1 1164.4V1183.5M2046.4 1164.4V1183.5M2048.8 1166.8V1181.1M2051.2 1157.2V1183.5M2053.6 1176.3V1188.2M2056.0 1157.2V1181.1M2058.4 1159.6V1178.7M2060.7 1157.2V1178.7M2063.1 1152.4V1171.5M2065.5 1135.7V1159.6M2067.9 1154.8V1173.9M2070.3 1152.4V1166.8M2072.7 1147.7V1164.4M2075.1 1154.8V1162.0M2077.4 1157.2V1164.4M2079.8 1142.9V1164.4M2082.2 1135.7V1150.1M2084.6 1133.4V1150.1M2087.0 1131.0V1150.1M2089.4 1142.9V1157.2M2091.8 1142.9V1159.6M2094.1 1140.5V1159.6M2096.5 1140.5V1159.6M2098.9 1150.1V1169.1M2101.3 1152.4V1169.1M2103.7 1147.7V1166.8M2106.1 1142.9V1159.6M2108.4 1133.4V1159.6M2110.8 1133.4V1152.4M2113.2 1142.9V1159.6M2115.6 1133.4V1157.2M2118.0 1135.7V1159.6M2120.4 1138.1V1164.4M2122.8 1135.7V1147.7M2125.1 1128.6V1147.7M2127.5 1128.6V1152.4M2129.9 1138.1V1157.2M2132.3 1126.2V1162.0M2134.7 1154.8V1169.1M2137.1 1154.8V1171.5M2139.5 1162.0V1173.9M2141.8 1166.8V1183.5M2144.2 1178.7V1193.0M2146.6 1173.9V1188.2M2149.0 1162.0V1178.7M2151.4 1150.1V1176.3M2153.8 1150.1V1181.1M2156.1 1164.4V1181.1M2158.5 1154.8V1178.7M2160.9 1162.0V1178.7M2163.3 1157.2V1176.3M2165.7 1152.4V1164.4M2168.1 1147.7V1164.4M2170.5 1123.8V1152.4M2172.8 1123.8V1150.1M2175.2 1142.9V1162.0M2177.6 1138.1V1152.4M2180.0 1131.0V1162.0M2182.4 1150.1V1166.8M2184.8 1154.8V1169.1M2187.2 1159.6V1178.7M2189.5 1142.9V1166.8M2191.9 1142.9V1169.1M2194.3 1152.4V1169.1M2196.7 1152.4V1169.1M2199.1 1154.8V1166.8M2201.5 1159.6V1171.5M2203.8 1154.8V1173.9M2206.2 1142.9V1173.9M2208.6 1135.7V1152.4M2211.0 1138.1V1159.6M2213.4 1145.3V1162.0M2215.8 1138.1V1162.0M2218.2 1142.9V1162.0M2220.5 1150.1V1159.6M2222.9 1133.4V1169.1M2225.3 1140.5V1169.1M2227.7 1150.1V1162.0M2230.1 1133.4V1154.8M2232.5 1133.4V1150.1M2234.9 1133.4V1150.1M2237.2 1126.2V1150.1M2239.6 1126.2V1154.8M2242.0 1135.7V1145.3M2244.4 1135.7V1154.8M2246.8 1133.4V1140.5M2249.2 1133.4V1145.3M2251.5 1131.0V1147.7M2253.9 1135.7V1154.8M2256.3 1145.3V1164.4M2258.7 1142.9V1164.4M2261.1 1145.3V1162.0M2263.5 1145.3V1166.8M2265.9 1150.1V1166.8M2268.2 1154.8V1173.9M2270.6 1154.8V1173.9M2273.0 1159.6V1183.5M2275.4 1140.5V1164.4M2277.8 1147.7V1176.3M2280.2 1152.4V1176.3M2282.6 1145.3V1159.6M2284.9 1152.4V1171.5M2287.3 1150.1V1157.2M2289.7 1150.1V1171.5M2292.1 1135.7V1164.4M2294.5 1135.7V1171.5M2296.9 1150.1V1162.0M2299.2 1154.8V1162.0M2301.6 1145.3V1162.0M2304.0 1145.3V1152.4M2306.4 1147.7V1173.9M2308.8 1145.3V1166.8M2311.2 1159.6V1171.5"/>
<path stroke="#ff00ff" d="M269.7 1556.1V1382.0M272.0 1369.6V1383.9M274.4 1360.0V1374.3M276.8 1350.5V1367.2M279.2 1345.7V1355.2M281.5 1343.3V1352.9M283.9 1331.4V1348.1M286.3 1331.4V1340.9M288.7 1329.0V1340.9M291.1 1321.8V1338.5M293.5 1314.7V1333.8M295.8 1309.9V1343.3M298.2 1302.8V1329.0M300.6 1309.9V1317.1M303.0 1312.3V1329.0M305.4 1302.8V1329.0M307.8 1295.6V1317.1M310.2 1295.6V1314.7M312.5 1298.0V1319.5M314.9 1298.0V1317.1M317.3 1288.4V1305.1M319.7 1281.3V1293.2M322.1 1267.0V1293.2M324.5 1267.0V1298.0M326.9 1281.3V1302.8M329.2 1278.9V1302.8M331.6 1264.6V1295.6M334.0 1269.4V1290.8M336.4 1274.1V1286.1M338.8 1262.2V1286.1M341.2 1269.4V1286.1M343.5 1252.7V1286.1M345.9 1259.8V1271.7M348.3 1255.0V1264.6M350.7 1255.0V1276.5M353.1 1255.0V1281.3M355.5 1255.0V1278.9M357.9 1262.2V1276.5M360.2 1257.4V1276.5M362.6 1264.6V1283.7M365.0 1271.7V1278.9M367.4 1255.0V1278.9M369.8 1271.7V1281.3M372.2 1250.3V1276.5M374.6 1250.3V1276.5M376.9 1247.9V1276.5M379.3 1255.0V1264.6M381.7 1252.7V1264.6M384.1 1245.5V1267.0M386.5 1250.3V1264.6M388.9 1247.9V1264.6M391.2 1245.5V1267.0M393.6 1238.3V1255.0M396.0 1238.3V1250.3M398.4 1245.5V1267.0M400.8 1245.5V1257.4M403.2 1245.5V1264.6M405.6 1250.3V1262.2M407.9 1238.3V1262.2M410.3 1235.9V1250.3M412.7 1245.5V1257.4M415.1 1235.9V1264.6M417.5 1255.0V1276.5M419.9 1240.7V1264.6M422.3 1226.4V1245.5M424.6 1228.8V1238.3M427.0 1219.2V1247.9M429.4 1214.5V1233.6M431.8 1214.5V1247.9M434.2 1214.5V1247.9M436.6 1243.1V1267.0M438.9 1235.9V1250.3M441.3 1235.9V1252.7M443.7 1233.6V1255.0M446.1 1233.6V1257.4M448.5 1231.2V1250.3M450.9 1228.8V1255.0M453.3 1238.3V1255.0M455.6 1240.7V1255.0M458.0 1235.9V1252.7M460.4 1243.1V1255.0M462.8 1224.0V1255.0M465.2 1224.0V1247.9M467.6 1226.4V1243.1M470.0 1224.0V1243.1M472.3 1224.0V1238.3M474.7 1216.9V1238.3M477.1 1224.0V1238.3M479.5 1214.5V1238.3M481.9 1226.4V1250.3M484.3 1231.2V1250.3M486.6 1224.0V1245.5M489.0 1231.2V1238.3M491.4 1233.6V1250.3M493.8 1240.7V1252.7M496.2 1224.0V1250.3M498.6 1245.5V1259.8M501.0 1221.6V1255.0M503.3 1221.6V1252.7M505.7 1235.9V1255.0M508.1 1243.1V1257.4M510.5 1243.1V1252.7M512.9 1233.6V1257.4M515.3 1233.6V1269.4M517.7 1240.7V1257.4M520.0 1238.3V1257.4M522.4 1238.3V1255.0M524.8 1235.9V1255.0M527.2 1231.2V1250.3M529.6 1240.7V1267.0M532.0 1235.9V1252.7M534.3 1243.1V1255.0M536.7 1247.9V1269.4M539.1 1233.6V1264.6M541.5 1228.8V1243.1M543.9 1228.8V1245.5M546.3 1231.2V1243.1M548.7 1231.2V1243.1M551.0 1228.8V1243.1M553.4 1231.2V1252.7M555.8 1233.6V1252.7M558.2 1238.3V1257.4M560.6 1240.7V1257.4M563.0 1243.1V1262.2M565.4 1243.1V1257.4M567.7 1243.1V1264.6M570.1 1243.1V1259.8M572.5 1243.1V1259.8M574.9 1235.9V1267.0M577.3 1257.4V1267.0M579.7 1235.9V1267.0M582.0 1235.9V1271.7M584.4 1247.9V1271.7M586.8 1243.1V1264.6M589.2 1233.6V1250.3M591.6 1238.3V1250.3M594.0 1228.8V1250.3M596.4 1221.6V1245.5M598.7 1221.6V1245.5M601.1 1240.7V1252.7M603.5 1226.4V1252.7M605.9 1209.7V1231.2M608.3 1209.7V1238.3M610.7 1231.2V1247.9M613.1 1231.2V1243.1M615.4 1219.2V1238.3M617.8 1226.4V1243.1M620.2 1228.8V1250.3M622.6 1224.0V1235.9M625.0 1224.0V1240.7M627.4 1228.8V1240.7M629.7 1228.8V1240.7M632.1 1228.8V1245.5M634.5 1235.9V1245.5M636.9 1235.9V1250.3M639.3 1226.4V1247.9M641.7 1226.4V1235.9M644.1 1224.0V1235.9M646.4 1224.0V1238.3M648.8 1224.0V1240.7M651.2 1224.0V1250.3M653.6 1228.8V1250.3M656.0 1224.0V1240.7M658.4 1226.4V1240.7M660.8 1224.0V1233.6M663.1 1221.6V1238.3M665.5 1221.6V1243.1M667.9 1216.9V1238.3M670.3 1214.5V1231.2M672.7 1214.5V1228.8M675.1 1221.6V1228.8M677.4 1216.9V1228.8M679.8 1221.6V1235.9M682.2 1221.6V1235.9M684.6 1216.9V1238.3M687.0 1216.9V1235.9M689.4 1221.6V1233.6M691.8 1202.5V1233.6M694.1 1207.3V1219.2M696.5 1214.5V1224.0M698.9 1216.9V1224.0M701.3 1214.5V1233.6M703.7 1216.9V1235.9M706.1 1207.3V1233.6M708.5 1207.3V1221.6M710.8 1216.9V1235.9M713.2 1216.9V1226.4M715.6 1202.5V1226.4M718.0 1190.6V1216.9M720.4 1190.6V1224.0M722.8 1204.9V1219.2M725.1 1193.0V1216.9M727.5 1193.0V1216.9M729.9 1197.8V1226.4M732.3 1202.5V1226.4M734.7 1207.3V1226.4M737.1 1214.5V1233.6M739.5 1209.7V1224.0M741.8 1212.1V1228.8M744.2 1207.3V1226.4M746.6 1207.3V1231.2M749.0 1219.2V1231.2M751.4 1224.0V1245.5M753.8 1221.6V1259.8M756.2 1233.6V1245.5M758.5 1235.9V1247.9M760.9 1228.8V1247.9M763.3 1224.0V1250.3M765.7 1224.0V1250.3M768.1 1228.8V1240.7M770.5 1221.6V1240.7M772.8 1228.8V1245.5M775.2 1231.2V1245.5M777.6 1226.4V1240.7M780.0 1228.8V1243.1M782.4 1221.6V1240.7M784.8 1214.5V1243.1M787.2 1221.6V1245.5M789.5 1235.9V1250.3M791.9 1240.7V1250.3M794.3 1240.7V1255.0M796.7 1243.1V1252.7M799.1 1221.6V1252.7M801.5 1226.4V1250.3M803.9 1233.6V1247.9M806.2 1226.4V1243.1M808.6 1238.3V1255.0M811.0 1235.9V1255.0M813.4 1226.4V1250.3M815.8 1226.4V1243.1M818.2 1228.8V1257.4M820.5 1224.0V1245.5M822.9 1216.9V1235.9M825.3 1228.8V1240.7M827.7 1214.5V1240.7M830.1 1214.5V1233.6M832.5 1216.9V1250.3M834.9 1221.6V1235.9M837.2 1219.2V1231.2M839.6 1219.2V1245.5M842.0 1214.5V1228.8M844.4 1216.9V1250.3M846.8 1235.9V1250.3M849.2 1228.8V1255.0M851.6 1228.8V1240.7M853.9 1235.9V1259.8M856.3 1226.4V1240.7M858.7 1224.0V1240.7M861.1 1228.8V1255.0M863.5 1224.0V1245.5M865.9 1224.0V1243.1M868.2 1233.6V1243.1M870.6 1214.5V1243.1M873.0 1214.5V1245.5M875.4 1228.8V1240.7M877.8 1219.2V1238.3M880.2 1219.2V1247.9M882.6 1214.5V1247.9M884.9 1209.7V1243.1M887.3 1209.7V1243.1M889.7 1209.7V1231.2M892.1 1216.9V1235.9M894.5 1207.3V1226.4M896.9 1207.3V1231.2M899.3 1209.7V1231.2M901.6 1207.3V1216.9M904.0 1195.4V1231.2M906.4 1209.7V1231.2M908.8 1212.1V1226.4M911.2 1197.8V1226.4M913.6 1204.9V1226.4M915.9 1204.9V1216.9M918.3 1197.8V1214.5M920.7 1197.8V1221.6M923.1 1200.2V1221.6M925.5 1207.3V1228.8M927.9 1204.9V1231.2M930.3 1200.2V1228.8M932.6 1197.8V1207.3M935.0 1190.6V1202.5M937.4 1195.4V1214.5M939.8 1200.2V1216.9M942.2 1212.1V1226.4M944.6 1193.0V1219.2M947.0 1207.3V1219.2M949.3 1209.7V1231.2M951.7 1209.7V1228.8M954.1 1221.6V1240.7M956.5 1226.4V1247.9M958.9 1216.9V1245.5M961.3 1219.2V1231.2M963.6 1224.0V1243.1M966.0 1221.6V1243.1M968.4 1221.6V1240.7M970.8 1233.6V1252.7M973.2 1219.2V1245.5M975.6 1224.0V1238.3M978.0 1224.0V1235.9M980.3 1231.2V1252.7M982.7 1219.2V1252.7M985.1 1219.2V1233.6M987.5 1219.2V1235.9M989.9 1219.2V1231.2M992.3 1214.5V1233.6M994.7 1214.5V1235.9M997.0 1221.6V1233.6M999.4 1207.3V1231.2M1001.8 1185.8V1214.5M1004.2 1185.8V1212.1M1006.6 1207.3V1226.4M1009.0 1207.3V1224.0M1011.3 1197.8V1228.8M1013.7 1197.8V1224.0M1016.1 1214.5V1228.8M1018.5 1219.2V1233.6M1020.9 1228.8V1247.9M1023.3 1202.5V1235.9M1025.7 1207.3V1216.9M1028.0 1193.0V1216.9M1030.4 1204.9V1221.6M1032.8 1207.3V1221.6M1035.2 1190.6V1221.6M1037.6 1190.6V1209.7M1040.0 1197.8V1209.7M1042.4 1190.6V1212.1M1044.7 1188.2V1209.7M1047.1 1188.2V1209.7M1049.5 1185.8V1202.5M1051.9 1197.8V1212.1M1054.3 1202.5V1221.6M1056.7 1193.0V1228.8M1059.0 1207.3V1228.8M1061.4 1193.0V1212.1M1063.8 1197.8V1212.1M1066.2 1185.8V1209.7M1068.6 1190.6V1204.9M1071.0 1193.0V1219.2M1073.4 1178.7V1219.2M1075.7 1183.5V1204.9M1078.1 1200.2V1219.2M1080.5 1185.8V1219.2M1082.9 1185.8V1207.3M1085.3 1195.4V1204.9M1087.7 1176.3V1200.2M1090.1 1176.3V1202.5M1092.4 1193.0V1202.5M1094.8 1178.7V1212.1M1097.2 1181.1V1228.8M1099.6 1181.1V1207.3M1102.0 1169.1V1207.3M1104.4 1169.1V1195.4M1106.7 1185.8V1209.7M1109.1 1185.8V1204.9M1111.5 1171.5V1197.8M1113.9 1173.9V1190.6M1116.3 1173.9V1185.8M1118.7 1173.9V1188.2M1121.1 1171.5V1188.2M1123.4 1173.9V1193.0M1125.8 1162.0V1178.7M1128.2 1159.6V1166.8M1130.6 1159.6V1183.5M1133.0 1159.6V1176.3M1135.4 1169.1V1181.1M1137.8 1169.1V1178.7M1140.1 1150.1V1178.7M1142.5 1150.1V1171.5M1144.9 1152.4V1173.9M1147.3 1152.4V1169.1M1149.7 1159.6V1178.7M1152.1 1159.6V1181.1M1154.4 1169.1V1181.1M1156.8 1169.1V1185.8M1159.2 1169.1V1200.2M1161.6 1185.8V1202.5M1164.0 1166.8V1190.6M1166.4 1176.3V1188.2M1168.8 1171.5V1188.2M1171.1 1162.0V1188.2M1173.5 1164.4V1176.3M1175.9 1162.0V1185.8M1178.3 1164.4V1185.8M1180.7 1145.3V1169.1M1183.1 1150.1V1176.3M1185.5 1147.7V1171.5M1187.8 1147.7V1169.1M1190.2 1147.7V1164.4M1192.6 1140.5V1164.4M1195.0 1157.2V1164.4M1197.4 1145.3V1166.8M1199.8 1145.3V1166.8M1202.1 1150.1V1169.1M1204.5 1152.4V1171.5M1206.9 1147.7V1171.5M1209.3 1147.7V1164.4M1211.7 1133.4V1152.4M1214.1 1133.4V1152.4M1216.5 1145.3V1159.6M1218.8 1121.4V1154.8M1221.2 1138.1V1154.8M1223.6 1133.4V1147.7M1226.0 1133.4V1142.9M1228.4 1128.6V1142.9M1230.8 1135.7V1150.1M1233.2 1126.2V1152.4M1235.5 1126.2V1152.4M1237.9 1104.7V1147.7M1240.3 1104.7V1128.6M1242.7 1116.6V1131.0M1245.1 1109.5V1138.1M1247.5 1104.7V1126.2M1249.8 1107.1V1133.4M1252.2 1109.5V1123.8M1254.6 1092.8V1123.8M1257.0 1107.1V1126.2M1259.4 1114.3V1126.2M1261.8 1119.0V1131.0M1264.2 1109.5V1131.0M1266.5 1116.6V1140.5M1268.9 1135.7V1145.3M1271.3 1128.6V1152.4M1273.7 1123.8V1142.9M1276.1 1126.2V1147.7M1278.5 1123.8V1138.1M1280.9 1116.6V1145.3M1283.2 1116.6V1142.9M1285.6 1123.8V1140.5M1288.0 1123.8V1145.3M1290.4 1133.4V1159.6M1292.8 1135.7V1150.1M1295.2 1128.6V1154.8M1297.5 1128.6V1159.6M1299.9 1128.6V1147.7M1302.3 1128.6V1138.1M1304.7 1126.2V1138.1M1307.1 1121.4V1152.4M1309.5 1119.0V1154.8M1311.9 1119.0V1135.7M1314.2 1114.3V1126.2M1316.6 1114.3V1131.0M1319.0 1116.6V1133.4M1321.4 1109.5V1123.8M1323.8 1104.7V1121.4M1326.2 1109.5V1128.6M1328.6 1107.1V1128.6M1330.9 1095.2V1114.3M1333.3 1102.3V1138.1M1335.7 1119.0V1147.7M1338.1 1126.2V1147.7M1340.5 1119.0V1131.0M1342.9 1121.4V1131.0M1345.2 1123.8V1147.7M1347.6 1142.9V1152.4M1350.0 1147.7V1159.6M1352.4 1119.0V1152.4M1354.8 1116.6V1140.5M1357.2 1116.6V1145.3M1359.6 1111.9V1126.2M1361.9 1107.1V1119.0M1364.3 1099.9V1119.0M1366.7 1104.7V1138.1M1369.1 1114.3V1138.1M1371.5 1116.6V1123.8M1373.9 1099.9V1135.7M1376.3 1119.0V1157.2M1378.6 1107.1V1126.2M1381.0 1121.4V1142.9M1383.4 1121.4V1142.9M1385.8 1121.4V1140.5M1388.2 1135.7V1152.4M1390.6 1123.8V1147.7M1392.9 1131.0V1142.9M1395.3 1138.1V1152.4M1397.7 1138.1V1152.4M1400.1 1131.0V1159.6M1402.5 1123.8V1162.0M1404.9 1123.8V1164.4M1407.3 1131.0V1142.9M1409.6 1131.0V1162.0M1412.0 1140.5V1162.0M1414.4 1121.4V1159.6M1416.8 1121.4V1152.4M1419.2 1135.7V1162.0M1421.6 1114.3V1154.8M1424.0 1123.8V1142.9M1426.3 1111.9V1135.7M1428.7 1111.9V1142.9M1431.1 1138.1V1150.1M1433.5 1123.8V1150.1M1435.9 1131.0V1142.9M1438.3 1131.0V1147.7M1440.6 1126.2V1147.7M1443.0 1123.8V1135.7M1445.4 1121.4V1142.9M1447.8 1114.3V1135.7M1450.2 1114.3V1138.1M1452.6 1133.4V1152.4M1455.0 1138.1V1159.6M1457.3 1126.2V1142.9M1459.7 1119.0V1135.7M1462.1 1119.0V1135.7M1464.5 1126.2V1135.7M1466.9 1128.6V1157.2M1469.3 1135.7V1154.8M1471.7 1128.6V1145.3M1474.0 1128.6V1142.9M1476.4 1135.7V1154.8M1478.8 1123.8V1154.8M1481.2 1123.8V1138.1M1483.6 1131.0V1140.5M1486.0 1102.3V1135.7M1488.3 1123.8V1140.5M1490.7 1135.7V1147.7M1493.1 1119.0V1142.9M1495.5 1114.3V1133.4M1497.9 1114.3V1135.7M1500.3 1111.9V1133.4M1502.7 1111.9V1119.0M1505.0 1111.9V1126.2M1507.4 1097.6V1128.6M1509.8 1107.1V1133.4M1512.2 1107.1V1133.4M1514.6 1128.6V1140.5M1517.0 1119.0V1135.7M1519.4 1111.9V1133.4M1521.7 1121.4V1135.7M1524.1 1119.0V1147.7M1526.5 1119.0V1138.1M1528.9 1119.0V1145.3M1531.3 1128.6V1145.3M1533.7 1128.6V1154.8M1536.0 1104.7V1154.8M1538.4 1114.3V1138.1M1540.8 1131.0V1142.9M1543.2 1128.6V1142.9M1545.6 1099.9V1135.7M1548.0 1099.9V1119.0M1550.4 1109.5V1121.4M1552.7 1085.6V1114.3M1555.1 1085.6V1102.3M1557.5 1085.6V1104.7M1559.9 1080.9V1109.5M1562.3 1102.3V1114.3M1564.7 1107.1V1126.2M1567.1 1107.1V1123.8M1569.4 1109.5V1123.8M1571.8 1119.0V1131.0M1574.2 1099.9V1131.0M1576.6 1099.9V1131.0M1579.0 1116.6V1133.4M1581.4 1119.0V1131.0M1583.7 1107.1V1131.0M1586.1 1119.0V1131.0M1588.5 1107.1V1128.6M1590.9 1107.1V1128.6M1593.3 1099.9V1116.6M1595.7 1097.6V1119.0M1598.1 1097.6V1116.6M1600.4 1097.6V1114.3M1602.8 1102.3V1116.6M1605.2 1102.3V1135.7M1607.6 1107.1V1135.7M1610.0 1109.5V1123.8M1612.4 1116.6V1128.6M1614.8 1116.6V1128.6M1617.1 1111.9V1123.8M1619.5 1111.9V1138.1M1621.9 1116.6V1133.4M1624.3 1111.9V1128.6M1626.7 1111.9V1121.4M1629.1 1099.9V1119.0M1631.4 1104.7V1116.6M1633.8 1097.6V1119.0M1636.2 1088.0V1109.5M1638.6 1092.8V1109.5M1641.0 1095.2V1102.3M1643.4 1085.6V1102.3M1645.8 1078.5V1116.6M1648.1 1104.7V1116.6M1650.5 1083.2V1111.9M1652.9 1083.2V1107.1M1655.3 1090.4V1107.1M1657.7 1076.1V1102.3M1660.1 1076.1V1109.5M1662.5 1095.2V1114.3M1664.8 1095.2V1109.5M1667.2 1102.3V1116.6M1669.6 1109.5V1119.0M1672.0 1102.3V1119.0M1674.4 1102.3V1121.4M1676.8 1099.9V1116.6M1679.1 1109.5V1123.8M1681.5 1111.9V1123.8M1683.9 1099.9V1121.4M1686.3 1107.1V1121.4M1688.7 1116.6V1138.1M1691.1 1126.2V1135.7M1693.5 1116.6V1138.1M1695.8 1109.5V1121.4M1698.2 1102.3V1119.0M1700.6 1099.9V1116.6M1703.0 1102.3V1121.4M1705.4 1099.9V1135.7M1707.8 1099.9V1128.6M1710.2 1107.1V1128.6M1712.5 1107.1V1126.2M1714.9 1119.0V1138.1M1717.3 1123.8V1145.3M1719.7 1126.2V1142.9M1722.1 1133.4V1150.1M1724.5 1121.4V1142.9M1726.8 1116.6V1138.1M1729.2 1116.6V1135.7M1731.6 1131.0V1145.3M1734.0 1133.4V1145.3M1736.4 1133.4V1154.8M1738.8 1126.2V1157.2M1741.2 1119.0V1150.1M1743.5 1109.5V1135.7M1745.9 1128.6V1142.9M1748.3 1133.4V1154.8M1750.7 1114.3V1154.8M1753.1 1114.3V1138.1M1755.5 1126.2V1154.8M1757.9 1123.8V1138.1M1760.2 1123.8V1138.1M1762.6 1104.7V1135.7M1765.0 1102.3V1116.6M1767.4 1102.3V1126.2M1769.8 1099.9V1119.0M1772.2 1097.6V1119.0M1774.5 1109.5V1126.2M1776.9 1109.5V1142.9M1779.3 1099.9V1142.9M1781.7 1099.9V1133.4M1784.1 1121.4V1138.1M1786.5 1116.6V1126.2M1788.9 1116.6V1135.7M1791.2 1121.4V1145.3M1793.6 1109.5V1145.3M1796.0 1109.5V1126.2M1798.4 1109.5V1128.6M1800.8 1109.5V1128.6M1803.2 1109.5V1138.1M1805.6 1111.9V1138.1M1807.9 1128.6V1138.1M1810.3 1123.8V1142.9M1812.7 1121.4V1131.0M1815.1 1123.8V1133.4M1817.5 1128.6V1150.1M1819.9 1126.2V1142.9M1822.2 1131.0V1142.9M1824.6 1135.7V1154.8M1827.0 1150.1V1159.6M1829.4 1135.7V1159.6M1831.8 1131.0V1140.5M1834.2 1126.2V1135.7M1836.6 1119.0V1135.7M1838.9 1109.5V1131.0M1841.3 1114.3V1135.7M1843.7 1114.3V1147.7M1846.1 1107.1V1147.7M1848.5 1107.1V1140.5M1850.9 1119.0V1133.4M1853.3 1114.3V1140.5M1855.6 1111.9V1121.4M1858.0 1095.2V1121.4M1860.4 1092.8V1111.9M1862.8 1107.1V1121.4M1865.2 1090.4V1119.0M1867.6 1090.4V1104.7M1869.9 1080.9V1104.7M1872.3 1078.5V1097.6M1874.7 1083.2V1097.6M1877.1 1090.4V1104.7M1879.5 1080.9V1104.7M1881.9 1080.9V1090.4M1884.3 1085.6V1107.1M1886.6 1102.3V1126.2M1889.0 1107.1V1123.8M1891.4 1107.1V1123.8M1893.8 1109.5V1133.4M1896.2 1114.3V1140.5M1898.6 1114.3V1128.6M1901.0 1116.6V1133.4M1903.3 1116.6V1133.4M1905.7 1121.4V1131.0M1908.1 1121.4V1128.6M1910.5 1111.9V1135.7M1912.9 1123.8V1135.7M1915.3 1128.6V1147.7M1917.6 1128.6V1140.5M1920.0 1119.0V1140.5M1922.4 1119.0V1150.1M1924.8 1121.4V1150.1M1927.2 1121.4V1150.1M1929.6 1135.7V1150.1M1932.0 1126.2V1142.9M1934.3 1119.0V1150.1M1936.7 1119.0V1133.4M1939.1 1126.2V1140.5M1941.5 1128.6V1142.9M1943.9 1133.4V1142.9M1946.3 1128.6V1140.5M1948.7 1131.0V1147.7M1951.0 1131.0V1150.1M1953.4 1128.6V1150.1M1955.8 1135.7V1147.7M1958.2 1126.2V1147.7M1960.6 1133.4V1147.7M1963.0 1140.5V1154.8M1965.3 1140.5V1162.0M1967.7 1138.1V1162.0M1970.1 1131.0V1145.3M1972.5 1133.4V1145.3M1974.9 1119.0V1145.3M1977.3 1119.0V1147.7M1979.7 1126.2V1147.7M1982.0 1138.1V1157.2M1984.4 1128.6V1159.6M1986.8 1128.6V1152.4M1989.2 1121.4V1152.4M1991.6 1131.0V1150.1M1994.0 1131.0V1162.0M1996.4 1147.7V1162.0M1998.7 1145.3V1162.0M2001.1 1145.3V1162.0M2003.5 1154.8V1162.0M2005.9 1138.1V1159.6M2008.3 1140.5V1152.4M2010.7 1135.7V1152.4M2013.0 1135.7V1150.1M2015.4 1138.1V1147.7M2017.8 1133.4V1147.7M2020.2 1140.5V1162.0M2022.6 1133.4V1169.1M2025.0 1133.4V1162.0M2027.4 1133.4V1162.0M2029.7 1133.4V1150.1M2032.1 1133.4V1162.0M2034.5 1121.4V1157.2M2036.9 1121.4V1142.9M2039.3 1114.3V1142.9M2041.7 1090.4V1119.0M2044.1 1090.4V1109.5M2046.4 1095.2V1123.8M2048.8 1097.6V1123.8M2051.2 1097.6V1123.8M2053.6 1095.2V1119.0M2056.0 1092.8V1109.5M2058.4 1092.8V1128.6M2060.7 1116.6V1128.6M2063.1 1102.3V1123.8M2065.5 1092.8V1119.0M2067.9 1111.9V1126.2M2070.3 1119.0V1128.6M2072.7 1104.7V1128.6M2075.1 1099.9V1116.6M2077.4 1104.7V1116.6M2079.8 1104.7V1119.0M2082.2 1102.3V1119.0M2084.6 1097.6V1131.0M2087.0 1109.5V1131.0M2089.4 1097.6V1114.3M2091.8 1102.3V1121.4M2094.1 1114.3V1121.4M2096.5 1109.5V1121.4M2098.9 1099.9V1119.0M2101.3 1092.8V1107.1M2103.7 1095.2V1119.0M2106.1 1097.6V1114.3M2108.4 1097.6V1114.3M2110.8 1102.3V1119.0M2113.2 1111.9V1119.0M2115.6 1099.9V1116.6M2118.0 1104.7V1119.0M2120.4 1107.1V1121.4M2122.8 1102.3V1123.8M2125.1 1102.3V1126.2M2127.5 1109.5V1121.4M2129.9 1109.5V1138.1M2132.3 1119.0V1138.1M2134.7 1102.3V1123.8M2137.1 1107.1V1121.4M2139.5 1107.1V1126.2M2141.8 1116.6V1128.6M2144.2 1116.6V1131.0M2146.6 1121.4V1133.4M2149.0 1104.7V1133.4M2151.4 1104.7V1128.6M2153.8 1111.9V1128.6M2156.1 1111.9V1123.8M2158.5 1111.9V1133.4M2160.9 1119.0V1128.6M2163.3 1121.4V1138.1M2165.7 1121.4V1135.7M2168.1 1111.9V1131.0M2170.5 1104.7V1126.2M2172.8 1119.0V1128.6M2175.2 1102.3V1131.0M2177.6 1102.3V1131.0M2180.0 1107.1V1126.2M2182.4 1107.1V1123.8M2184.8 1114.3V1133.4M2187.2 1114.3V1140.5M2189.5 1109.5V1140.5M2191.9 1126.2V1135.7M2194.3 1126.2V1133.4M2196.7 1109.5V1140.5M2199.1 1109.5V1128.6M2201.5 1114.3V1133.4M2203.8 1128.6V1145.3M2206.2 1092.8V1140.5M2208.6 1109.5V1126.2M2211.0 1099.9V1126.2M2213.4 1095.2V1111.9M2215.8 1107.1V1123.8M2218.2 1107.1V1131.0M2220.5 1121.4V1133.4M2222.9 1119.0V1133.4M2225.3 1107.1V1138.1M2227.7 1116.6V1138.1M2230.1 1114.3V1133.4M2232.5 1114.3V1135.7M2234.9 1104.7V1135.7M2237.2 1095.2V1116.6M2239.6 1099.9V1114.3M2242.0 1097.6V1111.9M2244.4 1092.8V1116.6M2246.8 1090.4V1114.3M2249.2 1099.9V1114.3M2251.5 1095.2V1111.9M2253.9 1092.8V1119.0M2256.3 1099.9V1121.4M2258.7 1097.6V1116.6M2261.1 1092.8V1116.6M2263.5 1080.9V1116.6M2265.9 1080.9V1126.2M2268.2 1114.3V1126.2M2270.6 1111.9V1131.0M2273.0 1119.0V1133.4M2275.4 1116.6V1140.5M2277.8 1111.9V1128.6M2280.2 1104.7V1131.0M2282.6 1123.8V1138.1M2284.9 1114.3V1131.0M2287.3 1123.8V1140.5M2289.7 1109.5V1131.0M2292.1 1102.3V1121.4M2294.5 1116.6V1142.9M2296.9 1102.3V1131.0M2299.2 1111.9V1135.7M2301.6 1114.3V1131.0M2304.0 1114.3V1133.4M2306.4 1116.6V1128.6M2308.8 1116.6V1128.6M2311.2 1123.8V1138.1"/>
<path stroke="#920088" d="M269.7 1556.1V1382.0M272.0 1369.6V1383.9M274.4 1360.0V1376.7M276.8 1352.9V1367.2M279.2 1352.9V1362.4M281.5 1338.5V1357.6M283.9 1338.5V1352.9M286.3 1340.9V1352.9M288.7 1336.2V1345.7M291.1 1336.2V1345.7M293.5 1324.2V1345.7M295.8 1321.8V1338.5M298.2 1321.8V1350.5M300.6 1324.2V1350.5M303.0 1326.6V1338.5M305.4 1321.8V1338.5M307.8 1331.4V1357.6M310.2 1331.4V1348.1M312.5 1309.9V1338.5M314.9 1309.9V1321.8M317.3 1312.3V1345.7M319.7 1321.8V1338.5M322.1 1329.0V1350.5M324.5 1326.6V1352.9M326.9 1326.6V1338.5M329.2 1326.6V1352.9M331.6 1324.2V1352.9M334.0 1331.4V1350.5M336.4 1324.2V1350.5M338.8 1314.7V1336.2M341.2 1300.4V1319.5M343.5 1300.4V1317.1M345.9 1295.6V1317.1M348.3 1307.5V1329.0M350.7 1309.9V1331.4M353.1 1309.9V1314.7M355.5 1300.4V1314.7M357.9 1307.5V1321.8M360.2 1305.1V1319.5M362.6 1302.8V1319.5M365.0 1290.8V1307.5M367.4 1269.4V1298.0M369.8 1267.0V1278.9M372.2 1259.8V1271.7M374.6 1262.2V1283.7M376.9 1267.0V1295.6M379.3 1267.0V1286.1M381.7 1269.4V1293.2M384.1 1278.9V1298.0M386.5 1293.2V1309.9M388.9 1293.2V1307.5M391.2 1286.1V1312.3M393.6 1269.4V1290.8M396.0 1257.4V1283.7M398.4 1257.4V1274.1M400.8 1257.4V1271.7M403.2 1264.6V1278.9M405.6 1259.8V1281.3M407.9 1255.0V1278.9M410.3 1235.9V1259.8M412.7 1245.5V1271.7M415.1 1250.3V1271.7M417.5 1243.1V1269.4M419.9 1235.9V1269.4M422.3 1235.9V1269.4M424.6 1247.9V1269.4M427.0 1250.3V1259.8M429.4 1243.1V1262.2M431.8 1238.3V1262.2M434.2 1231.2V1250.3M436.6 1233.6V1252.7M438.9 1228.8V1259.8M441.3 1243.1V1259.8M443.7 1238.3V1247.9M446.1 1228.8V1247.9M448.5 1228.8V1238.3M450.9 1226.4V1235.9M453.3 1214.5V1231.2M455.6 1216.9V1231.2M458.0 1214.5V1228.8M460.4 1224.0V1238.3M462.8 1228.8V1250.3M465.2 1226.4V1247.9M467.6 1240.7V1257.4M470.0 1233.6V1257.4M472.3 1252.7V1269.4M474.7 1240.7V1257.4M477.1 1240.7V1257.4M479.5 1224.0V1245.5M481.9 1231.2V1245.5M484.3 1224.0V1238.3M486.6 1224.0V1259.8M489.0 1233.6V1257.4M491.4 1219.2V1247.9M493.8 1221.6V1240.7M496.2 1219.2V1240.7M498.6 1219.2V1238.3M501.0 1209.7V1233.6M503.3 1221.6V1235.9M505.7 1219.2V1235.9M508.1 1207.3V1231.2M510.5 1216.9V1233.6M512.9 1224.0V1247.9M515.3 1214.5V1233.6M517.7 1214.5V1228.8M520.0 1216.9V1228.8M522.4 1216.9V1228.8M524.8 1212.1V1228.8M527.2 1219.2V1238.3M529.6 1224.0V1238.3M532.0 1209.7V1235.9M534.3 1209.7V1231.2M536.7 1212.1V1228.8M539.1 1212.1V1228.8M541.5 1204.9V1216.9M543.9 1202.5V1212.1M546.3 1202.5V1216.9M548.7 1202.5V1226.4M551.0 1214.5V1235.9M553.4 1204.9V1235.9M555.8 1221.6V1247.9M558.2 1228.8V1243.1M560.6 1214.5V1243.1M563.0 1207.3V1224.0M565.4 1200.2V1224.0M567.7 1190.6V1207.3M570.1 1188.2V1207.3M572.5 1190.6V1197.8M574.9 1193.0V1212.1M577.3 1197.8V1219.2M579.7 1207.3V1219.2M582.0 1204.9V1221.6M584.4 1197.8V1209.7M586.8 1197.8V1224.0M589.2 1219.2V1235.9M591.6 1224.0V1240.7M594.0 1226.4V1240.7M596.4 1224.0V1243.1M598.7 1214.5V1231.2M601.1 1224.0V1252.7M603.5 1221.6V1252.7M605.9 1212.1V1233.6M608.3 1209.7V1233.6M610.7 1209.7V1231.2M613.1 1219.2V1231.2M615.4 1219.2V1228.8M617.8 1216.9V1233.6M620.2 1219.2V1228.8M622.6 1207.3V1228.8M625.0 1207.3V1235.9M627.4 1204.9V1235.9M629.7 1214.5V1235.9M632.1 1219.2V1233.6M634.5 1209.7V1228.8M636.9 1202.5V1228.8M639.3 1204.9V1224.0M641.7 1202.5V1226.4M644.1 1214.5V1226.4M646.4 1214.5V1221.6M648.8 1209.7V1235.9M651.2 1197.8V1219.2M653.6 1200.2V1231.2M656.0 1214.5V1231.2M658.4 1209.7V1240.7M660.8 1207.3V1240.7M663.1 1185.8V1212.1M665.5 1200.2V1212.1M667.9 1204.9V1214.5M670.3 1204.9V1219.2M672.7 1204.9V1228.8M675.1 1204.9V1228.8M677.4 1207.3V1231.2M679.8 1221.6V1235.9M682.2 1214.5V1231.2M684.6 1216.9V1233.6M687.0 1224.0V1243.1M689.4 1216.9V1238.3M691.8 1216.9V1235.9M694.1 1219.2V1235.9M696.5 1216.9V1240.7M698.9 1228.8V1247.9M701.3 1233.6V1243.1M703.7 1212.1V1238.3M706.1 1212.1V1228.8M708.5 1224.0V1247.9M710.8 1231.2V1247.9M713.2 1219.2V1240.7M715.6 1219.2V1240.7M718.0 1233.6V1240.7M720.4 1224.0V1240.7M722.8 1219.2V1240.7M725.1 1228.8V1240.7M727.5 1224.0V1243.1M729.9 1216.9V1231.2M732.3 1219.2V1231.2M734.7 1204.9V1226.4M737.1 1216.9V1233.6M739.5 1221.6V1233.6M741.8 1221.6V1238.3M744.2 1214.5V1238.3M746.6 1209.7V1219.2M749.0 1212.1V1226.4M751.4 1214.5V1233.6M753.8 1224.0V1233.6M756.2 1221.6V1243.1M758.5 1219.2V1233.6M760.9 1209.7V1247.9M763.3 1231.2V1250.3M765.7 1231.2V1243.1M768.1 1224.0V1235.9M770.5 1216.9V1247.9M772.8 1209.7V1247.9M775.2 1209.7V1235.9M777.6 1204.9V1221.6M780.0 1214.5V1228.8M782.4 1214.5V1228.8M784.8 1204.9V1233.6M787.2 1204.9V1228.8M789.5 1209.7V1228.8M791.9 1209.7V1216.9M794.3 1197.8V1216.9M796.7 1197.8V1216.9M799.1 1202.5V1219.2M801.5 1197.8V1219.2M803.9 1176.3V1202.5M806.2 1166.8V1195.4M808.6 1166.8V1197.8M811.0 1188.2V1197.8M813.4 1181.1V1197.8M815.8 1190.6V1216.9M818.2 1197.8V1216.9M820.5 1197.8V1209.7M822.9 1202.5V1212.1M825.3 1193.0V1212.1M827.7 1202.5V1219.2M830.1 1200.2V1216.9M832.5 1183.5V1216.9M834.9 1183.5V1202.5M837.2 1176.3V1193.0M839.6 1173.9V1195.4M842.0 1190.6V1207.3M844.4 1169.1V1197.8M846.8 1169.1V1181.1M849.2 1157.2V1173.9M851.6 1162.0V1188.2M853.9 1171.5V1195.4M856.3 1166.8V1181.1M858.7 1166.8V1195.4M861.1 1181.1V1197.8M863.5 1188.2V1195.4M865.9 1181.1V1193.0M868.2 1169.1V1193.0M870.6 1159.6V1185.8M873.0 1166.8V1185.8M875.4 1159.6V1181.1M877.8 1157.2V1164.4M880.2 1147.7V1164.4M882.6 1145.3V1159.6M884.9 1140.5V1159.6M887.3 1140.5V1157.2M889.7 1133.4V1157.2M892.1 1140.5V1159.6M894.5 1138.1V1159.6M896.9 1142.9V1159.6M899.3 1135.7V1157.2M901.6 1140.5V1159.6M904.0 1138.1V1150.1M906.4 1142.9V1159.6M908.8 1140.5V1154.8M911.2 1147.7V1164.4M913.6 1152.4V1173.9M915.9 1147.7V1166.8M918.3 1152.4V1166.8M920.7 1154.8V1169.1M923.1 1152.4V1159.6M925.5 1154.8V1169.1M927.9 1145.3V1169.1M930.3 1145.3V1162.0M932.6 1145.3V1162.0M935.0 1147.7V1159.6M937.4 1147.7V1159.6M939.8 1147.7V1181.1M942.2 1162.0V1171.5M944.6 1159.6V1176.3M947.0 1157.2V1169.1M949.3 1154.8V1176.3M951.7 1159.6V1193.0M954.1 1164.4V1193.0M956.5 1164.4V1185.8M958.9 1164.4V1193.0M961.3 1173.9V1193.0M963.6 1176.3V1197.8M966.0 1171.5V1193.0M968.4 1154.8V1183.5M970.8 1166.8V1183.5M973.2 1169.1V1193.0M975.6 1159.6V1178.7M978.0 1154.8V1171.5M980.3 1145.3V1173.9M982.7 1150.1V1173.9M985.1 1154.8V1178.7M987.5 1147.7V1178.7M989.9 1145.3V1159.6M992.3 1147.7V1169.1M994.7 1150.1V1176.3M997.0 1140.5V1154.8M999.4 1140.5V1150.1M1001.8 1138.1V1164.4M1004.2 1150.1V1164.4M1006.6 1157.2V1171.5M1009.0 1157.2V1171.5M1011.3 1152.4V1164.4M1013.7 1147.7V1166.8M1016.1 1142.9V1166.8M1018.5 1145.3V1166.8M1020.9 1140.5V1150.1M1023.3 1145.3V1157.2M1025.7 1152.4V1171.5M1028.0 1162.0V1171.5M1030.4 1157.2V1169.1M1032.8 1159.6V1176.3M1035.2 1152.4V1176.3M1037.6 1150.1V1169.1M1040.0 1150.1V1171.5M1042.4 1154.8V1176.3M1044.7 1145.3V1176.3M1047.1 1145.3V1152.4M1049.5 1142.9V1154.8M1051.9 1142.9V1152.4M1054.3 1133.4V1154.8M1056.7 1140.5V1169.1M1059.0 1152.4V1183.5M1061.4 1152.4V1169.1M1063.8 1152.4V1169.1M1066.2 1152.4V1178.7M1068.6 1157.2V1181.1M1071.0 1159.6V1181.1M1073.4 1164.4V1178.7M1075.7 1164.4V1181.1M1078.1 1166.8V1183.5M1080.5 1164.4V1183.5M1082.9 1164.4V1178.7M1085.3 1162.0V1185.8M1087.7 1159.6V1188.2M1090.1 1159.6V1176.3M1092.4 1171.5V1183.5M1094.8 1157.2V1183.5M1097.2 1169.1V1183.5M1099.6 1162.0V1181.1M1102.0 1154.8V1176.3M1104.4 1164.4V1178.7M1106.7 1152.4V1178.7M1109.1 1152.4V1169.1M1111.5 1164.4V1171.5M1113.9 1166.8V1185.8M1116.3 1171.5V1195.4M1118.7 1164.4V1176.3M1121.1 1159.6V1169.1M1123.4 1164.4V1178.7M1125.8 1159.6V1178.7M1128.2 1159.6V1183.5M1130.6 1159.6V1183.5M1133.0 1154.8V1193.0M1135.4 1150.1V1171.5M1137.8 1159.6V1171.5M1140.1 1159.6V1188.2M1142.5 1178.7V1193.0M1144.9 1169.1V1193.0M1147.3 1164.4V1181.1M1149.7 1152.4V1169.1M1152.1 1145.3V1164.4M1154.4 1147.7V1164.4M1156.8 1140.5V1166.8M1159.2 1138.1V1152.4M1161.6 1138.1V1152.4M1164.0 1126.2V1152.4M1166.4 1126.2V1164.4M1168.8 1119.0V1162.0M1171.1 1119.0V1147.7M1173.5 1135.7V1157.2M1175.9 1131.0V1157.2M1178.3 1121.4V1142.9M1180.7 1131.0V1147.7M1183.1 1126.2V1145.3M1185.5 1128.6V1145.3M1187.8 1128.6V1150.1M1190.2 1138.1V1152.4M1192.6 1140.5V1154.8M1195.0 1150.1V1171.5M1197.4 1140.5V1162.0M1199.8 1133.4V1162.0M1202.1 1135.7V1157.2M1204.5 1138.1V1159.6M1206.9 1123.8V1157.2M1209.3 1123.8V1154.8M1211.7 1128.6V1154.8M1214.1 1128.6V1150.1M1216.5 1135.7V1159.6M1218.8 1131.0V1152.4M1221.2 1140.5V1152.4M1223.6 1138.1V1152.4M1226.0 1123.8V1150.1M1228.4 1121.4V1142.9M1230.8 1128.6V1142.9M1233.2 1114.3V1142.9M1235.5 1114.3V1140.5M1237.9 1131.0V1147.7M1240.3 1119.0V1135.7M1242.7 1116.6V1135.7M1245.1 1121.4V1135.7M1247.5 1111.9V1135.7M1249.8 1114.3V1152.4M1252.2 1114.3V1123.8M1254.6 1114.3V1123.8M1257.0 1109.5V1128.6M1259.4 1102.3V1126.2M1261.8 1109.5V1126.2M1264.2 1116.6V1135.7M1266.5 1114.3V1135.7M1268.9 1111.9V1135.7M1271.3 1111.9V1140.5M1273.7 1131.0V1140.5M1276.1 1128.6V1145.3M1278.5 1121.4V1145.3M1280.9 1121.4V1131.0M1283.2 1121.4V1138.1M1285.6 1119.0V1131.0M1288.0 1121.4V1138.1M1290.4 1111.9V1131.0M1292.8 1111.9V1123.8M1295.2 1114.3V1131.0M1297.5 1121.4V1133.4M1299.9 1119.0V1133.4M1302.3 1114.3V1133.4M1304.7 1114.3V1128.6M1307.1 1116.6V1135.7M1309.5 1128.6V1157.2M1311.9 1123.8V1157.2M1314.2 1123.8V1145.3M1316.6 1126.2V1145.3M1319.0 1123.8V1142.9M1321.4 1119.0V1135.7M1323.8 1119.0V1140.5M1326.2 1114.3V1140.5M1328.6 1119.0V1138.1M1330.9 1119.0V1138.1M1333.3 1123.8V1138.1M1335.7 1109.5V1145.3M1338.1 1131.0V1147.7M1340.5 1119.0V1135.7M1342.9 1126.2V1135.7M1345.2 1121.4V1133.4M1347.6 1111.9V1133.4M1350.0 1109.5V1126.2M1352.4 1107.1V1126.2M1354.8 1111.9V1138.1M1357.2 1114.3V1138.1M1359.6 1109.5V1126.2M1361.9 1116.6V1135.7M1364.3 1121.4V1135.7M1366.7 1123.8V1145.3M1369.1 1123.8V1140.5M1371.5 1119.0V1140.5M1373.9 1119.0V1135.7M1376.3 1126.2V1140.5M1378.6 1116.6V1140.5M1381.0 1107.1V1147.7M1383.4 1126.2V1147.7M1385.8 1121.4V1138.1M1388.2 1121.4V1140.5M1390.6 1135.7V1142.9M1392.9 1116.6V1140.5M1395.3 1116.6V1135.7M1397.7 1114.3V1140.5M1400.1 1114.3V1131.0M1402.5 1109.5V1131.0M1404.9 1109.5V1131.0M1407.3 1099.9V1131.0M1409.6 1099.9V1111.9M1412.0 1099.9V1128.6M1414.4 1114.3V1133.4M1416.8 1102.3V1133.4M1419.2 1097.6V1109.5M1421.6 1102.3V1123.8M1424.0 1097.6V1119.0M1426.3 1090.4V1104.7M1428.7 1090.4V1107.1M1431.1 1078.5V1104.7M1433.5 1083.2V1109.5M1435.9 1088.0V1111.9M1438.3 1095.2V1119.0M1440.6 1102.3V1128.6M1443.0 1102.3V1131.0M1445.4 1102.3V1121.4M1447.8 1102.3V1116.6M1450.2 1111.9V1126.2M1452.6 1104.7V1123.8M1455.0 1102.3V1131.0M1457.3 1104.7V1131.0M1459.7 1104.7V1131.0M1462.1 1126.2V1142.9M1464.5 1104.7V1135.7M1466.9 1111.9V1121.4M1469.3 1114.3V1131.0M1471.7 1111.9V1123.8M1474.0 1116.6V1135.7M1476.4 1114.3V1128.6M1478.8 1116.6V1140.5M1481.2 1119.0V1135.7M1483.6 1116.6V1135.7M1486.0 1114.3V1135.7M1488.3 1116.6V1145.3M1490.7 1114.3V1145.3M1493.1 1114.3V1135.7M1495.5 1116.6V1138.1M1497.9 1121.4V1135.7M1500.3 1116.6V1142.9M1502.7 1116.6V1123.8M1505.0 1119.0V1135.7M1507.4 1116.6V1145.3M1509.8 1138.1V1147.7M1512.2 1123.8V1147.7M1514.6 1135.7V1147.7M1517.0 1121.4V1147.7M1519.4 1133.4V1154.8M1521.7 1123.8V1150.1M1524.1 1123.8V1147.7M1526.5 1128.6V1147.7M1528.9 1131.0V1147.7M1531.3 1119.0V1138.1M1533.7 1128.6V1145.3M1536.0 1119.0V1133.4M1538.4 1109.5V1140.5M1540.8 1109.5V1131.0M1543.2 1114.3V1135.7M1545.6 1121.4V1138.1M1548.0 1133.4V1145.3M1550.4 1121.4V1145.3M1552.7 1116.6V1128.6M1555.1 1116.6V1133.4M1557.5 1116.6V1131.0M1559.9 1116.6V1131.0M1562.3 1114.3V1126.2M1564.7 1116.6V1126.2M1567.1 1104.7V1128.6M1569.4 1099.9V1116.6M1571.8 1099.9V1123.8M1574.2 1109.5V1119.0M1576.6 1099.9V1123.8M1579.0 1111.9V1128.6M1581.4 1109.5V1128.6M1583.7 1109.5V1126.2M1586.1 1097.6V1126.2M1588.5 1099.9V1131.0M1590.9 1104.7V1119.0M1593.3 1111.9V1138.1M1595.7 1116.6V1135.7M1598.1 1111.9V1133.4M1600.4 1121.4V1138.1M1602.8 1126.2V1138.1M1605.2 1126.2V1152.4M1607.6 1114.3V1133.4M1610.0 1114.3V1138.1M1612.4 1114.3V1145.3M1614.8 1126.2V1142.9M1617.1 1111.9V1138.1M1619.5 1126.2V1138.1M1621.9 1133.4V1157.2M1624.3 1126.2V1157.2M1626.7 1119.0V1131.0M1629.1 1119.0V1133.4M1631.4 1126.2V1138.1M1633.8 1116.6V1133.4M1636.2 1123.8V1145.3M1638.6 1123.8V1140.5M1641.0 1123.8V1135.7M1643.4 1116.6V1133.4M1645.8 1123.8V1133.4M1648.1 1121.4V1133.4M1650.5 1121.4V1138.1M1652.9 1123.8V1142.9M1655.3 1123.8V1142.9M1657.7 1128.6V1150.1M1660.1 1123.8V1152.4M1662.5 1140.5V1154.8M1664.8 1138.1V1157.2M1667.2 1142.9V1157.2M1669.6 1135.7V1162.0M1672.0 1145.3V1162.0M1674.4 1131.0V1159.6M1676.8 1145.3V1169.1M1679.1 1131.0V1150.1M1681.5 1138.1V1150.1M1683.9 1138.1V1152.4M1686.3 1121.4V1150.1M1688.7 1123.8V1138.1M1691.1 1128.6V1150.1M1693.5 1131.0V1150.1M1695.8 1138.1V1150.1M1698.2 1142.9V1150.1M1700.6 1142.9V1152.4M1703.0 1131.0V1147.7M1705.4 1121.4V1142.9M1707.8 1128.6V1142.9M1710.2 1133.4V1150.1M1712.5 1121.4V1145.3M1714.9 1107.1V1145.3M1717.3 1104.7V1121.4M1719.7 1109.5V1126.2M1722.1 1102.3V1121.4M1724.5 1104.7V1119.0M1726.8 1085.6V1119.0M1729.2 1085.6V1126.2M1731.6 1099.9V1116.6M1734.0 1102.3V1121.4M1736.4 1095.2V1114.3M1738.8 1088.0V1107.1M1741.2 1095.2V1121.4M1743.5 1104.7V1123.8M1745.9 1102.3V1121.4M1748.3 1104.7V1126.2M1750.7 1114.3V1126.2M1753.1 1095.2V1126.2M1755.5 1109.5V1123.8M1757.9 1102.3V1123.8M1760.2 1116.6V1133.4M1762.6 1107.1V1128.6M1765.0 1090.4V1119.0M1767.4 1090.4V1114.3M1769.8 1097.6V1119.0M1772.2 1104.7V1119.0M1774.5 1095.2V1119.0M1776.9 1092.8V1121.4M1779.3 1092.8V1109.5M1781.7 1095.2V1102.3M1784.1 1088.0V1107.1M1786.5 1097.6V1109.5M1788.9 1085.6V1111.9M1791.2 1088.0V1111.9M1793.6 1088.0V1119.0M1796.0 1095.2V1104.7M1798.4 1085.6V1109.5M1800.8 1092.8V1109.5M1803.2 1095.2V1116.6M1805.6 1095.2V1111.9M1807.9 1088.0V1111.9M1810.3 1083.2V1104.7M1812.7 1083.2V1107.1M1815.1 1090.4V1109.5M1817.5 1090.4V1104.7M1819.9 1078.5V1104.7M1822.2 1078.5V1095.2M1824.6 1064.2V1092.8M1827.0 1064.2V1102.3M1829.4 1090.4V1102.3M1831.8 1085.6V1104.7M1834.2 1088.0V1107.1M1836.6 1073.7V1092.8M1838.9 1078.5V1102.3M1841.3 1078.5V1114.3M1843.7 1088.0V1114.3M1846.1 1095.2V1104.7M1848.5 1085.6V1102.3M1850.9 1085.6V1104.7M1853.3 1085.6V1114.3M1855.6 1090.4V1114.3M1858.0 1099.9V1119.0M1860.4 1088.0V1116.6M1862.8 1095.2V1102.3M1865.2 1097.6V1114.3M1867.6 1095.2V1114.3M1869.9 1099.9V1111.9M1872.3 1097.6V1107.1M1874.7 1088.0V1116.6M1877.1 1088.0V1104.7M1879.5 1088.0V1099.9M1881.9 1095.2V1116.6M1884.3 1090.4V1111.9M1886.6 1088.0V1119.0M1889.0 1088.0V1119.0M1891.4 1097.6V1121.4M1893.8 1099.9V1128.6M1896.2 1102.3V1126.2M1898.6 1119.0V1131.0M1901.0 1102.3V1126.2M1903.3 1102.3V1116.6M1905.7 1111.9V1131.0M1908.1 1114.3V1123.8M1910.5 1109.5V1119.0M1912.9 1109.5V1121.4M1915.3 1092.8V1123.8M1917.6 1092.8V1119.0M1920.0 1099.9V1123.8M1922.4 1107.1V1121.4M1924.8 1116.6V1126.2M1927.2 1109.5V1123.8M1929.6 1104.7V1133.4M1932.0 1104.7V1128.6M1934.3 1102.3V1119.0M1936.7 1102.3V1114.3M1939.1 1107.1V1123.8M1941.5 1104.7V1123.8M1943.9 1095.2V1123.8M1946.3 1095.2V1114.3M1948.7 1104.7V1123.8M1951.0 1097.6V1119.0M1953.4 1097.6V1114.3M1955.8 1104.7V1114.3M1958.2 1104.7V1126.2M1960.6 1119.0V1133.4M1963.0 1114.3V1126.2M1965.3 1114.3V1126.2M1967.7 1114.3V1131.0M1970.1 1104.7V1131.0M1972.5 1107.1V1123.8M1974.9 1107.1V1131.0M1977.3 1109.5V1128.6M1979.7 1121.4V1135.7M1982.0 1119.0V1145.3M1984.4 1133.4V1145.3M1986.8 1107.1V1138.1M1989.2 1109.5V1119.0M1991.6 1109.5V1135.7M1994.0 1107.1V1121.4M1996.4 1104.7V1126.2M1998.7 1116.6V1126.2M2001.1 1107.1V1126.2M2003.5 1109.5V1121.4M2005.9 1107.1V1121.4M2008.3 1116.6V1133.4M2010.7 1116.6V1128.6M2013.0 1114.3V1123.8M2015.4 1107.1V1123.8M2017.8 1102.3V1116.6M2020.2 1102.3V1140.5M2022.6 1121.4V1142.9M2025.0 1116.6V1133.4M2027.4 1114.3V1133.4M2029.7 1114.3V1133.4M2032.1 1116.6V1135.7M2034.5 1131.0V1145.3M2036.9 1126.2V1140.5M2039.3 1123.8V1142.9M2041.7 1133.4V1145.3M2044.1 1126.2V1145.3M2046.4 1126.2V1138.1M2048.8 1123.8V1138.1M2051.2 1126.2V1142.9M2053.6 1123.8V1142.9M2056.0 1116.6V1133.4M2058.4 1121.4V1147.7M2060.7 1123.8V1147.7M2063.1 1119.0V1138.1M2065.5 1116.6V1131.0M2067.9 1123.8V1135.7M2070.3 1126.2V1142.9M2072.7 1121.4V1142.9M2075.1 1109.5V1138.1M2077.4 1104.7V1128.6M2079.8 1099.9V1119.0M2082.2 1092.8V1104.7M2084.6 1099.9V1114.3M2087.0 1088.0V1114.3M2089.4 1088.0V1097.6M2091.8 1088.0V1109.5M2094.1 1078.5V1104.7M2096.5 1078.5V1109.5M2098.9 1095.2V1109.5M2101.3 1095.2V1102.3M2103.7 1097.6V1126.2M2106.1 1109.5V1128.6M2108.4 1109.5V1138.1M2110.8 1109.5V1131.0M2113.2 1116.6V1123.8M2115.6 1109.5V1123.8M2118.0 1116.6V1131.0M2120.4 1116.6V1131.0M2122.8 1119.0V1128.6M2125.1 1107.1V1128.6M2127.5 1109.5V1126.2M2129.9 1111.9V1133.4M2132.3 1102.3V1131.0M2134.7 1104.7V1123.8M2137.1 1104.7V1128.6M2139.5 1097.6V1116.6M2141.8 1104.7V1116.6M2144.2 1097.6V1116.6M2146.6 1099.9V1119.0M2149.0 1111.9V1131.0M2151.4 1119.0V1138.1M2153.8 1114.3V1138.1M2156.1 1114.3V1128.6M2158.5 1119.0V1131.0M2160.9 1121.4V1142.9M2163.3 1121.4V1133.4M2165.7 1114.3V1133.4M2168.1 1116.6V1140.5M2170.5 1114.3V1138.1M2172.8 1114.3V1128.6M2175.2 1104.7V1128.6M2177.6 1092.8V1116.6M2180.0 1092.8V1121.4M2182.4 1104.7V1119.0M2184.8 1102.3V1119.0M2187.2 1102.3V1133.4M2189.5 1104.7V1133.4M2191.9 1104.7V1116.6M2194.3 1092.8V1116.6M2196.7 1080.9V1097.6M2199.1 1088.0V1102.3M2201.5 1078.5V1102.3M2203.8 1085.6V1102.3M2206.2 1078.5V1102.3M2208.6 1078.5V1104.7M2211.0 1090.4V1104.7M2213.4 1078.5V1104.7M2215.8 1068.9V1083.2M2218.2 1066.5V1085.6M2220.5 1080.9V1092.8M2222.9 1080.9V1104.7M2225.3 1080.9V1111.9M2227.7 1090.4V1111.9M2230.1 1095.2V1104.7M2232.5 1090.4V1104.7M2234.9 1088.0V1097.6M2237.2 1092.8V1111.9M2239.6 1102.3V1114.3M2242.0 1085.6V1114.3M2244.4 1085.6V1104.7M2246.8 1092.8V1102.3M2249.2 1097.6V1114.3M2251.5 1083.2V1102.3M2253.9 1088.0V1107.1M2256.3 1090.4V1102.3M2258.7 1068.9V1095.2M2261.1 1068.9V1090.4M2263.5 1068.9V1088.0M2265.9 1078.5V1088.0M2268.2 1066.5V1085.6M2270.6 1066.5V1090.4M2273.0 1078.5V1095.2M2275.4 1083.2V1102.3M2277.8 1076.1V1095.2M2280.2 1076.1V1099.9M2282.6 1085.6V1111.9M2284.9 1083.2V1111.9M2287.3 1099.9V1111.9M2289.7 1076.1V1107.1M2292.1 1076.1V1104.7M2294.5 1092.8V1107.1M2296.9 1095.2V1102.3M2299.2 1092.8V1116.6M2301.6 1078.5V1097.6M2304.0 1080.9V1107.1M2306.4 1080.9V1099.9M2308.8 1095.2V1104.7M2311.2 1097.6V1116.6"/>
</g>
<rect x="2312.8" y="46.9" width="7.3" height="1541.1" fill="#000"/>
<g class="tick">
<text x="226.8" y="1575.9" text-anchor="end">0.0</text>
<text x="226.8" y="1145.6" text-anchor="end">0.2</text>
<text x="226.8" y="715.2" text-anchor="end">0.4</text>
<text x="226.8" y="284.9" text-anchor="end">0.6</text>
<text x="267.5" y="1645.3" text-anchor="middle">0</text>
<text x="677.3" y="1645.3" text-anchor="middle">4</text>
<text x="1087.1" y="1645.3" text-anchor="middle">8</text>
<text x="1496.8" y="1645.3" text-anchor="middle">12</text>
<text x="1906.6" y="1645.3" text-anchor="middle">16</text>
<text x="2316.4" y="1645.3" text-anchor="middle">20</text>
</g>
<text class="ttl" x="1291.5" y="1712.8" text-anchor="middle">Time (ns)</text>
<text class="ttl" style="stroke-width:0.3px" transform="translate(110.8 855.5) rotate(-90)" text-anchor="middle">RMSD (nm)</text>
<clipPath id="lgclip"><rect x="270" y="54" width="800" height="787.6"/></clipPath>
<g>
<rect x="1071.2" y="53.7" width="2.6" height="793" fill="#c4c4c4"/>
<rect x="267.5" y="52.5" width="802.5" height="793.1" fill="#fdfdfd" stroke="#000" stroke-width="2.4"/>
<rect x="263.8" y="53.7" width="2.5" height="1498" fill="#6b6061"/>
<rect x="298" y="99.8" width="185.4" height="5.2" fill="#000000"/>
<text class="leg" clip-path="url(#lgclip)" x="507" y="129.4">WT</text>
<rect x="298" y="199.6" width="185.4" height="5.2" fill="#ff0000"/>
<text class="leg" clip-path="url(#lgclip)" x="507" y="229.2">A302S</text>
<rect x="298" y="299.3" width="185.4" height="5.2" fill="#0000ff"/>
<text class="leg" clip-path="url(#lgclip)" x="507" y="328.9">R300Q</text>
<rect x="298" y="399.0" width="185.4" height="5.2" fill="#00ff1e"/>
<text class="leg" clip-path="url(#lgclip)" x="507" y="428.6">Dual_mutation</text>
<rect x="298" y="498.8" width="185.4" height="5.2" fill="#00ffff"/>
<text class="leg" clip-path="url(#lgclip)" x="507" y="528.4">Fipronil-WT</text>
<rect x="298" y="598.5" width="185.4" height="5.2" fill="#ffff00"/>
<text class="leg" clip-path="url(#lgclip)" x="507" y="628.1">Fipronil-A302S</text>
<rect x="298" y="698.3" width="185.4" height="5.2" fill="#ff00ff"/>
<text class="leg" clip-path="url(#lgclip)" x="507" y="727.9">Fipronil-R300Q</text>
<rect x="298" y="798.0" width="185.4" height="5.2" fill="#800080"/>
<text class="leg" clip-path="url(#lgclip)" x="507" y="827.6">Fipronil-Dual</text>
</g>
</svg>
</body></html>
